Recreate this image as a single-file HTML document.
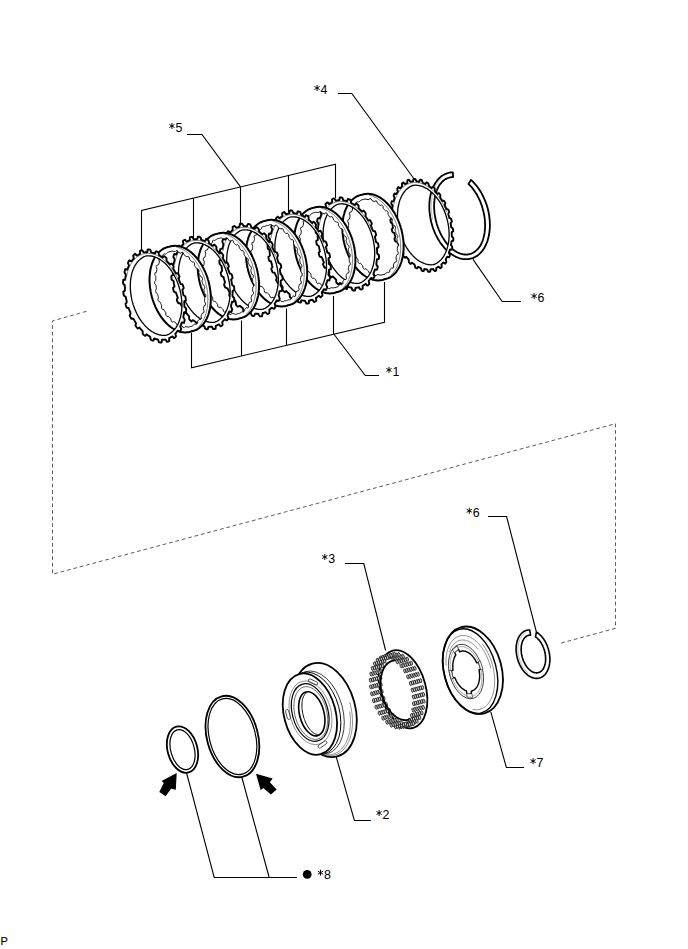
<!DOCTYPE html>
<html><head><meta charset="utf-8"><style>
html,body{margin:0;padding:0;background:#fff;width:688px;height:949px;overflow:hidden}
svg{display:block}
</style></head><body><svg width="688" height="949" viewBox="0 0 688 949"><defs></defs><path d="M86.5,311.3 L52.5,320.9 L52.5,574.2 L615.5,423.7 L615.5,628.3 L560.3,643.3" fill="none" stroke="#555" stroke-width="0.95" stroke-dasharray="3.8,2.8"/><path d="M452.8,172.4 451.6,172.4 450.4,172.5 449.3,172.7 448.1,173 447,173.4 445.9,173.8 444.8,174.2 443.7,174.8 442.7,175.4 441.7,176.1 440.7,176.8 439.8,177.6 438.9,178.5 438,179.4 437.2,180.4 436.4,181.5 435.6,182.6 434.9,183.8 434.2,185 433.5,186.2 432.9,187.6 432.4,188.9 431.9,190.3 431.4,191.8 431,193.3 430.6,194.8 430.3,196.3 430,197.9 429.7,199.5 429.6,201.2 429.4,202.9 429.4,204.6 429.3,206.3 429.3,208 429.4,209.7 429.5,211.5 429.7,213.2 429.9,215 430.2,216.7 430.5,218.5 430.8,220.3 431.2,222 431.7,223.7 432.2,225.5 432.7,227.2 433.3,228.9 434,230.5 434.6,232.2 435.3,233.8 436.1,235.4 436.9,236.9 437.7,238.5 438.6,239.9 439.5,241.4 440.4,242.8 441.4,244.1 442.4,245.4 443.4,246.7 444.4,247.9 445.5,249.1 446.6,250.2 447.7,251.2 448.9,252.2 450,253.2 451.2,254 452.4,254.8 453.6,255.6 454.8,256.2 456,256.9 457.2,257.4 458.5,257.9 459.7,258.3 460.9,258.6 462.1,258.9 463.4,259.1 464.6,259.2 465.8,259.2 467,259.2 468.2,259.1 469.3,259 470.5,258.7 471.6,258.4 472.7,258.1 473.8,257.6 474.9,257.1 475.9,256.5 477,255.9 478,255.2 478.9,254.4 479.8,253.6 480.7,252.7 481.6,251.7 482.4,250.7 483.2,249.6 484,248.5 484.7,247.3 485.3,246 486,244.7 486.5,243.4 487.1,242 487.6,240.6 488,239.1 488.4,237.6 488.8,236.1 489.1,234.5 489.3,232.9 489.5,231.3 489.7,229.6 489.8,227.9 489.9,226.2 489.9,224.5 489.8,222.8 489.8,221.1 489.6,219.3 489.4,217.5 489.2,215.8 488.9,214 488.6,212.3 488.2,210.5 487.8,208.8 487.3,207 486.8,205.3 486.2,203.6 485.6,201.9 484.9,200.3 484.2,198.7 483.5,197.1 482.7,195.5 481.9,193.9 481.1,192.4 480.2,191 479.3,189.6 478.3,188.2 477.4,186.8 476.3,185.5 475.3,184.3 474.2,183.1 473.2,182 472.1,180.9 470.9,179.9 468.5,184 469.5,184.9 470.4,185.9 471.4,186.9 472.3,188 473.1,189.1 474,190.3 474.8,191.5 475.7,192.7 476.5,194 477.2,195.3 477.9,196.7 478.6,198.1 479.3,199.5 480,200.9 480.6,202.4 481.1,203.9 481.7,205.4 482.2,206.9 482.6,208.4 483,210 483.4,211.5 483.8,213.1 484.1,214.7 484.4,216.2 484.6,217.8 484.8,219.4 484.9,220.9 485,222.5 485.1,224 485.1,225.6 485.1,227.1 485,228.6 484.9,230 484.7,231.5 484.6,232.9 484.3,234.3 484,235.7 483.7,237 483.4,238.3 483,239.6 482.6,240.8 482.1,242 481.6,243.1 481.1,244.2 480.5,245.2 479.9,246.2 479.2,247.2 478.6,248.1 477.9,248.9 477.1,249.7 476.4,250.4 475.6,251.1 474.7,251.7 473.9,252.3 473,252.8 472.1,253.2 471.2,253.6 470.3,253.9 469.4,254.2 468.4,254.4 467.4,254.5 466.4,254.6 465.4,254.5 464.4,254.5 463.4,254.4 462.4,254.2 461.4,253.9 460.3,253.6 459.3,253.2 458.3,252.8 457.2,252.3 456.2,251.7 455.2,251.1 454.2,250.4 453.2,249.7 452.2,248.9 451.2,248 450.2,247.1 449.3,246.2 448.3,245.2 447.4,244.2 446.5,243.1 445.6,241.9 444.8,240.7 444,239.5 443.2,238.3 442.4,237 441.6,235.6 440.9,234.3 440.2,232.9 439.6,231.4 439,230 438.4,228.5 437.8,227 437.3,225.5 436.8,224 436.4,222.4 436,220.9 435.6,219.3 435.3,217.8 435,216.2 434.7,214.6 434.5,213 434.4,211.5 434.2,209.9 434.2,208.4 434.1,206.8 434.1,205.3 434.2,203.8 434.2,202.3 434.4,200.9 434.5,199.4 434.8,198 435,196.7 435.3,195.3 435.6,194 436,192.7 436.4,191.5 436.9,190.3 437.3,189.1 437.9,188 438.4,186.9 439,185.9 439.6,184.9 440.3,184 441,183.1 441.7,182.3 442.4,181.5 443.2,180.8 444,180.2 444.9,179.6 445.7,179.1 446.6,178.6 447.5,178.2 448.4,177.8 449.3,177.6 450.3,177.3 451.3,177.2 452.2,177.1 453.2,177Z" fill="#fff" stroke="#000" stroke-width="1.8" stroke-linejoin="round"/><path d="M441.4,178.5 440.2,179.6 439.1,180.9 438,182.2 437,183.7 436,185.3 435.2,187 434.4,188.7 433.7,190.6 433.1,192.5 432.5,194.6 432.1,196.7 431.7,198.8 431.5,201 431.3,203.3 431.2,205.6 431.3,207.9 431.4,210.3 431.6,212.6 431.9,215 432.3,217.4 432.7,219.8" fill="none" stroke="#888" stroke-width="0.5"/><path d="M433.7,269.7 434.6,271.1 435.1,271 435.6,270.8 436.1,270.6 436.3,269.7 436.3,267.9 436.7,267.6 437.2,267.4 437.6,267.2 438.1,266.9 438.5,266.7 439.3,267.2 440.3,268.3 440.8,268 441.2,267.7 441.6,267.3 441.7,266.3 441.4,264.5 441.8,264.1 442.2,263.7 442.6,263.3 442.9,262.9 443.3,262.5 444.1,262.8 445.2,263.7 445.6,263.2 446,262.7 446.3,262.2 446.3,261.2 445.7,259.4 446,258.8 446.3,258.3 446.6,257.8 446.9,257.3 447.2,256.8 447.9,256.8 449.1,257.3 449.4,256.7 449.7,256.1 449.9,255.5 449.7,254.4 448.9,252.8 449.1,252.1 449.4,251.5 449.6,250.9 449.7,250.3 449.9,249.6 450.7,249.4 451.8,249.6 452,248.9 452.2,248.2 452.3,247.5 452,246.4 451,245 451.1,244.3 451.2,243.6 451.3,242.9 451.4,242.2 451.5,241.4 452.1,241 453.2,240.8 453.3,240 453.3,239.3 453.4,238.5 452.9,237.5 451.8,236.3 451.8,235.6 451.8,234.8 451.7,234.1 451.7,233.3 451.7,232.6 452.2,231.9 453.2,231.3 453.2,230.5 453.1,229.7 453,228.9 452.5,228.1 451.2,227.2 451.1,226.4 451,225.7 450.9,224.9 450.8,224.1 450.6,223.4 451,222.5 451.9,221.6 451.7,220.8 451.5,220 451.3,219.2 450.7,218.5 449.4,218 449.2,217.2 449,216.5 448.8,215.7 448.5,215 448.3,214.2 448.5,213.3 449.2,212.1 448.9,211.3 448.7,210.5 448.4,209.7 447.6,209.2 446.4,209.1 446.1,208.4 445.8,207.7 445.4,207 445.1,206.3 444.8,205.6 444.9,204.5 445.3,203.1 445,202.4 444.6,201.7 444.2,201 443.5,200.7 442.3,201 441.9,200.3 441.5,199.7 441.1,199.1 440.7,198.5 440.3,197.9 440.2,196.7 440.4,195.1 440,194.5 439.5,193.9 439.1,193.3 438.3,193.2 437.3,193.9 436.8,193.3 436.4,192.8 435.9,192.3 435.5,191.8 435,191.3 434.8,190.1 434.7,188.4 434.2,187.9 433.7,187.4 433.2,187 432.5,187.1 431.6,188.1 431.1,187.7 430.6,187.3 430.1,187 429.6,186.6 429.1,186.2 428.7,185.1 428.4,183.4 427.9,183 427.4,182.7 426.8,182.4 426.2,182.8 425.5,184 425,183.8 424.5,183.5 424,183.3 423.4,183.1 422.9,182.9 422.4,181.9 421.9,180.1 421.3,179.9 420.8,179.8 420.2,179.6 419.7,180.2 419.3,181.8 418.7,181.7 418.2,181.6 417.7,181.5 417.2,181.4 416.7,181.4 416,180.5 415.3,178.9 414.8,178.9 414.2,178.9 413.7,178.9 413.3,179.7 413.1,181.4 412.6,181.5 412.1,181.5 411.6,181.6 411.1,181.7 410.6,181.8 409.9,181.1 409,179.7 408.5,179.8 408,180 407.5,180.2 407.3,181.1 407.3,182.9 406.9,183.2 406.4,183.4 406,183.6 405.5,183.9 405.1,184.1 404.3,183.6 403.3,182.5 402.8,182.8 402.4,183.1 402,183.5 401.9,184.5 402.2,186.3 401.8,186.7 401.4,187.1 401,187.5 400.7,187.9 400.3,188.3 399.5,188 398.4,187.1 398,187.6 397.6,188.1 397.3,188.6 397.3,189.6 397.9,191.4 397.6,192 397.3,192.5 397,193 396.7,193.5 396.4,194 395.7,194 394.5,193.5 394.2,194.1 393.9,194.7 393.7,195.3 393.9,196.4 394.7,198 394.5,198.7 394.2,199.3 394,199.9 393.9,200.5 393.7,201.2 392.9,201.4 391.8,201.2 391.6,201.9 391.4,202.6 391.3,203.3 391.6,204.4 392.6,205.8 392.5,206.5 392.4,207.2 392.3,207.9 392.2,208.6 392.1,209.4 391.5,209.8 390.4,210 390.3,210.8 390.3,211.5 390.2,212.3 390.7,213.3 391.8,214.5 391.8,215.2 391.8,216 391.9,216.7 391.9,217.5 391.9,218.2 391.4,218.9 390.4,219.5 390.4,220.3 390.5,221.1 390.6,221.9 391.1,222.7 392.4,223.6 392.5,224.4 392.6,225.1 392.7,225.9 392.8,226.7 393,227.4 392.6,228.3 391.7,229.2 391.9,230 392.1,230.8 392.3,231.6 392.9,232.3 394.2,232.8 394.4,233.6 394.6,234.3 394.8,235.1 395.1,235.8 395.3,236.6 395.1,237.5 394.4,238.7 394.7,239.5 394.9,240.3 395.2,241.1 396,241.6 397.2,241.7 397.5,242.4 397.8,243.1 398.2,243.8 398.5,244.5 398.8,245.2 398.7,246.3 398.3,247.7 398.6,248.4 399,249.1 399.4,249.8 400.1,250.1 401.3,249.8 401.7,250.5 402.1,251.1 402.5,251.7 402.9,252.3 403.3,252.9 403.4,254.1 403.2,255.7 403.6,256.3 404.1,256.9 404.5,257.5 405.3,257.6 406.3,256.9 406.8,257.5 407.2,258 407.7,258.5 408.1,259 408.6,259.5 408.8,260.7 408.9,262.4 409.4,262.9 409.9,263.4 410.4,263.8 411.1,263.7 412,262.7 412.5,263.1 413,263.5 413.5,263.8 414,264.2 414.5,264.6 414.9,265.7 415.2,267.4 415.7,267.8 416.2,268.1 416.8,268.4 417.4,268 418.1,266.8 418.6,267 419.1,267.3 419.6,267.5 420.2,267.7 420.7,267.9 421.2,268.9 421.7,270.7 422.3,270.9 422.8,271 423.4,271.2 423.9,270.6 424.3,269 424.9,269.1 425.4,269.2 425.9,269.3 426.4,269.4 426.9,269.4 427.6,270.3 428.3,271.9 428.8,271.9 429.4,271.9 429.9,271.9 430.3,271.1 430.5,269.4 431,269.3 431.5,269.3 432,269.2 432.5,269.1 433,269Z M448.3,225 448.4,225.7 448.5,226.3 448.6,227 448.7,227.7 448.8,228.4 448.8,229 448.9,229.7 449,230.5 449,231.2 449,231.9 449.1,232.6 449.1,233.4 449.1,234.1 449.1,234.9 449.1,235.7 449.1,236.5 449,237.3 449,238.1 448.9,238.9 448.9,239.8 448.8,240.6 448.7,241.5 448.5,242.3 448.4,243.2 448.2,244.1 448,245 447.8,246 447.6,246.9 447.3,247.8 447,248.8 446.7,249.7 446.4,250.7 446,251.6 445.6,252.6 445.2,253.5 444.7,254.4 444.2,255.4 443.6,256.3 443,257.2 442.4,258 441.7,258.9 441,259.7 440.2,260.5 439.4,261.2 438.6,261.9 437.7,262.5 436.8,263.1 435.9,263.7 434.9,264.1 433.9,264.5 432.8,264.7 431.7,264.8 430.7,264.8 429.6,264.7 428.5,264.6 427.4,264.4 426.4,264.2 425.3,263.9 424.3,263.5 423.3,263.1 422.3,262.7 421.3,262.2 420.4,261.7 419.5,261.2 418.6,260.6 417.7,260 416.9,259.4 416.1,258.8 415.3,258.1 414.6,257.5 413.9,256.8 413.2,256.1 412.5,255.4 411.9,254.7 411.3,254 410.7,253.3 410.1,252.6 409.6,251.9 409,251.2 408.5,250.6 408.1,249.9 407.6,249.2 407.1,248.5 406.7,247.8 406.3,247.2 405.9,246.5 405.5,245.8 405.1,245.2 404.8,244.5 404.4,243.8 404.1,243.2 403.8,242.6 403.5,241.9 403.2,241.3 402.9,240.6 402.6,240 402.4,239.4 402.1,238.8 401.9,238.1 401.6,237.5 401.4,236.9 401.2,236.3 401,235.7 400.7,235 400.5,234.4 400.3,233.8 400.2,233.2 400,232.6 399.8,232 399.6,231.3 399.5,230.7 399.3,230.1 399.2,229.5 399,228.8 398.9,228.2 398.7,227.6 398.6,226.9 398.5,226.3 398.4,225.7 398.3,225 398.2,224.3 398.1,223.7 398,223 397.9,222.3 397.8,221.6 397.8,221 397.7,220.3 397.6,219.5 397.6,218.8 397.5,218.1 397.5,217.4 397.5,216.6 397.5,215.9 397.5,215.1 397.5,214.3 397.5,213.5 397.6,212.7 397.6,211.9 397.7,211.1 397.7,210.2 397.8,209.4 397.9,208.5 398.1,207.7 398.2,206.8 398.4,205.9 398.6,205 398.8,204 399,203.1 399.2,202.2 399.5,201.2 399.8,200.3 400.2,199.3 400.6,198.4 401,197.4 401.4,196.5 401.9,195.6 402.4,194.6 403,193.7 403.6,192.8 404.2,192 404.9,191.1 405.6,190.3 406.4,189.5 407.2,188.8 408,188.1 408.9,187.5 409.8,186.9 410.7,186.3 411.7,185.9 412.7,185.5 413.8,185.3 414.8,185.2 415.9,185.2 417,185.3 418.1,185.4 419.2,185.6 420.2,185.8 421.3,186.1 422.3,186.5 423.3,186.9 424.3,187.3 425.2,187.8 426.2,188.3 427.1,188.8 428,189.4 428.8,190 429.7,190.6 430.5,191.2 431.2,191.9 432,192.5 432.7,193.2 433.4,193.9 434.1,194.6 434.7,195.3 435.3,196 435.9,196.7 436.5,197.4 437,198.1 437.5,198.8 438,199.4 438.5,200.1 439,200.8 439.4,201.5 439.9,202.2 440.3,202.8 440.7,203.5 441.1,204.2 441.4,204.8 441.8,205.5 442.1,206.2 442.5,206.8 442.8,207.4 443.1,208.1 443.4,208.7 443.7,209.4 444,210 444.2,210.6 444.5,211.2 444.7,211.9 445,212.5 445.2,213.1 445.4,213.7 445.6,214.3 445.8,215 446,215.6 446.2,216.2 446.4,216.8 446.6,217.4 446.8,218 446.9,218.7 447.1,219.3 447.3,219.9 447.4,220.5 447.6,221.2 447.7,221.8 447.8,222.4 448,223.1 448.1,223.7 448.2,224.3Z" fill="#fff" fill-rule="evenodd" stroke="none"/><path d="M433.7,269.7 434.6,271.1 435.1,271 435.6,270.8 436.1,270.6 436.3,269.7 436.3,267.9 436.7,267.6 437.2,267.4 437.6,267.2 438.1,266.9 438.5,266.7 439.3,267.2 440.3,268.3 440.8,268 441.2,267.7 441.6,267.3 441.7,266.3 441.4,264.5 441.8,264.1 442.2,263.7 442.6,263.3 442.9,262.9 443.3,262.5 444.1,262.8 445.2,263.7 445.6,263.2 446,262.7 446.3,262.2 446.3,261.2 445.7,259.4 446,258.8 446.3,258.3 446.6,257.8 446.9,257.3 447.2,256.8 447.9,256.8 449.1,257.3 449.4,256.7 449.7,256.1 449.9,255.5 449.7,254.4 448.9,252.8 449.1,252.1 449.4,251.5 449.6,250.9 449.7,250.3 449.9,249.6 450.7,249.4 451.8,249.6 452,248.9 452.2,248.2 452.3,247.5 452,246.4 451,245 451.1,244.3 451.2,243.6 451.3,242.9 451.4,242.2 451.5,241.4 452.1,241 453.2,240.8 453.3,240 453.3,239.3 453.4,238.5 452.9,237.5 451.8,236.3 451.8,235.6 451.8,234.8 451.7,234.1 451.7,233.3 451.7,232.6 452.2,231.9 453.2,231.3 453.2,230.5 453.1,229.7 453,228.9 452.5,228.1 451.2,227.2 451.1,226.4 451,225.7 450.9,224.9 450.8,224.1 450.6,223.4 451,222.5 451.9,221.6 451.7,220.8 451.5,220 451.3,219.2 450.7,218.5 449.4,218 449.2,217.2 449,216.5 448.8,215.7 448.5,215 448.3,214.2 448.5,213.3 449.2,212.1 448.9,211.3 448.7,210.5 448.4,209.7 447.6,209.2 446.4,209.1 446.1,208.4 445.8,207.7 445.4,207 445.1,206.3 444.8,205.6 444.9,204.5 445.3,203.1 445,202.4 444.6,201.7 444.2,201 443.5,200.7 442.3,201 441.9,200.3 441.5,199.7 441.1,199.1 440.7,198.5 440.3,197.9 440.2,196.7 440.4,195.1 440,194.5 439.5,193.9 439.1,193.3 438.3,193.2 437.3,193.9 436.8,193.3 436.4,192.8 435.9,192.3 435.5,191.8 435,191.3 434.8,190.1 434.7,188.4 434.2,187.9 433.7,187.4 433.2,187 432.5,187.1 431.6,188.1 431.1,187.7 430.6,187.3 430.1,187 429.6,186.6 429.1,186.2 428.7,185.1 428.4,183.4 427.9,183 427.4,182.7 426.8,182.4 426.2,182.8 425.5,184 425,183.8 424.5,183.5 424,183.3 423.4,183.1 422.9,182.9 422.4,181.9 421.9,180.1 421.3,179.9 420.8,179.8 420.2,179.6 419.7,180.2 419.3,181.8 418.7,181.7 418.2,181.6 417.7,181.5 417.2,181.4 416.7,181.4 416,180.5 415.3,178.9 414.8,178.9 414.2,178.9 413.7,178.9 413.3,179.7 413.1,181.4 412.6,181.5 412.1,181.5 411.6,181.6 411.1,181.7 410.6,181.8 409.9,181.1 409,179.7 408.5,179.8 408,180 407.5,180.2 407.3,181.1 407.3,182.9 406.9,183.2 406.4,183.4 406,183.6 405.5,183.9 405.1,184.1 404.3,183.6 403.3,182.5 402.8,182.8 402.4,183.1 402,183.5 401.9,184.5 402.2,186.3 401.8,186.7 401.4,187.1 401,187.5 400.7,187.9 400.3,188.3 399.5,188 398.4,187.1 398,187.6 397.6,188.1 397.3,188.6 397.3,189.6 397.9,191.4 397.6,192 397.3,192.5 397,193 396.7,193.5 396.4,194 395.7,194 394.5,193.5 394.2,194.1 393.9,194.7 393.7,195.3 393.9,196.4 394.7,198 394.5,198.7 394.2,199.3 394,199.9 393.9,200.5 393.7,201.2 392.9,201.4 391.8,201.2 391.6,201.9 391.4,202.6 391.3,203.3 391.6,204.4 392.6,205.8 392.5,206.5 392.4,207.2 392.3,207.9 392.2,208.6 392.1,209.4 391.5,209.8 390.4,210 390.3,210.8 390.3,211.5 390.2,212.3 390.7,213.3 391.8,214.5 391.8,215.2 391.8,216 391.9,216.7 391.9,217.5 391.9,218.2 391.4,218.9 390.4,219.5 390.4,220.3 390.5,221.1 390.6,221.9 391.1,222.7 392.4,223.6 392.5,224.4 392.6,225.1 392.7,225.9 392.8,226.7 393,227.4 392.6,228.3 391.7,229.2 391.9,230 392.1,230.8 392.3,231.6 392.9,232.3 394.2,232.8 394.4,233.6 394.6,234.3 394.8,235.1 395.1,235.8 395.3,236.6 395.1,237.5 394.4,238.7 394.7,239.5 394.9,240.3 395.2,241.1 396,241.6 397.2,241.7 397.5,242.4 397.8,243.1 398.2,243.8 398.5,244.5 398.8,245.2 398.7,246.3 398.3,247.7 398.6,248.4 399,249.1 399.4,249.8 400.1,250.1 401.3,249.8 401.7,250.5 402.1,251.1 402.5,251.7 402.9,252.3 403.3,252.9 403.4,254.1 403.2,255.7 403.6,256.3 404.1,256.9 404.5,257.5 405.3,257.6 406.3,256.9 406.8,257.5 407.2,258 407.7,258.5 408.1,259 408.6,259.5 408.8,260.7 408.9,262.4 409.4,262.9 409.9,263.4 410.4,263.8 411.1,263.7 412,262.7 412.5,263.1 413,263.5 413.5,263.8 414,264.2 414.5,264.6 414.9,265.7 415.2,267.4 415.7,267.8 416.2,268.1 416.8,268.4 417.4,268 418.1,266.8 418.6,267 419.1,267.3 419.6,267.5 420.2,267.7 420.7,267.9 421.2,268.9 421.7,270.7 422.3,270.9 422.8,271 423.4,271.2 423.9,270.6 424.3,269 424.9,269.1 425.4,269.2 425.9,269.3 426.4,269.4 426.9,269.4 427.6,270.3 428.3,271.9 428.8,271.9 429.4,271.9 429.9,271.9 430.3,271.1 430.5,269.4 431,269.3 431.5,269.3 432,269.2 432.5,269.1 433,269Z" fill="none" stroke="#000" stroke-width="1.9" stroke-linejoin="round"/><path d="M448.3,225 448.4,225.7 448.5,226.3 448.6,227 448.7,227.7 448.8,228.4 448.8,229 448.9,229.7 449,230.5 449,231.2 449,231.9 449.1,232.6 449.1,233.4 449.1,234.1 449.1,234.9 449.1,235.7 449.1,236.5 449,237.3 449,238.1 448.9,238.9 448.9,239.8 448.8,240.6 448.7,241.5 448.5,242.3 448.4,243.2 448.2,244.1 448,245 447.8,246 447.6,246.9 447.3,247.8 447,248.8 446.7,249.7 446.4,250.7 446,251.6 445.6,252.6 445.2,253.5 444.7,254.4 444.2,255.4 443.6,256.3 443,257.2 442.4,258 441.7,258.9 441,259.7 440.2,260.5 439.4,261.2 438.6,261.9 437.7,262.5 436.8,263.1 435.9,263.7 434.9,264.1 433.9,264.5 432.8,264.7 431.7,264.8 430.7,264.8 429.6,264.7 428.5,264.6 427.4,264.4 426.4,264.2 425.3,263.9 424.3,263.5 423.3,263.1 422.3,262.7 421.3,262.2 420.4,261.7 419.5,261.2 418.6,260.6 417.7,260 416.9,259.4 416.1,258.8 415.3,258.1 414.6,257.5 413.9,256.8 413.2,256.1 412.5,255.4 411.9,254.7 411.3,254 410.7,253.3 410.1,252.6 409.6,251.9 409,251.2 408.5,250.6 408.1,249.9 407.6,249.2 407.1,248.5 406.7,247.8 406.3,247.2 405.9,246.5 405.5,245.8 405.1,245.2 404.8,244.5 404.4,243.8 404.1,243.2 403.8,242.6 403.5,241.9 403.2,241.3 402.9,240.6 402.6,240 402.4,239.4 402.1,238.8 401.9,238.1 401.6,237.5 401.4,236.9 401.2,236.3 401,235.7 400.7,235 400.5,234.4 400.3,233.8 400.2,233.2 400,232.6 399.8,232 399.6,231.3 399.5,230.7 399.3,230.1 399.2,229.5 399,228.8 398.9,228.2 398.7,227.6 398.6,226.9 398.5,226.3 398.4,225.7 398.3,225 398.2,224.3 398.1,223.7 398,223 397.9,222.3 397.8,221.6 397.8,221 397.7,220.3 397.6,219.5 397.6,218.8 397.5,218.1 397.5,217.4 397.5,216.6 397.5,215.9 397.5,215.1 397.5,214.3 397.5,213.5 397.6,212.7 397.6,211.9 397.7,211.1 397.7,210.2 397.8,209.4 397.9,208.5 398.1,207.7 398.2,206.8 398.4,205.9 398.6,205 398.8,204 399,203.1 399.2,202.2 399.5,201.2 399.8,200.3 400.2,199.3 400.6,198.4 401,197.4 401.4,196.5 401.9,195.6 402.4,194.6 403,193.7 403.6,192.8 404.2,192 404.9,191.1 405.6,190.3 406.4,189.5 407.2,188.8 408,188.1 408.9,187.5 409.8,186.9 410.7,186.3 411.7,185.9 412.7,185.5 413.8,185.3 414.8,185.2 415.9,185.2 417,185.3 418.1,185.4 419.2,185.6 420.2,185.8 421.3,186.1 422.3,186.5 423.3,186.9 424.3,187.3 425.2,187.8 426.2,188.3 427.1,188.8 428,189.4 428.8,190 429.7,190.6 430.5,191.2 431.2,191.9 432,192.5 432.7,193.2 433.4,193.9 434.1,194.6 434.7,195.3 435.3,196 435.9,196.7 436.5,197.4 437,198.1 437.5,198.8 438,199.4 438.5,200.1 439,200.8 439.4,201.5 439.9,202.2 440.3,202.8 440.7,203.5 441.1,204.2 441.4,204.8 441.8,205.5 442.1,206.2 442.5,206.8 442.8,207.4 443.1,208.1 443.4,208.7 443.7,209.4 444,210 444.2,210.6 444.5,211.2 444.7,211.9 445,212.5 445.2,213.1 445.4,213.7 445.6,214.3 445.8,215 446,215.6 446.2,216.2 446.4,216.8 446.6,217.4 446.8,218 446.9,218.7 447.1,219.3 447.3,219.9 447.4,220.5 447.6,221.2 447.7,221.8 447.8,222.4 448,223.1 448.1,223.7 448.2,224.3Z" fill="none" stroke="#000" stroke-width="1.3"/><path d="M446.6,211.7 445.9,210.1 445.3,208.5 444.6,207 443.8,205.5 443.1,204 442.3,202.6 441.5,201.2 440.6,199.8 439.7,198.4 438.8,197.2 437.8,195.9 436.9,194.7 435.9,193.6 434.9,192.4 433.8,191.4 432.8,190.4 431.7,189.4 430.6,188.6 429.5,187.7 428.4,186.9 427.3,186.2 426.2,185.6 425,185 423.9,184.4 422.8,184 421.6,183.6 420.5,183.2 419.3,182.9 418.2,182.7 417,182.6 415.9,182.5 414.8,182.5 413.7,182.5 412.6,182.7 411.5,182.8 410.5,183.1 409.4,183.4 408.4,183.8 407.4,184.2 406.4,184.7 405.4,185.3 404.5,185.9 403.6,186.6 402.7,187.4 401.9,188.2 401,189.1 400.3,190 399.5,191 398.8,192 398.1,193.1 397.4,194.2 396.8,195.4 396.3,196.6 395.7,197.9 395.2,199.2 394.8,200.6 394.4,202 394,203.4 393.7,204.9 393.4,206.4" fill="none" stroke="#333" stroke-width="0.6"/><path d="M402.9,237.1 403,237.9 403.2,238.7 403.2,239.5 403.3,240.3 403.4,241.1 403.5,241.9 403.5,242.8 403.6,243.6 403.6,244.5 403.6,245.3 403.6,246.2 403.6,247.1 403.6,247.9 403.6,248.8 403.6,249.8 403.5,250.7 403.4,251.6 403.3,252.6 403.2,253.5 403.1,254.5 402.9,255.4 402.8,256.4 402.6,257.4 402.3,258.4 402.1,259.4 401.8,260.4 401.5,261.5 401.2,262.5 400.8,263.5 400.4,264.5 400,265.5 399.5,266.6 399,267.6 398.5,268.5 397.9,269.5 397.2,270.5 396.6,271.4 395.9,272.3 395.1,273.2 394.3,274 393.5,274.8 392.6,275.5 391.7,276.2 390.7,276.9 389.7,277.5 388.7,278 387.6,278.4 386.5,278.8 385.4,279.1 384.3,279.3 383.2,279.7 382.1,280 381,280.2 379.8,280.3 378.7,280.4 377.5,280.4 376.4,280.3 375.3,280.2 374.1,280 373,279.7 371.9,279.4 370.8,279 369.7,278.6 368.7,278.1 367.7,277.6 366.7,277.1 365.7,276.5 364.8,275.9 363.8,275.2 363,274.6 362.1,273.9 361.3,273.2 360.5,272.5 359.7,271.7 359,271 358.2,270.2 357.5,269.5 356.9,268.7 356.2,268 355.6,267.2 355,266.4 354.4,265.7 353.9,264.9 353.4,264.1 352.9,263.3 352.4,262.6 351.9,261.8 351.4,261.1 351,260.3 350.6,259.5 350.2,258.8 349.8,258 349.4,257.3 349,256.5 348.7,255.8 348.3,255 348,254.3 347.7,253.5 347.4,252.8 347.1,252.1 346.8,251.3 346.5,250.6 346.2,249.9 346,249.1 345.7,248.4 345.5,247.7 345.3,246.9 345,246.2 344.8,245.4 344.6,244.7 344.4,244 344.3,243.2 344.1,242.5 343.9,241.7 343.7,241 343.6,240.2 343.4,239.4 343.3,238.7 343.2,237.9 343.1,237.1 342.9,236.3 342.8,235.5 342.7,234.7 342.7,233.9 342.6,233.1 342.5,232.3 342.5,231.4 342.4,230.6 342.4,229.7 342.3,228.9 342.3,228 342.3,227.1 342.4,226.3 342.4,225.4 342.4,224.4 342.5,223.5 342.6,222.6 342.7,221.6 342.8,220.7 342.9,219.7 343.1,218.8 343.2,217.8 343.4,216.8 343.6,215.8 343.9,214.8 344.2,213.8 344.5,212.7 344.8,211.7 345.2,210.7 345.6,209.7 346,208.7 346.5,207.6 347,206.6 347.5,205.7 348.1,204.7 348.7,203.7 349.4,202.8 350.1,201.9 350.9,201 351.7,200.2 352.5,199.4 353.4,198.7 354.3,198 355.3,197.3 356.3,196.7 357.3,196.2 358.4,195.8 359.4,195.4 360.6,195.1 361.7,194.9 362.8,194.5 363.9,194.2 365,194 366.1,193.9 367.3,193.8 368.4,193.8 369.6,193.9 370.7,194 371.9,194.2 373,194.5 374.1,194.8 375.2,195.2 376.3,195.6 377.3,196.1 378.3,196.6 379.3,197.1 380.3,197.7 381.2,198.3 382.1,199 383,199.6 383.9,200.3 384.7,201 385.5,201.7 386.3,202.5 387,203.2 387.7,204 388.4,204.7 389.1,205.5 389.7,206.2 390.4,207 391,207.8 391.5,208.5 392.1,209.3 392.6,210.1 393.1,210.9 393.6,211.6 394.1,212.4 394.6,213.1 395,213.9 395.4,214.7 395.8,215.4 396.2,216.2 396.6,216.9 397,217.7 397.3,218.4 397.7,219.2 398,219.9 398.3,220.7 398.6,221.4 398.9,222.1 399.2,222.9 399.5,223.6 399.8,224.3 400,225.1 400.3,225.8 400.5,226.5 400.7,227.3 400.9,228 401.2,228.8 401.4,229.5 401.6,230.2 401.7,231 401.9,231.7 402.1,232.5 402.2,233.2 402.4,234 402.5,234.8 402.7,235.5 402.8,236.3Z M397.8,237.1 397.4,237.7 396.9,238.4 396.9,239 397,239.6 397.1,240.3 397.1,240.9 397.2,241.6 397.3,242.3 397.8,243.1 398.6,243.9 398.6,244.7 398.6,245.4 398.5,246.1 397.6,246.5 397.4,247.2 397.4,248 397.3,248.7 397.3,249.5 397.2,250.3 397.5,251.2 398.3,252.6 398.2,253.5 398.1,254.3 397.1,254.6 396.6,255.2 396.4,256.1 396.2,256.9 396,257.8 396.1,259 396.6,260.7 396.3,261.7 395.5,262.1 394.5,262.3 394.1,263.2 393.7,264.1 393.4,265.1 393.7,267.3 393.2,268.2 391.9,267.9 391.1,268.4 390.4,269.2 389.7,270 389.6,271.9 388.7,272.5 387.6,272.3 386.7,272.7 385.8,273.3 385,274.1 384,274.4 383,274.6 382.1,274.9 381.1,275.2 380,275 379,274.8 377.9,274.6 377,274.8 376,275.6 375,275.4 373.9,273.6 373,273.2 372.1,272.8 371.1,272.7 370.1,273.6 369.2,273.1 368.5,271.1 367.7,270.3 367,269.7 366.2,269.1 365.4,268.8 364.4,269.3 363.6,268.7 363,267.9 362.8,265.9 362.2,265.2 361.6,264.6 361.1,263.9 360.5,263.3 359.5,263.5 358.8,263.2 358.3,262.5 357.9,261.7 358.1,260.1 357.7,259.3 357.3,258.7 356.9,258 356.5,257.4 356.2,256.8 355.7,256.4 354.7,256.4 354.3,255.8 353.9,255.2 353.6,254.5 353.6,253.6 353.9,252.5 353.7,251.9 353.5,251.3 353.2,250.7 353,250.1 352.7,249.5 352.5,248.9 352.1,248.5 351.1,248.3 350.8,247.7 350.6,247.1 350.4,246.5 350.3,245.8 350.7,245 350.9,244.3 350.8,243.7 350.6,243.1 350.5,242.5 350.3,241.9 350.2,241.3 350,240.7 349.7,240.2 348.9,239.6 348.5,239 348.3,238.4 348.2,237.7 348.2,237.1 348.6,236.5 349.1,235.8 349.1,235.2 349,234.6 348.9,233.9 348.8,233.3 348.8,232.6 348.7,231.9 348.2,231.1 347.4,230.3 347.4,229.5 347.3,228.8 347.5,228.1 348.4,227.7 348.6,227 348.6,226.2 348.6,225.5 348.7,224.7 348.7,223.9 348.5,223 347.7,221.6 347.8,220.7 347.9,219.9 348.8,219.6 349.4,219 349.6,218.1 349.8,217.3 350,216.4 349.9,215.2 349.4,213.5 349.7,212.5 350.5,212.1 351.5,211.9 351.9,211 352.3,210.1 352.6,209.1 352.2,206.9 352.8,206 354.1,206.3 354.9,205.8 355.6,205 356.2,204.2 356.4,202.3 357.2,201.7 358.4,201.9 359.3,201.5 360.2,200.9 361,200.1 361.9,199.8 362.9,199.6 363.9,199.3 364.9,199 366,199.2 367,199.4 368.1,199.6 369,199.4 370,198.6 371,198.8 372,200.6 373,201 373.9,201.4 374.9,201.5 375.9,200.6 376.8,201.1 377.5,203.1 378.2,203.9 379,204.5 379.8,205.1 380.6,205.4 381.6,204.9 382.4,205.5 383,206.3 383.2,208.3 383.8,209 384.4,209.6 384.9,210.3 385.5,210.9 386.5,210.7 387.2,211 387.7,211.7 388.1,212.5 387.9,214.1 388.3,214.9 388.7,215.5 389.1,216.2 389.4,216.8 389.8,217.4 390.3,217.8 391.3,217.8 391.7,218.4 392.1,219 392.4,219.7 392.3,220.6 392,221.7 392.3,222.3 392.5,222.9 392.8,223.5 393,224.1 393.3,224.7 393.5,225.3 393.9,225.7 394.9,225.9 395.2,226.5 395.4,227.1 395.6,227.7 395.7,228.4 395.3,229.2 395.1,229.9 395.2,230.5 395.4,231.1 395.5,231.7 395.7,232.3 395.8,232.9 395.9,233.5 396.2,234 397.1,234.6 397.5,235.2 397.7,235.8 397.8,236.5Z" fill="#fff" fill-rule="evenodd" stroke="none"/><path d="M402.9,237.1 403,237.9 403.2,238.7 403.2,239.5 403.3,240.3 403.4,241.1 403.5,241.9 403.5,242.8 403.6,243.6 403.6,244.5 403.6,245.3 403.6,246.2 403.6,247.1 403.6,247.9 403.6,248.8 403.6,249.8 403.5,250.7 403.4,251.6 403.3,252.6 403.2,253.5 403.1,254.5 402.9,255.4 402.8,256.4 402.6,257.4 402.3,258.4 402.1,259.4 401.8,260.4 401.5,261.5 401.2,262.5 400.8,263.5 400.4,264.5 400,265.5 399.5,266.6 399,267.6 398.5,268.5 397.9,269.5 397.2,270.5 396.6,271.4 395.9,272.3 395.1,273.2 394.3,274 393.5,274.8 392.6,275.5 391.7,276.2 390.7,276.9 389.7,277.5 388.7,278 387.6,278.4 386.5,278.8 385.4,279.1 384.3,279.3 383.2,279.7 382.1,280 381,280.2 379.8,280.3 378.7,280.4 377.5,280.4 376.4,280.3 375.3,280.2 374.1,280 373,279.7 371.9,279.4 370.8,279 369.7,278.6 368.7,278.1 367.7,277.6 366.7,277.1 365.7,276.5 364.8,275.9 363.8,275.2 363,274.6 362.1,273.9 361.3,273.2 360.5,272.5 359.7,271.7 359,271 358.2,270.2 357.5,269.5 356.9,268.7 356.2,268 355.6,267.2 355,266.4 354.4,265.7 353.9,264.9 353.4,264.1 352.9,263.3 352.4,262.6 351.9,261.8 351.4,261.1 351,260.3 350.6,259.5 350.2,258.8 349.8,258 349.4,257.3 349,256.5 348.7,255.8 348.3,255 348,254.3 347.7,253.5 347.4,252.8 347.1,252.1 346.8,251.3 346.5,250.6 346.2,249.9 346,249.1 345.7,248.4 345.5,247.7 345.3,246.9 345,246.2 344.8,245.4 344.6,244.7 344.4,244 344.3,243.2 344.1,242.5 343.9,241.7 343.7,241 343.6,240.2 343.4,239.4 343.3,238.7 343.2,237.9 343.1,237.1 342.9,236.3 342.8,235.5 342.7,234.7 342.7,233.9 342.6,233.1 342.5,232.3 342.5,231.4 342.4,230.6 342.4,229.7 342.3,228.9 342.3,228 342.3,227.1 342.4,226.3 342.4,225.4 342.4,224.4 342.5,223.5 342.6,222.6 342.7,221.6 342.8,220.7 342.9,219.7 343.1,218.8 343.2,217.8 343.4,216.8 343.6,215.8 343.9,214.8 344.2,213.8 344.5,212.7 344.8,211.7 345.2,210.7 345.6,209.7 346,208.7 346.5,207.6 347,206.6 347.5,205.7 348.1,204.7 348.7,203.7 349.4,202.8 350.1,201.9 350.9,201 351.7,200.2 352.5,199.4 353.4,198.7 354.3,198 355.3,197.3 356.3,196.7 357.3,196.2 358.4,195.8 359.4,195.4 360.6,195.1 361.7,194.9 362.8,194.5 363.9,194.2 365,194 366.1,193.9 367.3,193.8 368.4,193.8 369.6,193.9 370.7,194 371.9,194.2 373,194.5 374.1,194.8 375.2,195.2 376.3,195.6 377.3,196.1 378.3,196.6 379.3,197.1 380.3,197.7 381.2,198.3 382.1,199 383,199.6 383.9,200.3 384.7,201 385.5,201.7 386.3,202.5 387,203.2 387.7,204 388.4,204.7 389.1,205.5 389.7,206.2 390.4,207 391,207.8 391.5,208.5 392.1,209.3 392.6,210.1 393.1,210.9 393.6,211.6 394.1,212.4 394.6,213.1 395,213.9 395.4,214.7 395.8,215.4 396.2,216.2 396.6,216.9 397,217.7 397.3,218.4 397.7,219.2 398,219.9 398.3,220.7 398.6,221.4 398.9,222.1 399.2,222.9 399.5,223.6 399.8,224.3 400,225.1 400.3,225.8 400.5,226.5 400.7,227.3 400.9,228 401.2,228.8 401.4,229.5 401.6,230.2 401.7,231 401.9,231.7 402.1,232.5 402.2,233.2 402.4,234 402.5,234.8 402.7,235.5 402.8,236.3Z" fill="none" stroke="#000" stroke-width="2.0"/><path d="M397.8,237.1 397.4,237.7 396.9,238.4 396.9,239 397,239.6 397.1,240.3 397.1,240.9 397.2,241.6 397.3,242.3 397.8,243.1 398.6,243.9 398.6,244.7 398.6,245.4 398.5,246.1 397.6,246.5 397.4,247.2 397.4,248 397.3,248.7 397.3,249.5 397.2,250.3 397.5,251.2 398.3,252.6 398.2,253.5 398.1,254.3 397.1,254.6 396.6,255.2 396.4,256.1 396.2,256.9 396,257.8 396.1,259 396.6,260.7 396.3,261.7 395.5,262.1 394.5,262.3 394.1,263.2 393.7,264.1 393.4,265.1 393.7,267.3 393.2,268.2 391.9,267.9 391.1,268.4 390.4,269.2 389.7,270 389.6,271.9 388.7,272.5 387.6,272.3 386.7,272.7 385.8,273.3 385,274.1 384,274.4 383,274.6 382.1,274.9 381.1,275.2 380,275 379,274.8 377.9,274.6 377,274.8 376,275.6 375,275.4 373.9,273.6 373,273.2 372.1,272.8 371.1,272.7 370.1,273.6 369.2,273.1 368.5,271.1 367.7,270.3 367,269.7 366.2,269.1 365.4,268.8 364.4,269.3 363.6,268.7 363,267.9 362.8,265.9 362.2,265.2 361.6,264.6 361.1,263.9 360.5,263.3 359.5,263.5 358.8,263.2 358.3,262.5 357.9,261.7 358.1,260.1 357.7,259.3 357.3,258.7 356.9,258 356.5,257.4 356.2,256.8 355.7,256.4 354.7,256.4 354.3,255.8 353.9,255.2 353.6,254.5 353.6,253.6 353.9,252.5 353.7,251.9 353.5,251.3 353.2,250.7 353,250.1 352.7,249.5 352.5,248.9 352.1,248.5 351.1,248.3 350.8,247.7 350.6,247.1 350.4,246.5 350.3,245.8 350.7,245 350.9,244.3 350.8,243.7 350.6,243.1 350.5,242.5 350.3,241.9 350.2,241.3 350,240.7 349.7,240.2 348.9,239.6 348.5,239 348.3,238.4 348.2,237.7 348.2,237.1 348.6,236.5 349.1,235.8 349.1,235.2 349,234.6 348.9,233.9 348.8,233.3 348.8,232.6 348.7,231.9 348.2,231.1 347.4,230.3 347.4,229.5 347.3,228.8 347.5,228.1 348.4,227.7 348.6,227 348.6,226.2 348.6,225.5 348.7,224.7 348.7,223.9 348.5,223 347.7,221.6 347.8,220.7 347.9,219.9 348.8,219.6 349.4,219 349.6,218.1 349.8,217.3 350,216.4 349.9,215.2 349.4,213.5 349.7,212.5 350.5,212.1 351.5,211.9 351.9,211 352.3,210.1 352.6,209.1 352.2,206.9 352.8,206 354.1,206.3 354.9,205.8 355.6,205 356.2,204.2 356.4,202.3 357.2,201.7 358.4,201.9 359.3,201.5 360.2,200.9 361,200.1 361.9,199.8 362.9,199.6 363.9,199.3 364.9,199 366,199.2 367,199.4 368.1,199.6 369,199.4 370,198.6 371,198.8 372,200.6 373,201 373.9,201.4 374.9,201.5 375.9,200.6 376.8,201.1 377.5,203.1 378.2,203.9 379,204.5 379.8,205.1 380.6,205.4 381.6,204.9 382.4,205.5 383,206.3 383.2,208.3 383.8,209 384.4,209.6 384.9,210.3 385.5,210.9 386.5,210.7 387.2,211 387.7,211.7 388.1,212.5 387.9,214.1 388.3,214.9 388.7,215.5 389.1,216.2 389.4,216.8 389.8,217.4 390.3,217.8 391.3,217.8 391.7,218.4 392.1,219 392.4,219.7 392.3,220.6 392,221.7 392.3,222.3 392.5,222.9 392.8,223.5 393,224.1 393.3,224.7 393.5,225.3 393.9,225.7 394.9,225.9 395.2,226.5 395.4,227.1 395.6,227.7 395.7,228.4 395.3,229.2 395.1,229.9 395.2,230.5 395.4,231.1 395.5,231.7 395.7,232.3 395.8,232.9 395.9,233.5 396.2,234 397.1,234.6 397.5,235.2 397.7,235.8 397.8,236.5Z" fill="none" stroke="#000" stroke-width="0.95" stroke-linejoin="round"/><path d="M390.6,275.5 391.2,275 391.7,274.4 392.3,273.8 392.8,273.2 393.3,272.6 393.8,271.9 394.3,271.2 394.8,270.5 395.2,269.8 395.6,269.1 396.1,268.3 396.5,267.5 396.8,266.7 397.2,265.8 397.6,265 397.9,264.1 398.2,263.2 398.5,262.3 398.8,261.4 399.1,260.5 399.3,259.5 399.5,258.5 399.7,257.5 399.9,256.5 400.1,255.5 400.2,254.5 400.3,253.5 400.4,252.4 400.5,251.4 400.6,250.3 400.6,249.2 400.7,248.1 400.7,247 400.6,245.9 400.6,244.8 400.6,243.7 400.5,242.6 400.4,241.5 400.3,240.4 400.1,239.3 400,238.1 399.8,237 399.6,235.9 399.4,234.8 399.2,233.6 398.9,232.5 398.7,231.4 398.4,230.3 398.1,229.2 397.7,228.1 397.4,227 397,225.9 396.7,224.8 396.3,223.8 395.8,222.7 395.4,221.7 395,220.6 394.5,219.6 394,218.6 393.5,217.6 393,216.6 392.5,215.6 392,214.7 391.4,213.7 390.9,212.8 390.3,211.9 389.7,211 389.1,210.1 388.5,209.3 387.9,208.4 387.2,207.6 386.6,206.8 385.9,206 385.2,205.3 384.6,204.5 383.9,203.8 383.2,203.2 382.5,202.5 381.8,201.9 381.1,201.2 380.3,200.7 379.6,200.1 378.9,199.6 378.1,199 377.4,198.6 376.6,198.1 375.9,197.7 375.1,197.3 374.4,196.9 373.6,196.5 372.8,196.2 372.1,195.9 371.3,195.7 370.5,195.4 369.8,195.2 369,195" fill="none" stroke="#222" stroke-width="0.6"/><path d="M359,287.2 360.2,289.4 361,289.5 361.6,289.3 362.2,289 362.8,288.7 362.6,286.2 363,285.6 363.6,285.2 364.1,284.9 364.6,284.6 365.2,284.2 365.7,283.8 367.2,285.6 367.9,285.4 368.4,284.9 368.9,284.4 369.4,283.9 368.7,281.4 369,280.6 369.5,280 369.9,279.5 370.3,278.9 370.7,278.3 371.2,277.8 372.9,279 373.4,278.5 373.8,277.8 374.2,277.1 374.5,276.3 373.5,274 373.6,273.1 373.9,272.4 374.2,271.6 374.5,270.9 374.7,270.1 375,269.4 376.8,269.9 377.2,269.2 377.4,268.4 377.6,267.5 377.8,266.6 376.4,264.6 376.4,263.6 376.5,262.7 376.6,261.9 376.7,261 376.8,260.1 377,259.2 378.7,259.1 378.9,258.3 379,257.3 379,256.3 379,255.3 377.4,253.8 377.1,252.8 377.1,251.9 377.1,250.9 377,250 377,249 376.9,248.1 378.4,247.3 378.5,246.3 378.4,245.3 378.2,244.3 378,243.3 376.3,242.3 375.9,241.4 375.7,240.4 375.5,239.5 375.3,238.5 375.1,237.6 374.8,236.6 376.1,235.3 376,234.2 375.7,233.2 375.4,232.2 375,231.3 373.3,231 372.7,230.2 372.4,229.3 372,228.4 371.7,227.5 371.3,226.6 370.9,225.7 371.8,223.8 371.5,222.8 371,221.9 370.6,221 370.1,220.1 368.5,220.5 367.8,219.9 367.4,219.1 366.9,218.3 366.4,217.5 365.9,216.8 365.4,216 365.8,213.7 365.4,212.8 364.8,212 364.2,211.3 363.6,210.6 362.2,211.6 361.5,211.2 361,210.6 360.4,210 359.8,209.4 359.2,208.8 358.6,208.2 358.6,205.7 358,204.9 357.4,204.4 356.7,203.8 356,203.4 355,205 354.3,204.8 353.6,204.4 353,204 352.4,203.6 351.7,203.3 351.1,202.9 350.6,200.3 349.9,199.7 349.3,199.4 348.6,199.1 347.9,198.9 347.2,201 346.6,201.1 345.9,200.9 345.3,200.8 344.6,200.6 344,200.5 343.3,200.3 342.4,197.9 341.7,197.5 341,197.5 340.4,197.5 339.7,197.5 339.4,199.9 338.9,200.3 338.3,200.3 337.6,200.4 337,200.5 336.4,200.7 335.8,200.8 334.6,198.6 333.8,198.5 333.2,198.7 332.6,199 332,199.3 332.2,201.8 331.8,202.4 331.2,202.8 330.7,203.1 330.2,203.4 329.6,203.8 329.1,204.2 327.6,202.4 326.9,202.6 326.4,203.1 325.9,203.6 325.4,204.1 326.1,206.6 325.8,207.4 325.3,208 324.9,208.5 324.5,209.1 324.1,209.7 323.6,210.2 321.9,209 321.4,209.5 321,210.2 320.6,210.9 320.3,211.7 321.3,214 321.2,214.9 320.9,215.6 320.6,216.4 320.3,217.1 320.1,217.9 319.8,218.6 318,218.1 317.6,218.8 317.4,219.6 317.2,220.5 317,221.4 318.4,223.4 318.4,224.4 318.3,225.3 318.2,226.1 318.1,227 318,227.9 317.8,228.8 316.1,228.9 315.9,229.7 315.8,230.7 315.8,231.7 315.8,232.7 317.4,234.2 317.7,235.2 317.7,236.1 317.7,237.1 317.8,238 317.8,239 317.9,239.9 316.4,240.7 316.3,241.7 316.4,242.7 316.6,243.7 316.8,244.7 318.5,245.7 318.9,246.6 319.1,247.6 319.3,248.5 319.5,249.5 319.7,250.4 320,251.4 318.7,252.7 318.8,253.8 319.1,254.8 319.4,255.8 319.8,256.7 321.5,257 322.1,257.8 322.4,258.7 322.8,259.6 323.1,260.5 323.5,261.4 323.9,262.3 323,264.2 323.3,265.2 323.8,266.1 324.2,267 324.7,267.9 326.3,267.5 327,268.1 327.4,268.9 327.9,269.7 328.4,270.5 328.9,271.2 329.4,272 329,274.3 329.4,275.2 330,276 330.6,276.7 331.2,277.4 332.6,276.4 333.3,276.8 333.8,277.4 334.4,278 335,278.6 335.6,279.2 336.2,279.8 336.2,282.3 336.8,283.1 337.4,283.6 338.1,284.2 338.8,284.6 339.8,283 340.5,283.2 341.2,283.6 341.8,284 342.4,284.4 343.1,284.7 343.7,285.1 344.2,287.7 344.9,288.3 345.5,288.6 346.2,288.9 346.9,289.1 347.6,287 348.2,286.9 348.9,287.1 349.5,287.2 350.2,287.4 350.8,287.5 351.5,287.7 352.4,290.1 353.1,290.5 353.8,290.5 354.4,290.5 355.1,290.5 355.4,288.1 355.9,287.7 356.5,287.7 357.2,287.6 357.8,287.5 358.4,287.3Z M373.9,243.6 374,244.3 374.1,244.9 374.2,245.6 374.3,246.3 374.4,247 374.4,247.6 374.5,248.3 374.6,249.1 374.6,249.8 374.6,250.5 374.7,251.2 374.7,252 374.7,252.7 374.7,253.5 374.7,254.3 374.7,255.1 374.6,255.9 374.6,256.7 374.5,257.5 374.5,258.4 374.4,259.2 374.3,260.1 374.1,260.9 374,261.8 373.8,262.7 373.6,263.6 373.4,264.6 373.2,265.5 372.9,266.4 372.6,267.4 372.3,268.3 372,269.3 371.6,270.2 371.2,271.2 370.8,272.1 370.3,273 369.8,274 369.2,274.9 368.6,275.8 368,276.6 367.3,277.5 366.6,278.3 365.8,279.1 365,279.8 364.2,280.5 363.3,281.1 362.4,281.7 361.5,282.3 360.5,282.7 359.5,283.1 358.4,283.3 357.3,283.4 356.3,283.4 355.2,283.3 354.1,283.2 353,283 352,282.8 350.9,282.5 349.9,282.1 348.9,281.7 347.9,281.3 346.9,280.8 346,280.3 345.1,279.8 344.2,279.2 343.3,278.6 342.5,278 341.7,277.4 340.9,276.7 340.2,276.1 339.5,275.4 338.8,274.7 338.1,274 337.5,273.3 336.9,272.6 336.3,271.9 335.7,271.2 335.2,270.5 334.6,269.8 334.1,269.2 333.7,268.5 333.2,267.8 332.7,267.1 332.3,266.4 331.9,265.8 331.5,265.1 331.1,264.4 330.7,263.8 330.4,263.1 330,262.4 329.7,261.8 329.4,261.2 329.1,260.5 328.8,259.9 328.5,259.2 328.2,258.6 328,258 327.7,257.4 327.5,256.7 327.2,256.1 327,255.5 326.8,254.9 326.6,254.3 326.3,253.6 326.1,253 325.9,252.4 325.8,251.8 325.6,251.2 325.4,250.6 325.2,249.9 325.1,249.3 324.9,248.7 324.8,248.1 324.6,247.4 324.5,246.8 324.3,246.2 324.2,245.5 324.1,244.9 324,244.3 323.9,243.6 323.8,242.9 323.7,242.3 323.6,241.6 323.5,240.9 323.4,240.2 323.4,239.6 323.3,238.9 323.2,238.1 323.2,237.4 323.1,236.7 323.1,236 323.1,235.2 323.1,234.5 323.1,233.7 323.1,232.9 323.1,232.1 323.2,231.3 323.2,230.5 323.3,229.7 323.3,228.8 323.4,228 323.5,227.1 323.7,226.3 323.8,225.4 324,224.5 324.2,223.6 324.4,222.6 324.6,221.7 324.8,220.8 325.1,219.8 325.4,218.9 325.8,217.9 326.2,217 326.6,216 327,215.1 327.5,214.2 328,213.2 328.6,212.3 329.2,211.4 329.8,210.6 330.5,209.7 331.2,208.9 332,208.1 332.8,207.4 333.6,206.7 334.5,206.1 335.4,205.5 336.3,204.9 337.3,204.5 338.3,204.1 339.4,203.9 340.4,203.8 341.5,203.8 342.6,203.9 343.7,204 344.8,204.2 345.8,204.4 346.9,204.7 347.9,205.1 348.9,205.5 349.9,205.9 350.8,206.4 351.8,206.9 352.7,207.4 353.6,208 354.4,208.6 355.3,209.2 356.1,209.8 356.8,210.5 357.6,211.1 358.3,211.8 359,212.5 359.7,213.2 360.3,213.9 360.9,214.6 361.5,215.3 362.1,216 362.6,216.7 363.1,217.4 363.6,218 364.1,218.7 364.6,219.4 365,220.1 365.5,220.8 365.9,221.4 366.3,222.1 366.7,222.8 367,223.4 367.4,224.1 367.7,224.8 368.1,225.4 368.4,226 368.7,226.7 369,227.3 369.3,228 369.6,228.6 369.8,229.2 370.1,229.8 370.3,230.5 370.6,231.1 370.8,231.7 371,232.3 371.2,232.9 371.4,233.6 371.6,234.2 371.8,234.8 372,235.4 372.2,236 372.4,236.6 372.5,237.3 372.7,237.9 372.9,238.5 373,239.1 373.2,239.8 373.3,240.4 373.4,241 373.6,241.7 373.7,242.3 373.8,242.9Z" fill="#fff" fill-rule="evenodd" stroke="none"/><path d="M359,287.2 360.2,289.4 361,289.5 361.6,289.3 362.2,289 362.8,288.7 362.6,286.2 363,285.6 363.6,285.2 364.1,284.9 364.6,284.6 365.2,284.2 365.7,283.8 367.2,285.6 367.9,285.4 368.4,284.9 368.9,284.4 369.4,283.9 368.7,281.4 369,280.6 369.5,280 369.9,279.5 370.3,278.9 370.7,278.3 371.2,277.8 372.9,279 373.4,278.5 373.8,277.8 374.2,277.1 374.5,276.3 373.5,274 373.6,273.1 373.9,272.4 374.2,271.6 374.5,270.9 374.7,270.1 375,269.4 376.8,269.9 377.2,269.2 377.4,268.4 377.6,267.5 377.8,266.6 376.4,264.6 376.4,263.6 376.5,262.7 376.6,261.9 376.7,261 376.8,260.1 377,259.2 378.7,259.1 378.9,258.3 379,257.3 379,256.3 379,255.3 377.4,253.8 377.1,252.8 377.1,251.9 377.1,250.9 377,250 377,249 376.9,248.1 378.4,247.3 378.5,246.3 378.4,245.3 378.2,244.3 378,243.3 376.3,242.3 375.9,241.4 375.7,240.4 375.5,239.5 375.3,238.5 375.1,237.6 374.8,236.6 376.1,235.3 376,234.2 375.7,233.2 375.4,232.2 375,231.3 373.3,231 372.7,230.2 372.4,229.3 372,228.4 371.7,227.5 371.3,226.6 370.9,225.7 371.8,223.8 371.5,222.8 371,221.9 370.6,221 370.1,220.1 368.5,220.5 367.8,219.9 367.4,219.1 366.9,218.3 366.4,217.5 365.9,216.8 365.4,216 365.8,213.7 365.4,212.8 364.8,212 364.2,211.3 363.6,210.6 362.2,211.6 361.5,211.2 361,210.6 360.4,210 359.8,209.4 359.2,208.8 358.6,208.2 358.6,205.7 358,204.9 357.4,204.4 356.7,203.8 356,203.4 355,205 354.3,204.8 353.6,204.4 353,204 352.4,203.6 351.7,203.3 351.1,202.9 350.6,200.3 349.9,199.7 349.3,199.4 348.6,199.1 347.9,198.9 347.2,201 346.6,201.1 345.9,200.9 345.3,200.8 344.6,200.6 344,200.5 343.3,200.3 342.4,197.9 341.7,197.5 341,197.5 340.4,197.5 339.7,197.5 339.4,199.9 338.9,200.3 338.3,200.3 337.6,200.4 337,200.5 336.4,200.7 335.8,200.8 334.6,198.6 333.8,198.5 333.2,198.7 332.6,199 332,199.3 332.2,201.8 331.8,202.4 331.2,202.8 330.7,203.1 330.2,203.4 329.6,203.8 329.1,204.2 327.6,202.4 326.9,202.6 326.4,203.1 325.9,203.6 325.4,204.1 326.1,206.6 325.8,207.4 325.3,208 324.9,208.5 324.5,209.1 324.1,209.7 323.6,210.2 321.9,209 321.4,209.5 321,210.2 320.6,210.9 320.3,211.7 321.3,214 321.2,214.9 320.9,215.6 320.6,216.4 320.3,217.1 320.1,217.9 319.8,218.6 318,218.1 317.6,218.8 317.4,219.6 317.2,220.5 317,221.4 318.4,223.4 318.4,224.4 318.3,225.3 318.2,226.1 318.1,227 318,227.9 317.8,228.8 316.1,228.9 315.9,229.7 315.8,230.7 315.8,231.7 315.8,232.7 317.4,234.2 317.7,235.2 317.7,236.1 317.7,237.1 317.8,238 317.8,239 317.9,239.9 316.4,240.7 316.3,241.7 316.4,242.7 316.6,243.7 316.8,244.7 318.5,245.7 318.9,246.6 319.1,247.6 319.3,248.5 319.5,249.5 319.7,250.4 320,251.4 318.7,252.7 318.8,253.8 319.1,254.8 319.4,255.8 319.8,256.7 321.5,257 322.1,257.8 322.4,258.7 322.8,259.6 323.1,260.5 323.5,261.4 323.9,262.3 323,264.2 323.3,265.2 323.8,266.1 324.2,267 324.7,267.9 326.3,267.5 327,268.1 327.4,268.9 327.9,269.7 328.4,270.5 328.9,271.2 329.4,272 329,274.3 329.4,275.2 330,276 330.6,276.7 331.2,277.4 332.6,276.4 333.3,276.8 333.8,277.4 334.4,278 335,278.6 335.6,279.2 336.2,279.8 336.2,282.3 336.8,283.1 337.4,283.6 338.1,284.2 338.8,284.6 339.8,283 340.5,283.2 341.2,283.6 341.8,284 342.4,284.4 343.1,284.7 343.7,285.1 344.2,287.7 344.9,288.3 345.5,288.6 346.2,288.9 346.9,289.1 347.6,287 348.2,286.9 348.9,287.1 349.5,287.2 350.2,287.4 350.8,287.5 351.5,287.7 352.4,290.1 353.1,290.5 353.8,290.5 354.4,290.5 355.1,290.5 355.4,288.1 355.9,287.7 356.5,287.7 357.2,287.6 357.8,287.5 358.4,287.3Z" fill="none" stroke="#000" stroke-width="1.9" stroke-linejoin="round"/><path d="M373.9,243.6 374,244.3 374.1,244.9 374.2,245.6 374.3,246.3 374.4,247 374.4,247.6 374.5,248.3 374.6,249.1 374.6,249.8 374.6,250.5 374.7,251.2 374.7,252 374.7,252.7 374.7,253.5 374.7,254.3 374.7,255.1 374.6,255.9 374.6,256.7 374.5,257.5 374.5,258.4 374.4,259.2 374.3,260.1 374.1,260.9 374,261.8 373.8,262.7 373.6,263.6 373.4,264.6 373.2,265.5 372.9,266.4 372.6,267.4 372.3,268.3 372,269.3 371.6,270.2 371.2,271.2 370.8,272.1 370.3,273 369.8,274 369.2,274.9 368.6,275.8 368,276.6 367.3,277.5 366.6,278.3 365.8,279.1 365,279.8 364.2,280.5 363.3,281.1 362.4,281.7 361.5,282.3 360.5,282.7 359.5,283.1 358.4,283.3 357.3,283.4 356.3,283.4 355.2,283.3 354.1,283.2 353,283 352,282.8 350.9,282.5 349.9,282.1 348.9,281.7 347.9,281.3 346.9,280.8 346,280.3 345.1,279.8 344.2,279.2 343.3,278.6 342.5,278 341.7,277.4 340.9,276.7 340.2,276.1 339.5,275.4 338.8,274.7 338.1,274 337.5,273.3 336.9,272.6 336.3,271.9 335.7,271.2 335.2,270.5 334.6,269.8 334.1,269.2 333.7,268.5 333.2,267.8 332.7,267.1 332.3,266.4 331.9,265.8 331.5,265.1 331.1,264.4 330.7,263.8 330.4,263.1 330,262.4 329.7,261.8 329.4,261.2 329.1,260.5 328.8,259.9 328.5,259.2 328.2,258.6 328,258 327.7,257.4 327.5,256.7 327.2,256.1 327,255.5 326.8,254.9 326.6,254.3 326.3,253.6 326.1,253 325.9,252.4 325.8,251.8 325.6,251.2 325.4,250.6 325.2,249.9 325.1,249.3 324.9,248.7 324.8,248.1 324.6,247.4 324.5,246.8 324.3,246.2 324.2,245.5 324.1,244.9 324,244.3 323.9,243.6 323.8,242.9 323.7,242.3 323.6,241.6 323.5,240.9 323.4,240.2 323.4,239.6 323.3,238.9 323.2,238.1 323.2,237.4 323.1,236.7 323.1,236 323.1,235.2 323.1,234.5 323.1,233.7 323.1,232.9 323.1,232.1 323.2,231.3 323.2,230.5 323.3,229.7 323.3,228.8 323.4,228 323.5,227.1 323.7,226.3 323.8,225.4 324,224.5 324.2,223.6 324.4,222.6 324.6,221.7 324.8,220.8 325.1,219.8 325.4,218.9 325.8,217.9 326.2,217 326.6,216 327,215.1 327.5,214.2 328,213.2 328.6,212.3 329.2,211.4 329.8,210.6 330.5,209.7 331.2,208.9 332,208.1 332.8,207.4 333.6,206.7 334.5,206.1 335.4,205.5 336.3,204.9 337.3,204.5 338.3,204.1 339.4,203.9 340.4,203.8 341.5,203.8 342.6,203.9 343.7,204 344.8,204.2 345.8,204.4 346.9,204.7 347.9,205.1 348.9,205.5 349.9,205.9 350.8,206.4 351.8,206.9 352.7,207.4 353.6,208 354.4,208.6 355.3,209.2 356.1,209.8 356.8,210.5 357.6,211.1 358.3,211.8 359,212.5 359.7,213.2 360.3,213.9 360.9,214.6 361.5,215.3 362.1,216 362.6,216.7 363.1,217.4 363.6,218 364.1,218.7 364.6,219.4 365,220.1 365.5,220.8 365.9,221.4 366.3,222.1 366.7,222.8 367,223.4 367.4,224.1 367.7,224.8 368.1,225.4 368.4,226 368.7,226.7 369,227.3 369.3,228 369.6,228.6 369.8,229.2 370.1,229.8 370.3,230.5 370.6,231.1 370.8,231.7 371,232.3 371.2,232.9 371.4,233.6 371.6,234.2 371.8,234.8 372,235.4 372.2,236 372.4,236.6 372.5,237.3 372.7,237.9 372.9,238.5 373,239.1 373.2,239.8 373.3,240.4 373.4,241 373.6,241.7 373.7,242.3 373.8,242.9Z" fill="none" stroke="#000" stroke-width="1.3"/><path d="M372,230.4 371.4,228.8 370.7,227.2 370,225.7 369.3,224.2 368.5,222.7 367.7,221.3 366.9,219.9 366.1,218.6 365.2,217.2 364.3,216 363.3,214.7 362.4,213.5 361.4,212.4 360.4,211.3 359.4,210.2 358.3,209.2 357.2,208.3 356.2,207.4 355.1,206.6 354,205.8 352.9,205.1 351.7,204.4 350.6,203.8 349.5,203.3 348.3,202.8 347.2,202.4 346.1,202.1 344.9,201.8 343.8,201.6 342.7,201.5 341.6,201.4 340.5,201.4 339.4,201.4 338.3,201.6 337.2,201.7 336.1,202 335.1,202.3 334.1,202.7 333.1,203.1 332.1,203.6 331.2,204.2 330.2,204.8 329.3,205.5 328.4,206.2 327.6,207.1 326.8,207.9 326,208.8 325.3,209.8 324.5,210.8 323.9,211.9 323.2,213 322.6,214.2 322,215.4 321.5,216.7 321,218 320.6,219.3 320.2,220.7 319.8,222.1 319.5,223.6 319.2,225.1" fill="none" stroke="#333" stroke-width="0.6"/><path d="M354.7,250.1 354.8,250.9 355,251.7 355,252.5 355.1,253.3 355.2,254.1 355.3,254.9 355.3,255.8 355.4,256.6 355.4,257.5 355.4,258.3 355.4,259.2 355.4,260.1 355.4,260.9 355.4,261.8 355.4,262.8 355.3,263.7 355.2,264.6 355.1,265.6 355,266.5 354.9,267.5 354.7,268.4 354.6,269.4 354.4,270.4 354.1,271.4 353.9,272.4 353.6,273.4 353.3,274.5 353,275.5 352.6,276.5 352.2,277.5 351.8,278.5 351.3,279.6 350.8,280.6 350.3,281.5 349.7,282.5 349,283.5 348.4,284.4 347.7,285.3 346.9,286.2 346.1,287 345.3,287.8 344.4,288.5 343.5,289.2 342.5,289.9 341.5,290.5 340.5,291 339.4,291.4 338.3,291.8 337.2,292.1 336.1,292.3 335,292.7 333.9,293 332.8,293.2 331.6,293.3 330.5,293.4 329.3,293.4 328.2,293.3 327.1,293.2 325.9,293 324.8,292.7 323.7,292.4 322.6,292 321.5,291.6 320.5,291.1 319.5,290.6 318.5,290.1 317.5,289.5 316.6,288.9 315.6,288.2 314.8,287.6 313.9,286.9 313.1,286.2 312.3,285.5 311.5,284.7 310.8,284 310,283.2 309.3,282.5 308.7,281.7 308,281 307.4,280.2 306.8,279.4 306.2,278.7 305.7,277.9 305.2,277.1 304.7,276.3 304.2,275.6 303.7,274.8 303.2,274.1 302.8,273.3 302.4,272.5 302,271.8 301.6,271 301.2,270.3 300.8,269.5 300.5,268.8 300.1,268 299.8,267.3 299.5,266.5 299.2,265.8 298.9,265.1 298.6,264.3 298.3,263.6 298,262.9 297.8,262.1 297.5,261.4 297.3,260.7 297.1,259.9 296.8,259.2 296.6,258.4 296.4,257.7 296.2,257 296.1,256.2 295.9,255.5 295.7,254.7 295.5,254 295.4,253.2 295.2,252.4 295.1,251.7 295,250.9 294.9,250.1 294.7,249.3 294.6,248.5 294.5,247.7 294.5,246.9 294.4,246.1 294.3,245.3 294.3,244.4 294.2,243.6 294.2,242.7 294.1,241.9 294.1,241 294.1,240.1 294.2,239.3 294.2,238.4 294.2,237.4 294.3,236.5 294.4,235.6 294.5,234.6 294.6,233.7 294.7,232.7 294.9,231.8 295,230.8 295.2,229.8 295.4,228.8 295.7,227.8 296,226.8 296.3,225.7 296.6,224.7 297,223.7 297.4,222.7 297.8,221.7 298.3,220.6 298.8,219.6 299.3,218.7 299.9,217.7 300.5,216.7 301.2,215.8 301.9,214.9 302.7,214 303.5,213.2 304.3,212.4 305.2,211.7 306.1,211 307.1,210.3 308.1,209.7 309.1,209.2 310.2,208.8 311.2,208.4 312.4,208.1 313.5,207.9 314.6,207.5 315.7,207.2 316.8,207 317.9,206.9 319.1,206.8 320.2,206.8 321.4,206.9 322.5,207 323.7,207.2 324.8,207.5 325.9,207.8 327,208.2 328.1,208.6 329.1,209.1 330.1,209.6 331.1,210.1 332.1,210.7 333,211.3 333.9,212 334.8,212.6 335.7,213.3 336.5,214 337.3,214.7 338.1,215.5 338.8,216.2 339.5,217 340.2,217.7 340.9,218.5 341.5,219.2 342.2,220 342.8,220.8 343.3,221.5 343.9,222.3 344.4,223.1 344.9,223.9 345.4,224.6 345.9,225.4 346.4,226.1 346.8,226.9 347.2,227.7 347.6,228.4 348,229.2 348.4,229.9 348.8,230.7 349.1,231.4 349.5,232.2 349.8,232.9 350.1,233.7 350.4,234.4 350.7,235.1 351,235.9 351.3,236.6 351.6,237.3 351.8,238.1 352.1,238.8 352.3,239.5 352.5,240.3 352.7,241 353,241.8 353.2,242.5 353.4,243.2 353.5,244 353.7,244.7 353.9,245.5 354,246.2 354.2,247 354.3,247.8 354.5,248.5 354.6,249.3Z M348.4,250.1 348.5,250.7 348.6,251.3 348.7,252 348.8,252.6 349.1,253.3 350,254.1 350.3,254.8 350.3,255.5 350.3,256.2 349.9,256.8 349.3,257.3 349.2,258 349.2,258.7 349.2,259.5 349.2,260.2 349.2,261 349.5,261.9 350.3,263.1 350.3,263.9 350.2,264.8 349.6,265.3 348.8,265.7 348.7,266.5 348.5,267.3 348.4,268.2 348.2,269.1 349,270.7 349,271.9 348.7,272.8 347.7,273 347,273.5 346.7,274.4 346.3,275.3 346,276.2 346.5,278.4 346.1,279.4 345,279.5 344,279.7 343.5,280.6 342.9,281.4 342.9,283.5 342.2,284.3 341.3,284.8 340.1,284.4 339.3,285.1 338.5,285.7 337.8,286.8 336.8,287.1 335.9,287.5 334.8,287.6 333.9,287.9 332.8,287.8 331.8,287.8 330.8,287.8 329.9,288.6 328.8,288.6 327.7,287.6 326.7,286.9 325.7,286.6 324.8,286.3 323.8,287.6 322.9,287.1 322,285.5 321.2,284.4 320.4,283.8 319.5,283.3 318.6,283.3 317.7,283.7 316.9,283 316.4,281.6 315.9,280.2 315.2,279.5 314.6,278.9 314,278.2 313.2,278.1 312.3,278.3 311.7,277.6 311.2,276.9 311.1,275.3 310.8,274.3 310.4,273.6 309.9,273 309.5,272.3 309.1,271.7 308.3,271.5 307.5,271.4 307.1,270.8 306.7,270.1 306.5,269.4 306.8,268.1 306.7,267.3 306.4,266.7 306.1,266.1 305.8,265.5 305.5,264.9 305.3,264.3 304.8,263.8 303.9,263.7 303.5,263.2 303.2,262.5 303,261.9 302.8,261.3 303.3,260.4 303.5,259.6 303.3,259 303.1,258.4 302.9,257.8 302.7,257.3 302.6,256.7 302.4,256.1 302.1,255.5 301.2,255.1 300.8,254.5 300.6,253.9 300.5,253.3 300.4,252.7 300.9,252 301.3,251.3 301.2,250.7 301.1,250.1 301,249.5 300.9,248.9 300.9,248.2 300.8,247.6 300.5,246.9 299.6,246.1 299.3,245.4 299.3,244.7 299.2,244 299.6,243.4 300.3,242.9 300.4,242.2 300.4,241.5 300.4,240.7 300.4,240 300.4,239.2 300.1,238.3 299.3,237.1 299.3,236.3 299.4,235.4 300,234.9 300.8,234.5 300.9,233.7 301.1,232.9 301.2,232 301.4,231.1 300.6,229.5 300.6,228.3 300.9,227.4 301.9,227.2 302.6,226.7 302.9,225.8 303.3,224.9 303.6,224 303.1,221.8 303.5,220.8 304.6,220.7 305.6,220.5 306.1,219.6 306.7,218.8 306.7,216.7 307.4,215.9 308.3,215.4 309.5,215.8 310.3,215.1 311.1,214.5 311.8,213.4 312.8,213.1 313.7,212.7 314.7,212.6 315.7,212.3 316.8,212.4 317.8,212.4 318.8,212.4 319.7,211.6 320.7,211.6 321.8,212.6 322.9,213.3 323.8,213.6 324.8,213.9 325.8,212.6 326.7,213.1 327.6,214.7 328.4,215.8 329.2,216.4 330,216.9 330.9,216.9 331.9,216.5 332.7,217.2 333.2,218.6 333.7,220 334.4,220.7 335,221.3 335.6,222 336.4,222.1 337.3,221.9 337.9,222.6 338.4,223.3 338.4,224.9 338.8,225.9 339.2,226.6 339.6,227.2 340.1,227.9 340.5,228.5 341.2,228.7 342.1,228.8 342.5,229.4 342.8,230.1 343.1,230.8 342.8,232.1 342.9,232.9 343.2,233.5 343.5,234.1 343.8,234.7 344.1,235.3 344.3,235.9 344.8,236.4 345.7,236.5 346.1,237 346.3,237.7 346.6,238.3 346.7,238.9 346.3,239.8 346.1,240.6 346.3,241.2 346.5,241.8 346.7,242.4 346.8,242.9 347,243.5 347.2,244.1 347.5,244.7 348.4,245.1 348.8,245.7 348.9,246.3 349.1,246.9 349.2,247.5 348.7,248.2 348.3,248.9 348.3,249.5Z" fill="#fff" fill-rule="evenodd" stroke="none"/><path d="M354.7,250.1 354.8,250.9 355,251.7 355,252.5 355.1,253.3 355.2,254.1 355.3,254.9 355.3,255.8 355.4,256.6 355.4,257.5 355.4,258.3 355.4,259.2 355.4,260.1 355.4,260.9 355.4,261.8 355.4,262.8 355.3,263.7 355.2,264.6 355.1,265.6 355,266.5 354.9,267.5 354.7,268.4 354.6,269.4 354.4,270.4 354.1,271.4 353.9,272.4 353.6,273.4 353.3,274.5 353,275.5 352.6,276.5 352.2,277.5 351.8,278.5 351.3,279.6 350.8,280.6 350.3,281.5 349.7,282.5 349,283.5 348.4,284.4 347.7,285.3 346.9,286.2 346.1,287 345.3,287.8 344.4,288.5 343.5,289.2 342.5,289.9 341.5,290.5 340.5,291 339.4,291.4 338.3,291.8 337.2,292.1 336.1,292.3 335,292.7 333.9,293 332.8,293.2 331.6,293.3 330.5,293.4 329.3,293.4 328.2,293.3 327.1,293.2 325.9,293 324.8,292.7 323.7,292.4 322.6,292 321.5,291.6 320.5,291.1 319.5,290.6 318.5,290.1 317.5,289.5 316.6,288.9 315.6,288.2 314.8,287.6 313.9,286.9 313.1,286.2 312.3,285.5 311.5,284.7 310.8,284 310,283.2 309.3,282.5 308.7,281.7 308,281 307.4,280.2 306.8,279.4 306.2,278.7 305.7,277.9 305.2,277.1 304.7,276.3 304.2,275.6 303.7,274.8 303.2,274.1 302.8,273.3 302.4,272.5 302,271.8 301.6,271 301.2,270.3 300.8,269.5 300.5,268.8 300.1,268 299.8,267.3 299.5,266.5 299.2,265.8 298.9,265.1 298.6,264.3 298.3,263.6 298,262.9 297.8,262.1 297.5,261.4 297.3,260.7 297.1,259.9 296.8,259.2 296.6,258.4 296.4,257.7 296.2,257 296.1,256.2 295.9,255.5 295.7,254.7 295.5,254 295.4,253.2 295.2,252.4 295.1,251.7 295,250.9 294.9,250.1 294.7,249.3 294.6,248.5 294.5,247.7 294.5,246.9 294.4,246.1 294.3,245.3 294.3,244.4 294.2,243.6 294.2,242.7 294.1,241.9 294.1,241 294.1,240.1 294.2,239.3 294.2,238.4 294.2,237.4 294.3,236.5 294.4,235.6 294.5,234.6 294.6,233.7 294.7,232.7 294.9,231.8 295,230.8 295.2,229.8 295.4,228.8 295.7,227.8 296,226.8 296.3,225.7 296.6,224.7 297,223.7 297.4,222.7 297.8,221.7 298.3,220.6 298.8,219.6 299.3,218.7 299.9,217.7 300.5,216.7 301.2,215.8 301.9,214.9 302.7,214 303.5,213.2 304.3,212.4 305.2,211.7 306.1,211 307.1,210.3 308.1,209.7 309.1,209.2 310.2,208.8 311.2,208.4 312.4,208.1 313.5,207.9 314.6,207.5 315.7,207.2 316.8,207 317.9,206.9 319.1,206.8 320.2,206.8 321.4,206.9 322.5,207 323.7,207.2 324.8,207.5 325.9,207.8 327,208.2 328.1,208.6 329.1,209.1 330.1,209.6 331.1,210.1 332.1,210.7 333,211.3 333.9,212 334.8,212.6 335.7,213.3 336.5,214 337.3,214.7 338.1,215.5 338.8,216.2 339.5,217 340.2,217.7 340.9,218.5 341.5,219.2 342.2,220 342.8,220.8 343.3,221.5 343.9,222.3 344.4,223.1 344.9,223.9 345.4,224.6 345.9,225.4 346.4,226.1 346.8,226.9 347.2,227.7 347.6,228.4 348,229.2 348.4,229.9 348.8,230.7 349.1,231.4 349.5,232.2 349.8,232.9 350.1,233.7 350.4,234.4 350.7,235.1 351,235.9 351.3,236.6 351.6,237.3 351.8,238.1 352.1,238.8 352.3,239.5 352.5,240.3 352.7,241 353,241.8 353.2,242.5 353.4,243.2 353.5,244 353.7,244.7 353.9,245.5 354,246.2 354.2,247 354.3,247.8 354.5,248.5 354.6,249.3Z" fill="none" stroke="#000" stroke-width="2.0"/><path d="M348.4,250.1 348.5,250.7 348.6,251.3 348.7,252 348.8,252.6 349.1,253.3 350,254.1 350.3,254.8 350.3,255.5 350.3,256.2 349.9,256.8 349.3,257.3 349.2,258 349.2,258.7 349.2,259.5 349.2,260.2 349.2,261 349.5,261.9 350.3,263.1 350.3,263.9 350.2,264.8 349.6,265.3 348.8,265.7 348.7,266.5 348.5,267.3 348.4,268.2 348.2,269.1 349,270.7 349,271.9 348.7,272.8 347.7,273 347,273.5 346.7,274.4 346.3,275.3 346,276.2 346.5,278.4 346.1,279.4 345,279.5 344,279.7 343.5,280.6 342.9,281.4 342.9,283.5 342.2,284.3 341.3,284.8 340.1,284.4 339.3,285.1 338.5,285.7 337.8,286.8 336.8,287.1 335.9,287.5 334.8,287.6 333.9,287.9 332.8,287.8 331.8,287.8 330.8,287.8 329.9,288.6 328.8,288.6 327.7,287.6 326.7,286.9 325.7,286.6 324.8,286.3 323.8,287.6 322.9,287.1 322,285.5 321.2,284.4 320.4,283.8 319.5,283.3 318.6,283.3 317.7,283.7 316.9,283 316.4,281.6 315.9,280.2 315.2,279.5 314.6,278.9 314,278.2 313.2,278.1 312.3,278.3 311.7,277.6 311.2,276.9 311.1,275.3 310.8,274.3 310.4,273.6 309.9,273 309.5,272.3 309.1,271.7 308.3,271.5 307.5,271.4 307.1,270.8 306.7,270.1 306.5,269.4 306.8,268.1 306.7,267.3 306.4,266.7 306.1,266.1 305.8,265.5 305.5,264.9 305.3,264.3 304.8,263.8 303.9,263.7 303.5,263.2 303.2,262.5 303,261.9 302.8,261.3 303.3,260.4 303.5,259.6 303.3,259 303.1,258.4 302.9,257.8 302.7,257.3 302.6,256.7 302.4,256.1 302.1,255.5 301.2,255.1 300.8,254.5 300.6,253.9 300.5,253.3 300.4,252.7 300.9,252 301.3,251.3 301.2,250.7 301.1,250.1 301,249.5 300.9,248.9 300.9,248.2 300.8,247.6 300.5,246.9 299.6,246.1 299.3,245.4 299.3,244.7 299.2,244 299.6,243.4 300.3,242.9 300.4,242.2 300.4,241.5 300.4,240.7 300.4,240 300.4,239.2 300.1,238.3 299.3,237.1 299.3,236.3 299.4,235.4 300,234.9 300.8,234.5 300.9,233.7 301.1,232.9 301.2,232 301.4,231.1 300.6,229.5 300.6,228.3 300.9,227.4 301.9,227.2 302.6,226.7 302.9,225.8 303.3,224.9 303.6,224 303.1,221.8 303.5,220.8 304.6,220.7 305.6,220.5 306.1,219.6 306.7,218.8 306.7,216.7 307.4,215.9 308.3,215.4 309.5,215.8 310.3,215.1 311.1,214.5 311.8,213.4 312.8,213.1 313.7,212.7 314.7,212.6 315.7,212.3 316.8,212.4 317.8,212.4 318.8,212.4 319.7,211.6 320.7,211.6 321.8,212.6 322.9,213.3 323.8,213.6 324.8,213.9 325.8,212.6 326.7,213.1 327.6,214.7 328.4,215.8 329.2,216.4 330,216.9 330.9,216.9 331.9,216.5 332.7,217.2 333.2,218.6 333.7,220 334.4,220.7 335,221.3 335.6,222 336.4,222.1 337.3,221.9 337.9,222.6 338.4,223.3 338.4,224.9 338.8,225.9 339.2,226.6 339.6,227.2 340.1,227.9 340.5,228.5 341.2,228.7 342.1,228.8 342.5,229.4 342.8,230.1 343.1,230.8 342.8,232.1 342.9,232.9 343.2,233.5 343.5,234.1 343.8,234.7 344.1,235.3 344.3,235.9 344.8,236.4 345.7,236.5 346.1,237 346.3,237.7 346.6,238.3 346.7,238.9 346.3,239.8 346.1,240.6 346.3,241.2 346.5,241.8 346.7,242.4 346.8,242.9 347,243.5 347.2,244.1 347.5,244.7 348.4,245.1 348.8,245.7 348.9,246.3 349.1,246.9 349.2,247.5 348.7,248.2 348.3,248.9 348.3,249.5Z" fill="none" stroke="#000" stroke-width="0.95" stroke-linejoin="round"/><path d="M342.4,288.5 343,288 343.5,287.4 344.1,286.8 344.6,286.2 345.1,285.6 345.6,284.9 346.1,284.2 346.6,283.5 347,282.8 347.4,282.1 347.9,281.3 348.3,280.5 348.6,279.7 349,278.8 349.4,278 349.7,277.1 350,276.2 350.3,275.3 350.6,274.4 350.9,273.5 351.1,272.5 351.3,271.5 351.5,270.5 351.7,269.5 351.9,268.5 352,267.5 352.1,266.5 352.2,265.4 352.3,264.4 352.4,263.3 352.4,262.2 352.5,261.1 352.5,260 352.4,258.9 352.4,257.8 352.4,256.7 352.3,255.6 352.2,254.5 352.1,253.4 351.9,252.3 351.8,251.1 351.6,250 351.4,248.9 351.2,247.8 351,246.6 350.7,245.5 350.5,244.4 350.2,243.3 349.9,242.2 349.5,241.1 349.2,240 348.8,238.9 348.5,237.8 348.1,236.8 347.6,235.7 347.2,234.7 346.8,233.6 346.3,232.6 345.8,231.6 345.3,230.6 344.8,229.6 344.3,228.6 343.8,227.7 343.2,226.7 342.7,225.8 342.1,224.9 341.5,224 340.9,223.1 340.3,222.3 339.7,221.4 339,220.6 338.4,219.8 337.7,219 337,218.3 336.4,217.5 335.7,216.8 335,216.2 334.3,215.5 333.6,214.9 332.9,214.2 332.1,213.7 331.4,213.1 330.7,212.6 329.9,212 329.2,211.6 328.4,211.1 327.7,210.7 326.9,210.3 326.2,209.9 325.4,209.5 324.6,209.2 323.9,208.9 323.1,208.7 322.3,208.4 321.6,208.2 320.8,208" fill="none" stroke="#222" stroke-width="0.6"/><path d="M310.8,300.2 311.4,300 312,299.8 312.6,299.9 314,302 314.6,301.8 315.2,301.5 315.8,301.2 316.3,300.5 315.9,298 316.4,297.6 317,297.2 317.5,296.8 318,296.4 318.5,296 319.1,295.8 320.7,297.4 321.2,296.9 321.7,296.4 322.2,295.8 322.5,295 321.7,292.5 322.1,291.9 322.5,291.3 322.9,290.7 323.3,290.1 323.7,289.5 324.2,289.1 325.9,290.1 326.3,289.4 326.7,288.6 327,287.9 327.2,286.9 326,284.6 326.3,283.9 326.5,283.1 326.8,282.3 327,281.6 327.2,280.8 327.7,280.1 329.4,280.5 329.6,279.6 329.8,278.7 330,277.8 329.9,276.8 328.5,274.9 328.5,274 328.6,273.1 328.7,272.2 328.8,271.3 328.9,270.4 329.1,269.6 330.8,269.3 330.8,268.3 330.8,267.3 330.8,266.4 330.6,265.3 328.9,263.9 328.8,263 328.8,262 328.7,261.1 328.6,260.1 328.5,259.2 328.6,258.2 330,257.3 329.9,256.3 329.7,255.2 329.5,254.2 329.1,253.2 327.3,252.5 327.1,251.5 326.9,250.6 326.6,249.7 326.4,248.7 326.1,247.8 326,246.8 327.1,245.2 326.8,244.2 326.5,243.3 326.1,242.3 325.6,241.4 323.9,241.4 323.5,240.5 323.1,239.6 322.7,238.7 322.3,237.9 321.9,237 321.6,236 322.3,234 321.9,233.1 321.4,232.2 320.9,231.4 320.3,230.7 318.7,231.3 318.2,230.5 317.7,229.8 317.2,229 316.6,228.3 316.1,227.6 315.7,226.7 316,224.3 315.4,223.6 314.8,222.9 314.2,222.2 313.5,221.8 312.2,223 311.6,222.4 311,221.8 310.4,221.3 309.8,220.7 309.2,220.2 308.7,219.4 308.5,216.9 307.8,216.3 307.2,215.8 306.5,215.4 305.8,215.2 304.8,217 304.2,216.6 303.5,216.3 302.9,215.9 302.2,215.6 301.6,215.3 301,214.7 300.4,212.2 299.7,211.9 299,211.6 298.3,211.4 297.6,211.5 297.1,213.7 296.4,213.6 295.8,213.5 295.1,213.4 294.5,213.3 293.8,213.3 293.2,212.9 292.2,210.5 291.5,210.5 290.8,210.5 290.2,210.5 289.6,210.9 289.4,213.4 288.8,213.5 288.2,213.7 287.6,213.8 287,214 286.4,214.2 285.8,214.1 284.4,212 283.8,212.2 283.2,212.5 282.6,212.8 282.1,213.5 282.5,216 282,216.4 281.4,216.8 280.9,217.2 280.4,217.6 279.9,218 279.3,218.2 277.7,216.6 277.2,217.1 276.7,217.6 276.2,218.2 275.9,219 276.7,221.5 276.3,222.1 275.9,222.7 275.5,223.3 275.1,223.9 274.7,224.5 274.2,224.9 272.5,223.9 272.1,224.6 271.7,225.4 271.4,226.1 271.2,227.1 272.4,229.4 272.1,230.1 271.9,230.9 271.6,231.7 271.4,232.4 271.2,233.2 270.7,233.9 269,233.5 268.8,234.4 268.6,235.3 268.4,236.2 268.5,237.2 269.9,239.1 269.9,240 269.8,240.9 269.7,241.8 269.6,242.7 269.5,243.6 269.3,244.4 267.6,244.7 267.6,245.7 267.6,246.7 267.6,247.6 267.8,248.7 269.5,250.1 269.6,251 269.6,252 269.7,252.9 269.8,253.9 269.9,254.8 269.8,255.8 268.4,256.7 268.5,257.7 268.7,258.8 268.9,259.8 269.3,260.8 271.1,261.5 271.3,262.5 271.5,263.4 271.8,264.3 272,265.3 272.3,266.2 272.4,267.2 271.3,268.8 271.6,269.8 271.9,270.7 272.3,271.7 272.8,272.6 274.5,272.6 274.9,273.5 275.3,274.4 275.7,275.3 276.1,276.1 276.5,277 276.8,278 276.1,280 276.5,280.9 277,281.8 277.5,282.6 278.1,283.3 279.7,282.7 280.2,283.5 280.7,284.2 281.2,285 281.8,285.7 282.3,286.4 282.7,287.3 282.4,289.7 283,290.4 283.6,291.1 284.2,291.8 284.9,292.2 286.2,291 286.8,291.6 287.4,292.2 288,292.7 288.6,293.3 289.2,293.8 289.7,294.6 289.9,297.1 290.6,297.7 291.2,298.2 291.9,298.6 292.6,298.8 293.6,297 294.2,297.4 294.9,297.7 295.5,298.1 296.2,298.4 296.8,298.7 297.4,299.3 298,301.8 298.7,302.1 299.4,302.4 300.1,302.6 300.8,302.5 301.3,300.3 302,300.4 302.6,300.5 303.3,300.6 303.9,300.7 304.6,300.7 305.2,301.1 306.2,303.5 306.9,303.5 307.6,303.5 308.2,303.5 308.8,303.1 309,300.6 309.6,300.5 310.2,300.3Z M325.7,256.6 325.8,257.3 325.9,257.9 326,258.6 326.1,259.3 326.2,260 326.2,260.6 326.3,261.3 326.4,262.1 326.4,262.8 326.4,263.5 326.5,264.2 326.5,265 326.5,265.7 326.5,266.5 326.5,267.3 326.5,268.1 326.4,268.9 326.4,269.7 326.3,270.5 326.3,271.4 326.2,272.2 326.1,273.1 325.9,273.9 325.8,274.8 325.6,275.7 325.4,276.6 325.2,277.6 325,278.5 324.7,279.4 324.4,280.4 324.1,281.3 323.8,282.3 323.4,283.2 323,284.2 322.6,285.1 322.1,286 321.6,287 321,287.9 320.4,288.8 319.8,289.6 319.1,290.5 318.4,291.3 317.6,292.1 316.8,292.8 316,293.5 315.1,294.1 314.2,294.7 313.3,295.3 312.3,295.7 311.3,296.1 310.2,296.3 309.1,296.4 308.1,296.4 307,296.3 305.9,296.2 304.8,296 303.8,295.8 302.7,295.5 301.7,295.1 300.7,294.7 299.7,294.3 298.7,293.8 297.8,293.3 296.9,292.8 296,292.2 295.1,291.6 294.3,291 293.5,290.4 292.7,289.7 292,289.1 291.3,288.4 290.6,287.7 289.9,287 289.3,286.3 288.7,285.6 288.1,284.9 287.5,284.2 287,283.5 286.4,282.8 285.9,282.2 285.5,281.5 285,280.8 284.5,280.1 284.1,279.4 283.7,278.8 283.3,278.1 282.9,277.4 282.5,276.8 282.2,276.1 281.8,275.4 281.5,274.8 281.2,274.2 280.9,273.5 280.6,272.9 280.3,272.2 280,271.6 279.8,271 279.5,270.4 279.3,269.7 279,269.1 278.8,268.5 278.6,267.9 278.4,267.3 278.1,266.6 277.9,266 277.7,265.4 277.6,264.8 277.4,264.2 277.2,263.6 277,262.9 276.9,262.3 276.7,261.7 276.6,261.1 276.4,260.4 276.3,259.8 276.1,259.2 276,258.5 275.9,257.9 275.8,257.3 275.7,256.6 275.6,255.9 275.5,255.3 275.4,254.6 275.3,253.9 275.2,253.2 275.2,252.6 275.1,251.9 275,251.1 275,250.4 274.9,249.7 274.9,249 274.9,248.2 274.9,247.5 274.9,246.7 274.9,245.9 274.9,245.1 275,244.3 275,243.5 275.1,242.7 275.1,241.8 275.2,241 275.3,240.1 275.5,239.3 275.6,238.4 275.8,237.5 276,236.6 276.2,235.6 276.4,234.7 276.6,233.8 276.9,232.8 277.2,231.9 277.6,230.9 278,230 278.4,229 278.8,228.1 279.3,227.2 279.8,226.2 280.4,225.3 281,224.4 281.6,223.6 282.3,222.7 283,221.9 283.8,221.1 284.6,220.4 285.4,219.7 286.3,219.1 287.2,218.5 288.1,217.9 289.1,217.5 290.1,217.1 291.2,216.9 292.2,216.8 293.3,216.8 294.4,216.9 295.5,217 296.6,217.2 297.6,217.4 298.7,217.7 299.7,218.1 300.7,218.5 301.7,218.9 302.6,219.4 303.6,219.9 304.5,220.4 305.4,221 306.2,221.6 307.1,222.2 307.9,222.8 308.6,223.5 309.4,224.1 310.1,224.8 310.8,225.5 311.5,226.2 312.1,226.9 312.7,227.6 313.3,228.3 313.9,229 314.4,229.7 314.9,230.4 315.4,231 315.9,231.7 316.4,232.4 316.8,233.1 317.3,233.8 317.7,234.4 318.1,235.1 318.5,235.8 318.8,236.4 319.2,237.1 319.5,237.8 319.9,238.4 320.2,239 320.5,239.7 320.8,240.3 321.1,241 321.4,241.6 321.6,242.2 321.9,242.8 322.1,243.5 322.4,244.1 322.6,244.7 322.8,245.3 323,245.9 323.2,246.6 323.4,247.2 323.6,247.8 323.8,248.4 324,249 324.2,249.6 324.3,250.3 324.5,250.9 324.7,251.5 324.8,252.1 325,252.8 325.1,253.4 325.2,254 325.4,254.7 325.5,255.3 325.6,255.9Z" fill="#fff" fill-rule="evenodd" stroke="none"/><path d="M310.8,300.2 311.4,300 312,299.8 312.6,299.9 314,302 314.6,301.8 315.2,301.5 315.8,301.2 316.3,300.5 315.9,298 316.4,297.6 317,297.2 317.5,296.8 318,296.4 318.5,296 319.1,295.8 320.7,297.4 321.2,296.9 321.7,296.4 322.2,295.8 322.5,295 321.7,292.5 322.1,291.9 322.5,291.3 322.9,290.7 323.3,290.1 323.7,289.5 324.2,289.1 325.9,290.1 326.3,289.4 326.7,288.6 327,287.9 327.2,286.9 326,284.6 326.3,283.9 326.5,283.1 326.8,282.3 327,281.6 327.2,280.8 327.7,280.1 329.4,280.5 329.6,279.6 329.8,278.7 330,277.8 329.9,276.8 328.5,274.9 328.5,274 328.6,273.1 328.7,272.2 328.8,271.3 328.9,270.4 329.1,269.6 330.8,269.3 330.8,268.3 330.8,267.3 330.8,266.4 330.6,265.3 328.9,263.9 328.8,263 328.8,262 328.7,261.1 328.6,260.1 328.5,259.2 328.6,258.2 330,257.3 329.9,256.3 329.7,255.2 329.5,254.2 329.1,253.2 327.3,252.5 327.1,251.5 326.9,250.6 326.6,249.7 326.4,248.7 326.1,247.8 326,246.8 327.1,245.2 326.8,244.2 326.5,243.3 326.1,242.3 325.6,241.4 323.9,241.4 323.5,240.5 323.1,239.6 322.7,238.7 322.3,237.9 321.9,237 321.6,236 322.3,234 321.9,233.1 321.4,232.2 320.9,231.4 320.3,230.7 318.7,231.3 318.2,230.5 317.7,229.8 317.2,229 316.6,228.3 316.1,227.6 315.7,226.7 316,224.3 315.4,223.6 314.8,222.9 314.2,222.2 313.5,221.8 312.2,223 311.6,222.4 311,221.8 310.4,221.3 309.8,220.7 309.2,220.2 308.7,219.4 308.5,216.9 307.8,216.3 307.2,215.8 306.5,215.4 305.8,215.2 304.8,217 304.2,216.6 303.5,216.3 302.9,215.9 302.2,215.6 301.6,215.3 301,214.7 300.4,212.2 299.7,211.9 299,211.6 298.3,211.4 297.6,211.5 297.1,213.7 296.4,213.6 295.8,213.5 295.1,213.4 294.5,213.3 293.8,213.3 293.2,212.9 292.2,210.5 291.5,210.5 290.8,210.5 290.2,210.5 289.6,210.9 289.4,213.4 288.8,213.5 288.2,213.7 287.6,213.8 287,214 286.4,214.2 285.8,214.1 284.4,212 283.8,212.2 283.2,212.5 282.6,212.8 282.1,213.5 282.5,216 282,216.4 281.4,216.8 280.9,217.2 280.4,217.6 279.9,218 279.3,218.2 277.7,216.6 277.2,217.1 276.7,217.6 276.2,218.2 275.9,219 276.7,221.5 276.3,222.1 275.9,222.7 275.5,223.3 275.1,223.9 274.7,224.5 274.2,224.9 272.5,223.9 272.1,224.6 271.7,225.4 271.4,226.1 271.2,227.1 272.4,229.4 272.1,230.1 271.9,230.9 271.6,231.7 271.4,232.4 271.2,233.2 270.7,233.9 269,233.5 268.8,234.4 268.6,235.3 268.4,236.2 268.5,237.2 269.9,239.1 269.9,240 269.8,240.9 269.7,241.8 269.6,242.7 269.5,243.6 269.3,244.4 267.6,244.7 267.6,245.7 267.6,246.7 267.6,247.6 267.8,248.7 269.5,250.1 269.6,251 269.6,252 269.7,252.9 269.8,253.9 269.9,254.8 269.8,255.8 268.4,256.7 268.5,257.7 268.7,258.8 268.9,259.8 269.3,260.8 271.1,261.5 271.3,262.5 271.5,263.4 271.8,264.3 272,265.3 272.3,266.2 272.4,267.2 271.3,268.8 271.6,269.8 271.9,270.7 272.3,271.7 272.8,272.6 274.5,272.6 274.9,273.5 275.3,274.4 275.7,275.3 276.1,276.1 276.5,277 276.8,278 276.1,280 276.5,280.9 277,281.8 277.5,282.6 278.1,283.3 279.7,282.7 280.2,283.5 280.7,284.2 281.2,285 281.8,285.7 282.3,286.4 282.7,287.3 282.4,289.7 283,290.4 283.6,291.1 284.2,291.8 284.9,292.2 286.2,291 286.8,291.6 287.4,292.2 288,292.7 288.6,293.3 289.2,293.8 289.7,294.6 289.9,297.1 290.6,297.7 291.2,298.2 291.9,298.6 292.6,298.8 293.6,297 294.2,297.4 294.9,297.7 295.5,298.1 296.2,298.4 296.8,298.7 297.4,299.3 298,301.8 298.7,302.1 299.4,302.4 300.1,302.6 300.8,302.5 301.3,300.3 302,300.4 302.6,300.5 303.3,300.6 303.9,300.7 304.6,300.7 305.2,301.1 306.2,303.5 306.9,303.5 307.6,303.5 308.2,303.5 308.8,303.1 309,300.6 309.6,300.5 310.2,300.3Z" fill="none" stroke="#000" stroke-width="1.9" stroke-linejoin="round"/><path d="M325.7,256.6 325.8,257.3 325.9,257.9 326,258.6 326.1,259.3 326.2,260 326.2,260.6 326.3,261.3 326.4,262.1 326.4,262.8 326.4,263.5 326.5,264.2 326.5,265 326.5,265.7 326.5,266.5 326.5,267.3 326.5,268.1 326.4,268.9 326.4,269.7 326.3,270.5 326.3,271.4 326.2,272.2 326.1,273.1 325.9,273.9 325.8,274.8 325.6,275.7 325.4,276.6 325.2,277.6 325,278.5 324.7,279.4 324.4,280.4 324.1,281.3 323.8,282.3 323.4,283.2 323,284.2 322.6,285.1 322.1,286 321.6,287 321,287.9 320.4,288.8 319.8,289.6 319.1,290.5 318.4,291.3 317.6,292.1 316.8,292.8 316,293.5 315.1,294.1 314.2,294.7 313.3,295.3 312.3,295.7 311.3,296.1 310.2,296.3 309.1,296.4 308.1,296.4 307,296.3 305.9,296.2 304.8,296 303.8,295.8 302.7,295.5 301.7,295.1 300.7,294.7 299.7,294.3 298.7,293.8 297.8,293.3 296.9,292.8 296,292.2 295.1,291.6 294.3,291 293.5,290.4 292.7,289.7 292,289.1 291.3,288.4 290.6,287.7 289.9,287 289.3,286.3 288.7,285.6 288.1,284.9 287.5,284.2 287,283.5 286.4,282.8 285.9,282.2 285.5,281.5 285,280.8 284.5,280.1 284.1,279.4 283.7,278.8 283.3,278.1 282.9,277.4 282.5,276.8 282.2,276.1 281.8,275.4 281.5,274.8 281.2,274.2 280.9,273.5 280.6,272.9 280.3,272.2 280,271.6 279.8,271 279.5,270.4 279.3,269.7 279,269.1 278.8,268.5 278.6,267.9 278.4,267.3 278.1,266.6 277.9,266 277.7,265.4 277.6,264.8 277.4,264.2 277.2,263.6 277,262.9 276.9,262.3 276.7,261.7 276.6,261.1 276.4,260.4 276.3,259.8 276.1,259.2 276,258.5 275.9,257.9 275.8,257.3 275.7,256.6 275.6,255.9 275.5,255.3 275.4,254.6 275.3,253.9 275.2,253.2 275.2,252.6 275.1,251.9 275,251.1 275,250.4 274.9,249.7 274.9,249 274.9,248.2 274.9,247.5 274.9,246.7 274.9,245.9 274.9,245.1 275,244.3 275,243.5 275.1,242.7 275.1,241.8 275.2,241 275.3,240.1 275.5,239.3 275.6,238.4 275.8,237.5 276,236.6 276.2,235.6 276.4,234.7 276.6,233.8 276.9,232.8 277.2,231.9 277.6,230.9 278,230 278.4,229 278.8,228.1 279.3,227.2 279.8,226.2 280.4,225.3 281,224.4 281.6,223.6 282.3,222.7 283,221.9 283.8,221.1 284.6,220.4 285.4,219.7 286.3,219.1 287.2,218.5 288.1,217.9 289.1,217.5 290.1,217.1 291.2,216.9 292.2,216.8 293.3,216.8 294.4,216.9 295.5,217 296.6,217.2 297.6,217.4 298.7,217.7 299.7,218.1 300.7,218.5 301.7,218.9 302.6,219.4 303.6,219.9 304.5,220.4 305.4,221 306.2,221.6 307.1,222.2 307.9,222.8 308.6,223.5 309.4,224.1 310.1,224.8 310.8,225.5 311.5,226.2 312.1,226.9 312.7,227.6 313.3,228.3 313.9,229 314.4,229.7 314.9,230.4 315.4,231 315.9,231.7 316.4,232.4 316.8,233.1 317.3,233.8 317.7,234.4 318.1,235.1 318.5,235.8 318.8,236.4 319.2,237.1 319.5,237.8 319.9,238.4 320.2,239 320.5,239.7 320.8,240.3 321.1,241 321.4,241.6 321.6,242.2 321.9,242.8 322.1,243.5 322.4,244.1 322.6,244.7 322.8,245.3 323,245.9 323.2,246.6 323.4,247.2 323.6,247.8 323.8,248.4 324,249 324.2,249.6 324.3,250.3 324.5,250.9 324.7,251.5 324.8,252.1 325,252.8 325.1,253.4 325.2,254 325.4,254.7 325.5,255.3 325.6,255.9Z" fill="none" stroke="#000" stroke-width="1.3"/><path d="M323.8,243.4 323.2,241.8 322.5,240.2 321.8,238.7 321.1,237.2 320.3,235.7 319.5,234.3 318.7,232.9 317.9,231.6 317,230.2 316.1,229 315.1,227.7 314.2,226.5 313.2,225.4 312.2,224.3 311.2,223.2 310.1,222.2 309,221.3 308,220.4 306.9,219.6 305.8,218.8 304.7,218.1 303.5,217.4 302.4,216.8 301.3,216.3 300.1,215.8 299,215.4 297.9,215.1 296.7,214.8 295.6,214.6 294.5,214.5 293.4,214.4 292.3,214.4 291.2,214.4 290.1,214.6 289,214.7 287.9,215 286.9,215.3 285.9,215.7 284.9,216.1 283.9,216.6 283,217.2 282,217.8 281.1,218.5 280.2,219.2 279.4,220.1 278.6,220.9 277.8,221.8 277.1,222.8 276.3,223.8 275.7,224.9 275,226 274.4,227.2 273.8,228.4 273.3,229.7 272.8,231 272.4,232.3 272,233.7 271.6,235.1 271.3,236.6 271,238.1" fill="none" stroke="#333" stroke-width="0.6"/><path d="M306.5,263.1 306.6,263.9 306.8,264.7 306.8,265.5 306.9,266.3 307,267.1 307.1,267.9 307.1,268.8 307.2,269.6 307.2,270.5 307.2,271.3 307.2,272.2 307.2,273.1 307.2,273.9 307.2,274.8 307.2,275.8 307.1,276.7 307,277.6 306.9,278.6 306.8,279.5 306.7,280.5 306.5,281.4 306.4,282.4 306.2,283.4 305.9,284.4 305.7,285.4 305.4,286.4 305.1,287.5 304.8,288.5 304.4,289.5 304,290.5 303.6,291.5 303.1,292.6 302.6,293.6 302.1,294.5 301.5,295.5 300.8,296.5 300.2,297.4 299.5,298.3 298.7,299.2 297.9,300 297.1,300.8 296.2,301.5 295.3,302.2 294.3,302.9 293.3,303.5 292.3,304 291.2,304.4 290.1,304.8 289,305.1 287.9,305.3 286.8,305.7 285.7,306 284.6,306.2 283.4,306.3 282.3,306.4 281.1,306.4 280,306.3 278.9,306.2 277.7,306 276.6,305.7 275.5,305.4 274.4,305 273.3,304.6 272.3,304.1 271.3,303.6 270.3,303.1 269.3,302.5 268.4,301.9 267.4,301.2 266.6,300.6 265.7,299.9 264.9,299.2 264.1,298.5 263.3,297.7 262.6,297 261.8,296.2 261.1,295.5 260.5,294.7 259.8,294 259.2,293.2 258.6,292.4 258,291.7 257.5,290.9 257,290.1 256.5,289.3 256,288.6 255.5,287.8 255,287.1 254.6,286.3 254.2,285.5 253.8,284.8 253.4,284 253,283.3 252.6,282.5 252.3,281.8 251.9,281 251.6,280.3 251.3,279.5 251,278.8 250.7,278.1 250.4,277.3 250.1,276.6 249.8,275.9 249.6,275.1 249.3,274.4 249.1,273.7 248.9,272.9 248.6,272.2 248.4,271.4 248.2,270.7 248,270 247.9,269.2 247.7,268.5 247.5,267.7 247.3,267 247.2,266.2 247,265.4 246.9,264.7 246.8,263.9 246.7,263.1 246.5,262.3 246.4,261.5 246.3,260.7 246.3,259.9 246.2,259.1 246.1,258.3 246.1,257.4 246,256.6 246,255.7 245.9,254.9 245.9,254 245.9,253.1 246,252.3 246,251.4 246,250.4 246.1,249.5 246.2,248.6 246.3,247.6 246.4,246.7 246.5,245.7 246.7,244.8 246.8,243.8 247,242.8 247.2,241.8 247.5,240.8 247.8,239.8 248.1,238.7 248.4,237.7 248.8,236.7 249.2,235.7 249.6,234.7 250.1,233.6 250.6,232.6 251.1,231.7 251.7,230.7 252.3,229.7 253,228.8 253.7,227.9 254.5,227 255.3,226.2 256.1,225.4 257,224.7 257.9,224 258.9,223.3 259.9,222.7 260.9,222.2 262,221.8 263,221.4 264.2,221.1 265.3,220.9 266.4,220.5 267.5,220.2 268.6,220 269.7,219.9 270.9,219.8 272,219.8 273.2,219.9 274.3,220 275.5,220.2 276.6,220.5 277.7,220.8 278.8,221.2 279.9,221.6 280.9,222.1 281.9,222.6 282.9,223.1 283.9,223.7 284.8,224.3 285.7,225 286.6,225.6 287.5,226.3 288.3,227 289.1,227.7 289.9,228.5 290.6,229.2 291.3,230 292,230.7 292.7,231.5 293.3,232.2 294,233 294.6,233.8 295.1,234.5 295.7,235.3 296.2,236.1 296.7,236.9 297.2,237.6 297.7,238.4 298.2,239.1 298.6,239.9 299,240.7 299.4,241.4 299.8,242.2 300.2,242.9 300.6,243.7 300.9,244.4 301.3,245.2 301.6,245.9 301.9,246.7 302.2,247.4 302.5,248.1 302.8,248.9 303.1,249.6 303.4,250.3 303.6,251.1 303.9,251.8 304.1,252.5 304.3,253.3 304.5,254 304.8,254.8 305,255.5 305.2,256.2 305.3,257 305.5,257.7 305.7,258.5 305.8,259.2 306,260 306.1,260.8 306.3,261.5 306.4,262.3Z M300.3,263.1 300.6,263.7 301.4,264.4 301.8,265.1 301.8,265.8 301.9,266.4 301.8,267.1 301.1,267.7 300.9,268.3 300.9,268.9 300.9,269.6 301,270.3 301,271 301,271.7 301.5,272.6 302.2,273.7 302.2,274.5 302.2,275.3 301.9,276 300.9,276.3 300.8,277.1 300.7,277.9 300.6,278.7 300.5,279.5 300.7,280.6 301.4,282.1 301.2,283 300.9,283.9 299.7,283.9 299.3,284.7 299.1,285.6 298.8,286.5 298.6,287.5 299.2,289.5 298.8,290.5 298,291 296.8,291 296.4,291.9 295.8,292.7 295.6,294.1 295.6,296 294.8,296.7 293.4,296 292.6,296.7 291.9,297.4 291.4,298.9 290.5,299.4 289.6,299.8 288.5,299.8 287.6,300.2 286.6,300.6 285.6,300.7 284.6,300.8 283.7,301.5 282.7,301.5 281.7,301.6 280.5,300.5 279.5,300.2 278.5,300 277.6,301.1 276.6,301 275.6,300.1 274.7,298.4 273.9,297.9 273,297.4 272.1,297.4 271.1,297.9 270.3,297.3 269.7,295.6 269.1,294.4 268.4,293.8 267.7,293.2 267,292.5 266,293.1 265.2,292.7 264.6,292 264.3,290.7 264.1,289.2 263.6,288.6 263.1,287.9 262.6,287.3 262.2,286.6 261.4,286.5 260.5,286.5 260.1,285.8 259.7,285.1 259.5,284.2 259.7,282.8 259.4,282.2 259.1,281.5 258.8,280.9 258.5,280.3 258.2,279.7 257.7,279.2 256.9,279 256.3,278.6 256,278 255.8,277.4 255.6,276.7 255.9,275.8 256.1,274.9 255.9,274.3 255.7,273.8 255.5,273.2 255.3,272.6 255.1,272 254.9,271.4 254.4,270.9 253.6,270.6 253.2,270 253.1,269.4 252.9,268.8 252.8,268.2 253.2,267.4 253.6,266.7 253.5,266.1 253.4,265.5 253.3,264.9 253.2,264.3 253,263.7 252.9,263.1 252.6,262.5 251.8,261.8 251.4,261.1 251.3,260.4 251.3,259.8 251.3,259.1 252,258.5 252.3,257.9 252.3,257.3 252.2,256.6 252.2,255.9 252.2,255.2 252.2,254.5 251.7,253.6 251,252.5 251,251.7 251,250.9 251.3,250.2 252.3,249.9 252.4,249.1 252.5,248.3 252.6,247.5 252.7,246.7 252.5,245.6 251.8,244.1 252,243.2 252.3,242.3 253.5,242.3 253.8,241.5 254.1,240.6 254.4,239.7 254.6,238.7 254,236.7 254.4,235.7 255.2,235.2 256.3,235.2 256.8,234.3 257.4,233.5 257.6,232.1 257.6,230.2 258.4,229.5 259.8,230.2 260.6,229.5 261.3,228.8 261.8,227.3 262.6,226.8 263.6,226.4 264.7,226.4 265.6,226 266.5,225.6 267.6,225.5 268.6,225.4 269.5,224.7 270.5,224.7 271.5,224.6 272.7,225.7 273.7,226 274.7,226.2 275.6,225.1 276.6,225.2 277.6,226.1 278.4,227.8 279.3,228.3 280.2,228.8 281.1,228.8 282.1,228.3 282.9,228.9 283.5,230.6 284.1,231.8 284.8,232.4 285.5,233 286.2,233.7 287.2,233.1 287.9,233.5 288.5,234.2 288.9,235.5 289.1,237 289.6,237.6 290.1,238.3 290.6,238.9 291,239.6 291.8,239.7 292.6,239.7 293.1,240.4 293.5,241.1 293.7,242 293.4,243.4 293.8,244 294.1,244.7 294.4,245.3 294.7,245.9 295,246.5 295.4,247 296.3,247.2 296.8,247.6 297.1,248.2 297.4,248.8 297.6,249.5 297.2,250.4 297.1,251.3 297.3,251.9 297.5,252.4 297.7,253 297.9,253.6 298.1,254.2 298.3,254.8 298.8,255.3 299.6,255.6 299.9,256.2 300.1,256.8 300.3,257.4 300.4,258 300,258.8 299.6,259.5 299.7,260.1 299.8,260.7 299.9,261.3 300,261.9 300.1,262.5Z" fill="#fff" fill-rule="evenodd" stroke="none"/><path d="M306.5,263.1 306.6,263.9 306.8,264.7 306.8,265.5 306.9,266.3 307,267.1 307.1,267.9 307.1,268.8 307.2,269.6 307.2,270.5 307.2,271.3 307.2,272.2 307.2,273.1 307.2,273.9 307.2,274.8 307.2,275.8 307.1,276.7 307,277.6 306.9,278.6 306.8,279.5 306.7,280.5 306.5,281.4 306.4,282.4 306.2,283.4 305.9,284.4 305.7,285.4 305.4,286.4 305.1,287.5 304.8,288.5 304.4,289.5 304,290.5 303.6,291.5 303.1,292.6 302.6,293.6 302.1,294.5 301.5,295.5 300.8,296.5 300.2,297.4 299.5,298.3 298.7,299.2 297.9,300 297.1,300.8 296.2,301.5 295.3,302.2 294.3,302.9 293.3,303.5 292.3,304 291.2,304.4 290.1,304.8 289,305.1 287.9,305.3 286.8,305.7 285.7,306 284.6,306.2 283.4,306.3 282.3,306.4 281.1,306.4 280,306.3 278.9,306.2 277.7,306 276.6,305.7 275.5,305.4 274.4,305 273.3,304.6 272.3,304.1 271.3,303.6 270.3,303.1 269.3,302.5 268.4,301.9 267.4,301.2 266.6,300.6 265.7,299.9 264.9,299.2 264.1,298.5 263.3,297.7 262.6,297 261.8,296.2 261.1,295.5 260.5,294.7 259.8,294 259.2,293.2 258.6,292.4 258,291.7 257.5,290.9 257,290.1 256.5,289.3 256,288.6 255.5,287.8 255,287.1 254.6,286.3 254.2,285.5 253.8,284.8 253.4,284 253,283.3 252.6,282.5 252.3,281.8 251.9,281 251.6,280.3 251.3,279.5 251,278.8 250.7,278.1 250.4,277.3 250.1,276.6 249.8,275.9 249.6,275.1 249.3,274.4 249.1,273.7 248.9,272.9 248.6,272.2 248.4,271.4 248.2,270.7 248,270 247.9,269.2 247.7,268.5 247.5,267.7 247.3,267 247.2,266.2 247,265.4 246.9,264.7 246.8,263.9 246.7,263.1 246.5,262.3 246.4,261.5 246.3,260.7 246.3,259.9 246.2,259.1 246.1,258.3 246.1,257.4 246,256.6 246,255.7 245.9,254.9 245.9,254 245.9,253.1 246,252.3 246,251.4 246,250.4 246.1,249.5 246.2,248.6 246.3,247.6 246.4,246.7 246.5,245.7 246.7,244.8 246.8,243.8 247,242.8 247.2,241.8 247.5,240.8 247.8,239.8 248.1,238.7 248.4,237.7 248.8,236.7 249.2,235.7 249.6,234.7 250.1,233.6 250.6,232.6 251.1,231.7 251.7,230.7 252.3,229.7 253,228.8 253.7,227.9 254.5,227 255.3,226.2 256.1,225.4 257,224.7 257.9,224 258.9,223.3 259.9,222.7 260.9,222.2 262,221.8 263,221.4 264.2,221.1 265.3,220.9 266.4,220.5 267.5,220.2 268.6,220 269.7,219.9 270.9,219.8 272,219.8 273.2,219.9 274.3,220 275.5,220.2 276.6,220.5 277.7,220.8 278.8,221.2 279.9,221.6 280.9,222.1 281.9,222.6 282.9,223.1 283.9,223.7 284.8,224.3 285.7,225 286.6,225.6 287.5,226.3 288.3,227 289.1,227.7 289.9,228.5 290.6,229.2 291.3,230 292,230.7 292.7,231.5 293.3,232.2 294,233 294.6,233.8 295.1,234.5 295.7,235.3 296.2,236.1 296.7,236.9 297.2,237.6 297.7,238.4 298.2,239.1 298.6,239.9 299,240.7 299.4,241.4 299.8,242.2 300.2,242.9 300.6,243.7 300.9,244.4 301.3,245.2 301.6,245.9 301.9,246.7 302.2,247.4 302.5,248.1 302.8,248.9 303.1,249.6 303.4,250.3 303.6,251.1 303.9,251.8 304.1,252.5 304.3,253.3 304.5,254 304.8,254.8 305,255.5 305.2,256.2 305.3,257 305.5,257.7 305.7,258.5 305.8,259.2 306,260 306.1,260.8 306.3,261.5 306.4,262.3Z" fill="none" stroke="#000" stroke-width="2.0"/><path d="M300.3,263.1 300.6,263.7 301.4,264.4 301.8,265.1 301.8,265.8 301.9,266.4 301.8,267.1 301.1,267.7 300.9,268.3 300.9,268.9 300.9,269.6 301,270.3 301,271 301,271.7 301.5,272.6 302.2,273.7 302.2,274.5 302.2,275.3 301.9,276 300.9,276.3 300.8,277.1 300.7,277.9 300.6,278.7 300.5,279.5 300.7,280.6 301.4,282.1 301.2,283 300.9,283.9 299.7,283.9 299.3,284.7 299.1,285.6 298.8,286.5 298.6,287.5 299.2,289.5 298.8,290.5 298,291 296.8,291 296.4,291.9 295.8,292.7 295.6,294.1 295.6,296 294.8,296.7 293.4,296 292.6,296.7 291.9,297.4 291.4,298.9 290.5,299.4 289.6,299.8 288.5,299.8 287.6,300.2 286.6,300.6 285.6,300.7 284.6,300.8 283.7,301.5 282.7,301.5 281.7,301.6 280.5,300.5 279.5,300.2 278.5,300 277.6,301.1 276.6,301 275.6,300.1 274.7,298.4 273.9,297.9 273,297.4 272.1,297.4 271.1,297.9 270.3,297.3 269.7,295.6 269.1,294.4 268.4,293.8 267.7,293.2 267,292.5 266,293.1 265.2,292.7 264.6,292 264.3,290.7 264.1,289.2 263.6,288.6 263.1,287.9 262.6,287.3 262.2,286.6 261.4,286.5 260.5,286.5 260.1,285.8 259.7,285.1 259.5,284.2 259.7,282.8 259.4,282.2 259.1,281.5 258.8,280.9 258.5,280.3 258.2,279.7 257.7,279.2 256.9,279 256.3,278.6 256,278 255.8,277.4 255.6,276.7 255.9,275.8 256.1,274.9 255.9,274.3 255.7,273.8 255.5,273.2 255.3,272.6 255.1,272 254.9,271.4 254.4,270.9 253.6,270.6 253.2,270 253.1,269.4 252.9,268.8 252.8,268.2 253.2,267.4 253.6,266.7 253.5,266.1 253.4,265.5 253.3,264.9 253.2,264.3 253,263.7 252.9,263.1 252.6,262.5 251.8,261.8 251.4,261.1 251.3,260.4 251.3,259.8 251.3,259.1 252,258.5 252.3,257.9 252.3,257.3 252.2,256.6 252.2,255.9 252.2,255.2 252.2,254.5 251.7,253.6 251,252.5 251,251.7 251,250.9 251.3,250.2 252.3,249.9 252.4,249.1 252.5,248.3 252.6,247.5 252.7,246.7 252.5,245.6 251.8,244.1 252,243.2 252.3,242.3 253.5,242.3 253.8,241.5 254.1,240.6 254.4,239.7 254.6,238.7 254,236.7 254.4,235.7 255.2,235.2 256.3,235.2 256.8,234.3 257.4,233.5 257.6,232.1 257.6,230.2 258.4,229.5 259.8,230.2 260.6,229.5 261.3,228.8 261.8,227.3 262.6,226.8 263.6,226.4 264.7,226.4 265.6,226 266.5,225.6 267.6,225.5 268.6,225.4 269.5,224.7 270.5,224.7 271.5,224.6 272.7,225.7 273.7,226 274.7,226.2 275.6,225.1 276.6,225.2 277.6,226.1 278.4,227.8 279.3,228.3 280.2,228.8 281.1,228.8 282.1,228.3 282.9,228.9 283.5,230.6 284.1,231.8 284.8,232.4 285.5,233 286.2,233.7 287.2,233.1 287.9,233.5 288.5,234.2 288.9,235.5 289.1,237 289.6,237.6 290.1,238.3 290.6,238.9 291,239.6 291.8,239.7 292.6,239.7 293.1,240.4 293.5,241.1 293.7,242 293.4,243.4 293.8,244 294.1,244.7 294.4,245.3 294.7,245.9 295,246.5 295.4,247 296.3,247.2 296.8,247.6 297.1,248.2 297.4,248.8 297.6,249.5 297.2,250.4 297.1,251.3 297.3,251.9 297.5,252.4 297.7,253 297.9,253.6 298.1,254.2 298.3,254.8 298.8,255.3 299.6,255.6 299.9,256.2 300.1,256.8 300.3,257.4 300.4,258 300,258.8 299.6,259.5 299.7,260.1 299.8,260.7 299.9,261.3 300,261.9 300.1,262.5Z" fill="none" stroke="#000" stroke-width="0.95" stroke-linejoin="round"/><path d="M294.2,301.5 294.8,301 295.3,300.4 295.9,299.8 296.4,299.2 296.9,298.6 297.4,297.9 297.9,297.2 298.4,296.5 298.8,295.8 299.2,295.1 299.7,294.3 300.1,293.5 300.4,292.7 300.8,291.8 301.2,291 301.5,290.1 301.8,289.2 302.1,288.3 302.4,287.4 302.7,286.5 302.9,285.5 303.1,284.5 303.3,283.5 303.5,282.5 303.7,281.5 303.8,280.5 303.9,279.5 304,278.4 304.1,277.4 304.2,276.3 304.2,275.2 304.3,274.1 304.3,273 304.2,271.9 304.2,270.8 304.2,269.7 304.1,268.6 304,267.5 303.9,266.4 303.7,265.3 303.6,264.1 303.4,263 303.2,261.9 303,260.8 302.8,259.6 302.5,258.5 302.3,257.4 302,256.3 301.7,255.2 301.3,254.1 301,253 300.6,251.9 300.3,250.8 299.9,249.8 299.4,248.7 299,247.7 298.6,246.6 298.1,245.6 297.6,244.6 297.1,243.6 296.6,242.6 296.1,241.6 295.6,240.7 295,239.7 294.5,238.8 293.9,237.9 293.3,237 292.7,236.1 292.1,235.3 291.5,234.4 290.8,233.6 290.2,232.8 289.5,232 288.8,231.3 288.2,230.5 287.5,229.8 286.8,229.2 286.1,228.5 285.4,227.9 284.7,227.2 283.9,226.7 283.2,226.1 282.5,225.6 281.7,225 281,224.6 280.2,224.1 279.5,223.7 278.7,223.3 278,222.9 277.2,222.5 276.4,222.2 275.7,221.9 274.9,221.7 274.1,221.4 273.4,221.2 272.6,221" fill="none" stroke="#222" stroke-width="0.6"/><path d="M262.6,313.2 263.2,313 263.8,312.8 264.3,312.6 264.9,312.4 265.5,312.1 266.5,313.2 267.6,314.1 268.2,313.8 268.7,313.5 269.3,313.1 269.4,311.5 269.3,309.8 269.8,309.4 270.3,309 270.8,308.5 271.2,308.1 271.7,307.6 272.9,308.3 274,308.8 274.5,308.3 274.9,307.7 275.4,307.1 275.1,305.5 274.7,303.7 275.1,303.1 275.5,302.5 275.9,301.8 276.2,301.2 276.5,300.5 277.7,300.7 278.8,300.9 279.1,300.1 279.5,299.3 279.7,298.5 279.2,297 278.6,295.3 278.8,294.6 279,293.8 279.2,292.9 279.4,292.1 279.6,291.3 280.7,291.1 281.8,290.8 281.9,289.9 282.1,289 282.2,288.1 281.4,286.7 280.5,285.2 280.6,284.3 280.7,283.4 280.7,282.5 280.7,281.6 280.8,280.7 281.7,280.1 282.6,279.4 282.6,278.4 282.5,277.4 282.5,276.4 281.6,275.2 280.5,274.1 280.4,273.1 280.3,272.2 280.1,271.2 280,270.3 279.9,269.3 280.6,268.3 281.3,267.2 281.1,266.2 280.9,265.2 280.6,264.2 279.6,263.4 278.4,262.7 278.2,261.7 277.9,260.8 277.6,259.8 277.3,258.9 277,258 277.5,256.7 277.9,255.3 277.6,254.3 277.2,253.4 276.8,252.5 275.7,252 274.5,251.7 274.1,250.9 273.7,250 273.2,249.2 272.8,248.3 272.4,247.5 272.6,245.9 272.7,244.4 272.2,243.5 271.7,242.7 271.2,241.9 270.1,241.9 269,242 268.4,241.3 267.9,240.6 267.4,239.9 266.8,239.2 266.3,238.5 266.2,236.8 266,235.2 265.4,234.5 264.8,233.9 264.2,233.3 263.2,233.7 262.2,234.3 261.6,233.7 261,233.2 260.4,232.7 259.8,232.2 259.1,231.7 258.8,230 258.3,228.4 257.6,227.9 257,227.5 256.3,227.1 255.5,227.9 254.7,228.9 254,228.6 253.4,228.3 252.8,228 252.1,227.8 251.5,227.5 250.8,225.9 250.1,224.4 249.4,224.2 248.7,224 248,223.9 247.4,225 246.9,226.4 246.3,226.3 245.6,226.3 245,226.2 244.4,226.2 243.7,226.2 242.9,224.8 242,223.6 241.3,223.6 240.6,223.7 240,223.8 239.7,225.2 239.4,226.8 238.8,227 238.2,227.2 237.7,227.4 237.1,227.6 236.5,227.9 235.5,226.8 234.4,225.9 233.8,226.2 233.3,226.5 232.7,226.9 232.6,228.5 232.7,230.2 232.2,230.6 231.7,231 231.2,231.5 230.8,231.9 230.3,232.4 229.1,231.7 228,231.2 227.5,231.7 227.1,232.3 226.6,232.9 226.9,234.5 227.3,236.3 226.9,236.9 226.5,237.5 226.1,238.2 225.8,238.8 225.5,239.5 224.3,239.3 223.2,239.1 222.9,239.9 222.5,240.7 222.3,241.5 222.8,243 223.4,244.7 223.2,245.4 223,246.2 222.8,247.1 222.6,247.9 222.4,248.7 221.3,248.9 220.2,249.2 220.1,250.1 219.9,251 219.8,251.9 220.6,253.3 221.5,254.8 221.4,255.7 221.3,256.6 221.3,257.5 221.3,258.4 221.2,259.3 220.3,259.9 219.4,260.6 219.4,261.6 219.5,262.6 219.5,263.6 220.4,264.8 221.5,265.9 221.6,266.9 221.7,267.8 221.9,268.8 222,269.7 222.1,270.7 221.4,271.7 220.7,272.8 220.9,273.8 221.1,274.8 221.4,275.8 222.4,276.6 223.6,277.3 223.8,278.3 224.1,279.2 224.4,280.2 224.7,281.1 225,282 224.5,283.3 224.1,284.7 224.4,285.7 224.8,286.6 225.2,287.5 226.3,288 227.5,288.3 227.9,289.1 228.3,290 228.8,290.8 229.2,291.7 229.6,292.5 229.4,294.1 229.3,295.6 229.8,296.5 230.3,297.3 230.8,298.1 231.9,298.1 233,298 233.6,298.7 234.1,299.4 234.6,300.1 235.2,300.8 235.7,301.5 235.8,303.2 236,304.8 236.6,305.5 237.2,306.1 237.8,306.7 238.8,306.3 239.8,305.7 240.4,306.3 241,306.8 241.6,307.3 242.2,307.8 242.9,308.3 243.2,310 243.7,311.6 244.4,312.1 245,312.5 245.7,312.9 246.5,312.1 247.3,311.1 248,311.4 248.6,311.7 249.2,312 249.9,312.2 250.5,312.5 251.2,314.1 251.9,315.6 252.6,315.8 253.3,316 254,316.1 254.6,315 255.1,313.6 255.7,313.7 256.4,313.7 257,313.8 257.6,313.8 258.3,313.8 259.1,315.2 260,316.4 260.7,316.4 261.4,316.3 262,316.2 262.3,314.8Z M277.5,269.6 277.6,270.3 277.7,270.9 277.8,271.6 277.9,272.3 278,273 278,273.6 278.1,274.3 278.2,275.1 278.2,275.8 278.2,276.5 278.3,277.2 278.3,278 278.3,278.7 278.3,279.5 278.3,280.3 278.3,281.1 278.2,281.9 278.2,282.7 278.1,283.5 278.1,284.4 278,285.2 277.9,286.1 277.7,286.9 277.6,287.8 277.4,288.7 277.2,289.6 277,290.6 276.8,291.5 276.5,292.4 276.2,293.4 275.9,294.3 275.6,295.3 275.2,296.2 274.8,297.2 274.4,298.1 273.9,299 273.4,300 272.8,300.9 272.2,301.8 271.6,302.6 270.9,303.5 270.2,304.3 269.4,305.1 268.6,305.8 267.8,306.5 266.9,307.1 266,307.7 265.1,308.3 264.1,308.7 263.1,309.1 262,309.3 260.9,309.4 259.9,309.4 258.8,309.3 257.7,309.2 256.6,309 255.6,308.8 254.5,308.5 253.5,308.1 252.5,307.7 251.5,307.3 250.5,306.8 249.6,306.3 248.7,305.8 247.8,305.2 246.9,304.6 246.1,304 245.3,303.4 244.5,302.7 243.8,302.1 243.1,301.4 242.4,300.7 241.7,300 241.1,299.3 240.5,298.6 239.9,297.9 239.3,297.2 238.8,296.5 238.2,295.8 237.7,295.2 237.3,294.5 236.8,293.8 236.3,293.1 235.9,292.4 235.5,291.8 235.1,291.1 234.7,290.4 234.3,289.8 234,289.1 233.6,288.4 233.3,287.8 233,287.2 232.7,286.5 232.4,285.9 232.1,285.2 231.8,284.6 231.6,284 231.3,283.4 231.1,282.7 230.8,282.1 230.6,281.5 230.4,280.9 230.2,280.3 229.9,279.6 229.7,279 229.5,278.4 229.4,277.8 229.2,277.2 229,276.6 228.8,275.9 228.7,275.3 228.5,274.7 228.4,274.1 228.2,273.4 228.1,272.8 227.9,272.2 227.8,271.5 227.7,270.9 227.6,270.3 227.5,269.6 227.4,268.9 227.3,268.3 227.2,267.6 227.1,266.9 227,266.2 227,265.6 226.9,264.9 226.8,264.1 226.8,263.4 226.7,262.7 226.7,262 226.7,261.2 226.7,260.5 226.7,259.7 226.7,258.9 226.7,258.1 226.8,257.3 226.8,256.5 226.9,255.7 226.9,254.8 227,254 227.1,253.1 227.3,252.3 227.4,251.4 227.6,250.5 227.8,249.6 228,248.6 228.2,247.7 228.4,246.8 228.7,245.8 229,244.9 229.4,243.9 229.8,243 230.2,242 230.6,241.1 231.1,240.2 231.6,239.2 232.2,238.3 232.8,237.4 233.4,236.6 234.1,235.7 234.8,234.9 235.6,234.1 236.4,233.4 237.2,232.7 238.1,232.1 239,231.5 239.9,230.9 240.9,230.5 241.9,230.1 243,229.9 244,229.8 245.1,229.8 246.2,229.9 247.3,230 248.4,230.2 249.4,230.4 250.5,230.7 251.5,231.1 252.5,231.5 253.5,231.9 254.4,232.4 255.4,232.9 256.3,233.4 257.2,234 258,234.6 258.9,235.2 259.7,235.8 260.4,236.5 261.2,237.1 261.9,237.8 262.6,238.5 263.3,239.2 263.9,239.9 264.5,240.6 265.1,241.3 265.7,242 266.2,242.7 266.7,243.4 267.2,244 267.7,244.7 268.2,245.4 268.6,246.1 269.1,246.8 269.5,247.4 269.9,248.1 270.3,248.8 270.6,249.4 271,250.1 271.3,250.8 271.7,251.4 272,252 272.3,252.7 272.6,253.3 272.9,254 273.2,254.6 273.4,255.2 273.7,255.8 273.9,256.5 274.2,257.1 274.4,257.7 274.6,258.3 274.8,258.9 275,259.6 275.2,260.2 275.4,260.8 275.6,261.4 275.8,262 276,262.6 276.1,263.3 276.3,263.9 276.5,264.5 276.6,265.1 276.8,265.8 276.9,266.4 277,267 277.2,267.7 277.3,268.3 277.4,268.9Z" fill="#fff" fill-rule="evenodd" stroke="none"/><path d="M262.6,313.2 263.2,313 263.8,312.8 264.3,312.6 264.9,312.4 265.5,312.1 266.5,313.2 267.6,314.1 268.2,313.8 268.7,313.5 269.3,313.1 269.4,311.5 269.3,309.8 269.8,309.4 270.3,309 270.8,308.5 271.2,308.1 271.7,307.6 272.9,308.3 274,308.8 274.5,308.3 274.9,307.7 275.4,307.1 275.1,305.5 274.7,303.7 275.1,303.1 275.5,302.5 275.9,301.8 276.2,301.2 276.5,300.5 277.7,300.7 278.8,300.9 279.1,300.1 279.5,299.3 279.7,298.5 279.2,297 278.6,295.3 278.8,294.6 279,293.8 279.2,292.9 279.4,292.1 279.6,291.3 280.7,291.1 281.8,290.8 281.9,289.9 282.1,289 282.2,288.1 281.4,286.7 280.5,285.2 280.6,284.3 280.7,283.4 280.7,282.5 280.7,281.6 280.8,280.7 281.7,280.1 282.6,279.4 282.6,278.4 282.5,277.4 282.5,276.4 281.6,275.2 280.5,274.1 280.4,273.1 280.3,272.2 280.1,271.2 280,270.3 279.9,269.3 280.6,268.3 281.3,267.2 281.1,266.2 280.9,265.2 280.6,264.2 279.6,263.4 278.4,262.7 278.2,261.7 277.9,260.8 277.6,259.8 277.3,258.9 277,258 277.5,256.7 277.9,255.3 277.6,254.3 277.2,253.4 276.8,252.5 275.7,252 274.5,251.7 274.1,250.9 273.7,250 273.2,249.2 272.8,248.3 272.4,247.5 272.6,245.9 272.7,244.4 272.2,243.5 271.7,242.7 271.2,241.9 270.1,241.9 269,242 268.4,241.3 267.9,240.6 267.4,239.9 266.8,239.2 266.3,238.5 266.2,236.8 266,235.2 265.4,234.5 264.8,233.9 264.2,233.3 263.2,233.7 262.2,234.3 261.6,233.7 261,233.2 260.4,232.7 259.8,232.2 259.1,231.7 258.8,230 258.3,228.4 257.6,227.9 257,227.5 256.3,227.1 255.5,227.9 254.7,228.9 254,228.6 253.4,228.3 252.8,228 252.1,227.8 251.5,227.5 250.8,225.9 250.1,224.4 249.4,224.2 248.7,224 248,223.9 247.4,225 246.9,226.4 246.3,226.3 245.6,226.3 245,226.2 244.4,226.2 243.7,226.2 242.9,224.8 242,223.6 241.3,223.6 240.6,223.7 240,223.8 239.7,225.2 239.4,226.8 238.8,227 238.2,227.2 237.7,227.4 237.1,227.6 236.5,227.9 235.5,226.8 234.4,225.9 233.8,226.2 233.3,226.5 232.7,226.9 232.6,228.5 232.7,230.2 232.2,230.6 231.7,231 231.2,231.5 230.8,231.9 230.3,232.4 229.1,231.7 228,231.2 227.5,231.7 227.1,232.3 226.6,232.9 226.9,234.5 227.3,236.3 226.9,236.9 226.5,237.5 226.1,238.2 225.8,238.8 225.5,239.5 224.3,239.3 223.2,239.1 222.9,239.9 222.5,240.7 222.3,241.5 222.8,243 223.4,244.7 223.2,245.4 223,246.2 222.8,247.1 222.6,247.9 222.4,248.7 221.3,248.9 220.2,249.2 220.1,250.1 219.9,251 219.8,251.9 220.6,253.3 221.5,254.8 221.4,255.7 221.3,256.6 221.3,257.5 221.3,258.4 221.2,259.3 220.3,259.9 219.4,260.6 219.4,261.6 219.5,262.6 219.5,263.6 220.4,264.8 221.5,265.9 221.6,266.9 221.7,267.8 221.9,268.8 222,269.7 222.1,270.7 221.4,271.7 220.7,272.8 220.9,273.8 221.1,274.8 221.4,275.8 222.4,276.6 223.6,277.3 223.8,278.3 224.1,279.2 224.4,280.2 224.7,281.1 225,282 224.5,283.3 224.1,284.7 224.4,285.7 224.8,286.6 225.2,287.5 226.3,288 227.5,288.3 227.9,289.1 228.3,290 228.8,290.8 229.2,291.7 229.6,292.5 229.4,294.1 229.3,295.6 229.8,296.5 230.3,297.3 230.8,298.1 231.9,298.1 233,298 233.6,298.7 234.1,299.4 234.6,300.1 235.2,300.8 235.7,301.5 235.8,303.2 236,304.8 236.6,305.5 237.2,306.1 237.8,306.7 238.8,306.3 239.8,305.7 240.4,306.3 241,306.8 241.6,307.3 242.2,307.8 242.9,308.3 243.2,310 243.7,311.6 244.4,312.1 245,312.5 245.7,312.9 246.5,312.1 247.3,311.1 248,311.4 248.6,311.7 249.2,312 249.9,312.2 250.5,312.5 251.2,314.1 251.9,315.6 252.6,315.8 253.3,316 254,316.1 254.6,315 255.1,313.6 255.7,313.7 256.4,313.7 257,313.8 257.6,313.8 258.3,313.8 259.1,315.2 260,316.4 260.7,316.4 261.4,316.3 262,316.2 262.3,314.8Z" fill="none" stroke="#000" stroke-width="1.9" stroke-linejoin="round"/><path d="M277.5,269.6 277.6,270.3 277.7,270.9 277.8,271.6 277.9,272.3 278,273 278,273.6 278.1,274.3 278.2,275.1 278.2,275.8 278.2,276.5 278.3,277.2 278.3,278 278.3,278.7 278.3,279.5 278.3,280.3 278.3,281.1 278.2,281.9 278.2,282.7 278.1,283.5 278.1,284.4 278,285.2 277.9,286.1 277.7,286.9 277.6,287.8 277.4,288.7 277.2,289.6 277,290.6 276.8,291.5 276.5,292.4 276.2,293.4 275.9,294.3 275.6,295.3 275.2,296.2 274.8,297.2 274.4,298.1 273.9,299 273.4,300 272.8,300.9 272.2,301.8 271.6,302.6 270.9,303.5 270.2,304.3 269.4,305.1 268.6,305.8 267.8,306.5 266.9,307.1 266,307.7 265.1,308.3 264.1,308.7 263.1,309.1 262,309.3 260.9,309.4 259.9,309.4 258.8,309.3 257.7,309.2 256.6,309 255.6,308.8 254.5,308.5 253.5,308.1 252.5,307.7 251.5,307.3 250.5,306.8 249.6,306.3 248.7,305.8 247.8,305.2 246.9,304.6 246.1,304 245.3,303.4 244.5,302.7 243.8,302.1 243.1,301.4 242.4,300.7 241.7,300 241.1,299.3 240.5,298.6 239.9,297.9 239.3,297.2 238.8,296.5 238.2,295.8 237.7,295.2 237.3,294.5 236.8,293.8 236.3,293.1 235.9,292.4 235.5,291.8 235.1,291.1 234.7,290.4 234.3,289.8 234,289.1 233.6,288.4 233.3,287.8 233,287.2 232.7,286.5 232.4,285.9 232.1,285.2 231.8,284.6 231.6,284 231.3,283.4 231.1,282.7 230.8,282.1 230.6,281.5 230.4,280.9 230.2,280.3 229.9,279.6 229.7,279 229.5,278.4 229.4,277.8 229.2,277.2 229,276.6 228.8,275.9 228.7,275.3 228.5,274.7 228.4,274.1 228.2,273.4 228.1,272.8 227.9,272.2 227.8,271.5 227.7,270.9 227.6,270.3 227.5,269.6 227.4,268.9 227.3,268.3 227.2,267.6 227.1,266.9 227,266.2 227,265.6 226.9,264.9 226.8,264.1 226.8,263.4 226.7,262.7 226.7,262 226.7,261.2 226.7,260.5 226.7,259.7 226.7,258.9 226.7,258.1 226.8,257.3 226.8,256.5 226.9,255.7 226.9,254.8 227,254 227.1,253.1 227.3,252.3 227.4,251.4 227.6,250.5 227.8,249.6 228,248.6 228.2,247.7 228.4,246.8 228.7,245.8 229,244.9 229.4,243.9 229.8,243 230.2,242 230.6,241.1 231.1,240.2 231.6,239.2 232.2,238.3 232.8,237.4 233.4,236.6 234.1,235.7 234.8,234.9 235.6,234.1 236.4,233.4 237.2,232.7 238.1,232.1 239,231.5 239.9,230.9 240.9,230.5 241.9,230.1 243,229.9 244,229.8 245.1,229.8 246.2,229.9 247.3,230 248.4,230.2 249.4,230.4 250.5,230.7 251.5,231.1 252.5,231.5 253.5,231.9 254.4,232.4 255.4,232.9 256.3,233.4 257.2,234 258,234.6 258.9,235.2 259.7,235.8 260.4,236.5 261.2,237.1 261.9,237.8 262.6,238.5 263.3,239.2 263.9,239.9 264.5,240.6 265.1,241.3 265.7,242 266.2,242.7 266.7,243.4 267.2,244 267.7,244.7 268.2,245.4 268.6,246.1 269.1,246.8 269.5,247.4 269.9,248.1 270.3,248.8 270.6,249.4 271,250.1 271.3,250.8 271.7,251.4 272,252 272.3,252.7 272.6,253.3 272.9,254 273.2,254.6 273.4,255.2 273.7,255.8 273.9,256.5 274.2,257.1 274.4,257.7 274.6,258.3 274.8,258.9 275,259.6 275.2,260.2 275.4,260.8 275.6,261.4 275.8,262 276,262.6 276.1,263.3 276.3,263.9 276.5,264.5 276.6,265.1 276.8,265.8 276.9,266.4 277,267 277.2,267.7 277.3,268.3 277.4,268.9Z" fill="none" stroke="#000" stroke-width="1.3"/><path d="M275.6,256.4 275,254.8 274.3,253.2 273.6,251.7 272.9,250.2 272.1,248.7 271.3,247.3 270.5,245.9 269.7,244.6 268.8,243.2 267.9,242 266.9,240.7 266,239.5 265,238.4 264,237.3 263,236.2 261.9,235.2 260.8,234.3 259.8,233.4 258.7,232.6 257.6,231.8 256.5,231.1 255.3,230.4 254.2,229.8 253.1,229.3 251.9,228.8 250.8,228.4 249.7,228.1 248.5,227.8 247.4,227.6 246.3,227.5 245.2,227.4 244.1,227.4 243,227.4 241.9,227.6 240.8,227.7 239.7,228 238.7,228.3 237.7,228.7 236.7,229.1 235.7,229.6 234.8,230.2 233.8,230.8 232.9,231.5 232,232.2 231.2,233.1 230.4,233.9 229.6,234.8 228.9,235.8 228.1,236.8 227.5,237.9 226.8,239 226.2,240.2 225.6,241.4 225.1,242.7 224.6,244 224.2,245.3 223.8,246.7 223.4,248.1 223.1,249.6 222.8,251.1" fill="none" stroke="#333" stroke-width="0.6"/><path d="M258.3,276.1 258.4,276.9 258.6,277.7 258.6,278.5 258.7,279.3 258.8,280.1 258.9,280.9 258.9,281.8 259,282.6 259,283.5 259,284.3 259,285.2 259,286.1 259,286.9 259,287.8 259,288.8 258.9,289.7 258.8,290.6 258.7,291.6 258.6,292.5 258.5,293.5 258.3,294.4 258.2,295.4 258,296.4 257.7,297.4 257.5,298.4 257.2,299.4 256.9,300.5 256.6,301.5 256.2,302.5 255.8,303.5 255.4,304.5 254.9,305.6 254.4,306.6 253.9,307.5 253.3,308.5 252.6,309.5 252,310.4 251.3,311.3 250.5,312.2 249.7,313 248.9,313.8 248,314.5 247.1,315.2 246.1,315.9 245.1,316.5 244.1,317 243,317.4 241.9,317.8 240.8,318.1 239.7,318.3 238.6,318.7 237.5,319 236.4,319.2 235.2,319.3 234.1,319.4 232.9,319.4 231.8,319.3 230.7,319.2 229.5,319 228.4,318.7 227.3,318.4 226.2,318 225.1,317.6 224.1,317.1 223.1,316.6 222.1,316.1 221.1,315.5 220.2,314.9 219.2,314.2 218.4,313.6 217.5,312.9 216.7,312.2 215.9,311.5 215.1,310.7 214.4,310 213.6,309.2 212.9,308.5 212.3,307.7 211.6,307 211,306.2 210.4,305.4 209.8,304.7 209.3,303.9 208.8,303.1 208.3,302.3 207.8,301.6 207.3,300.8 206.8,300.1 206.4,299.3 206,298.5 205.6,297.8 205.2,297 204.8,296.3 204.4,295.5 204.1,294.8 203.7,294 203.4,293.3 203.1,292.5 202.8,291.8 202.5,291.1 202.2,290.3 201.9,289.6 201.6,288.9 201.4,288.1 201.1,287.4 200.9,286.7 200.7,285.9 200.4,285.2 200.2,284.4 200,283.7 199.8,283 199.7,282.2 199.5,281.5 199.3,280.7 199.1,280 199,279.2 198.8,278.4 198.7,277.7 198.6,276.9 198.5,276.1 198.3,275.3 198.2,274.5 198.1,273.7 198.1,272.9 198,272.1 197.9,271.3 197.9,270.4 197.8,269.6 197.8,268.7 197.7,267.9 197.7,267 197.7,266.1 197.8,265.3 197.8,264.4 197.8,263.4 197.9,262.5 198,261.6 198.1,260.6 198.2,259.7 198.3,258.7 198.5,257.8 198.6,256.8 198.8,255.8 199,254.8 199.3,253.8 199.6,252.8 199.9,251.7 200.2,250.7 200.6,249.7 201,248.7 201.4,247.7 201.9,246.6 202.4,245.6 202.9,244.7 203.5,243.7 204.1,242.7 204.8,241.8 205.5,240.9 206.3,240 207.1,239.2 207.9,238.4 208.8,237.7 209.7,237 210.7,236.3 211.7,235.7 212.7,235.2 213.8,234.8 214.8,234.4 216,234.1 217.1,233.9 218.2,233.5 219.3,233.2 220.4,233 221.5,232.9 222.7,232.8 223.8,232.8 225,232.9 226.1,233 227.3,233.2 228.4,233.5 229.5,233.8 230.6,234.2 231.7,234.6 232.7,235.1 233.7,235.6 234.7,236.1 235.7,236.7 236.6,237.3 237.5,238 238.4,238.6 239.3,239.3 240.1,240 240.9,240.7 241.7,241.5 242.4,242.2 243.1,243 243.8,243.7 244.5,244.5 245.1,245.2 245.8,246 246.4,246.8 246.9,247.5 247.5,248.3 248,249.1 248.5,249.9 249,250.6 249.5,251.4 250,252.1 250.4,252.9 250.8,253.7 251.2,254.4 251.6,255.2 252,255.9 252.4,256.7 252.7,257.4 253.1,258.2 253.4,258.9 253.7,259.7 254,260.4 254.3,261.1 254.6,261.9 254.9,262.6 255.2,263.3 255.4,264.1 255.7,264.8 255.9,265.5 256.1,266.3 256.3,267 256.6,267.8 256.8,268.5 257,269.2 257.1,270 257.3,270.7 257.5,271.5 257.6,272.2 257.8,273 257.9,273.8 258.1,274.5 258.2,275.3Z M253.3,276.1 253.4,276.8 253.4,277.4 252.8,278 252.4,278.6 252.5,279.3 252.5,279.9 252.6,280.6 252.7,281.3 252.7,281.9 252.8,282.6 253.7,283.6 254,284.4 254.1,285.2 254.1,285.9 253.6,286.5 252.8,287 252.7,287.7 252.7,288.5 252.6,289.3 252.6,290.1 252.6,290.9 253.5,292.4 253.5,293.4 253.3,294.2 252.7,294.7 251.8,295.1 251.6,295.9 251.4,296.8 251.1,297.7 251.1,298.8 251.7,300.7 251.4,301.6 250.5,302 249.5,302.2 249.1,303.1 248.6,304 248.2,305 248.6,307.2 248,308.1 246.6,307.6 245.8,308.2 245.1,309 244.5,309.8 244.1,311.5 243.3,312 242.1,311.7 241.2,312.3 240.3,312.8 239.4,313.4 238.4,313.6 237.4,313.8 236.5,314.2 235.5,314.4 234.4,313.8 233.3,313.6 232.3,313.5 231.4,314 230.4,314.4 229.4,314.3 228.4,312.2 227.5,311.8 226.5,311.4 225.6,311.2 224.6,312.1 223.7,311.5 223.1,309.6 222.4,308.7 221.6,308.1 220.9,307.4 220.1,307 219,307.7 218.3,307 217.7,306.3 217.6,304.3 217,303.6 216.5,302.9 215.9,302.2 215.4,301.6 214.6,301.4 213.7,301.5 213.2,300.8 212.8,300.1 212.7,298.9 212.7,297.7 212.3,297 211.9,296.4 211.6,295.8 211.2,295.2 210.9,294.6 210.2,294.3 209.4,294.2 209,293.6 208.7,292.9 208.4,292.3 208.7,291.2 208.9,290.3 208.6,289.7 208.4,289.1 208.1,288.5 207.9,287.9 207.7,287.3 207.5,286.8 207,286.3 206.1,286 205.8,285.5 205.6,284.9 205.4,284.2 205.3,283.6 205.8,282.8 206,282.1 205.9,281.5 205.7,280.9 205.6,280.3 205.4,279.7 205.3,279.1 205.2,278.5 205,277.9 203.9,277.4 203.6,276.7 203.5,276.1 203.4,275.4 203.4,274.8 204,274.2 204.4,273.6 204.3,272.9 204.2,272.3 204.2,271.6 204.1,270.9 204.1,270.3 204,269.6 203.1,268.6 202.7,267.8 202.7,267 202.7,266.3 203.2,265.7 204,265.2 204,264.5 204.1,263.7 204.1,262.9 204.2,262.1 204.2,261.3 203.3,259.8 203.3,258.8 203.4,258 204.1,257.5 205,257.1 205.2,256.3 205.4,255.4 205.6,254.5 205.7,253.4 205.1,251.5 205.4,250.6 206.3,250.2 207.3,250 207.7,249.1 208.1,248.2 208.5,247.2 208.2,245 208.8,244.1 210.2,244.6 211,244 211.6,243.2 212.3,242.4 212.6,240.7 213.5,240.2 214.7,240.5 215.6,239.9 216.5,239.4 217.3,238.8 218.3,238.6 219.3,238.4 220.3,238 221.3,237.8 222.4,238.4 223.5,238.6 224.5,238.7 225.4,238.2 226.4,237.8 227.4,237.9 228.4,240 229.3,240.4 230.2,240.8 231.2,241 232.2,240.1 233.1,240.7 233.7,242.6 234.4,243.5 235.2,244.1 235.9,244.8 236.7,245.2 237.7,244.5 238.4,245.2 239.1,245.9 239.2,247.9 239.8,248.6 240.3,249.3 240.9,250 241.4,250.6 242.1,250.8 243.1,250.7 243.6,251.4 244,252.1 244.1,253.3 244.1,254.5 244.5,255.2 244.8,255.8 245.2,256.4 245.6,257 245.9,257.6 246.6,257.9 247.4,258.1 247.8,258.6 248.1,259.3 248.3,259.9 248.1,261 247.9,261.9 248.2,262.5 248.4,263.1 248.7,263.7 248.9,264.3 249.1,264.9 249.3,265.4 249.8,265.9 250.7,266.2 251,266.7 251.2,267.3 251.4,268 251.5,268.6 251,269.4 250.8,270.1 250.9,270.7 251.1,271.3 251.2,271.9 251.3,272.5 251.5,273.1 251.6,273.7 251.8,274.3 252.8,274.8 253.2,275.5Z" fill="#fff" fill-rule="evenodd" stroke="none"/><path d="M258.3,276.1 258.4,276.9 258.6,277.7 258.6,278.5 258.7,279.3 258.8,280.1 258.9,280.9 258.9,281.8 259,282.6 259,283.5 259,284.3 259,285.2 259,286.1 259,286.9 259,287.8 259,288.8 258.9,289.7 258.8,290.6 258.7,291.6 258.6,292.5 258.5,293.5 258.3,294.4 258.2,295.4 258,296.4 257.7,297.4 257.5,298.4 257.2,299.4 256.9,300.5 256.6,301.5 256.2,302.5 255.8,303.5 255.4,304.5 254.9,305.6 254.4,306.6 253.9,307.5 253.3,308.5 252.6,309.5 252,310.4 251.3,311.3 250.5,312.2 249.7,313 248.9,313.8 248,314.5 247.1,315.2 246.1,315.9 245.1,316.5 244.1,317 243,317.4 241.9,317.8 240.8,318.1 239.7,318.3 238.6,318.7 237.5,319 236.4,319.2 235.2,319.3 234.1,319.4 232.9,319.4 231.8,319.3 230.7,319.2 229.5,319 228.4,318.7 227.3,318.4 226.2,318 225.1,317.6 224.1,317.1 223.1,316.6 222.1,316.1 221.1,315.5 220.2,314.9 219.2,314.2 218.4,313.6 217.5,312.9 216.7,312.2 215.9,311.5 215.1,310.7 214.4,310 213.6,309.2 212.9,308.5 212.3,307.7 211.6,307 211,306.2 210.4,305.4 209.8,304.7 209.3,303.9 208.8,303.1 208.3,302.3 207.8,301.6 207.3,300.8 206.8,300.1 206.4,299.3 206,298.5 205.6,297.8 205.2,297 204.8,296.3 204.4,295.5 204.1,294.8 203.7,294 203.4,293.3 203.1,292.5 202.8,291.8 202.5,291.1 202.2,290.3 201.9,289.6 201.6,288.9 201.4,288.1 201.1,287.4 200.9,286.7 200.7,285.9 200.4,285.2 200.2,284.4 200,283.7 199.8,283 199.7,282.2 199.5,281.5 199.3,280.7 199.1,280 199,279.2 198.8,278.4 198.7,277.7 198.6,276.9 198.5,276.1 198.3,275.3 198.2,274.5 198.1,273.7 198.1,272.9 198,272.1 197.9,271.3 197.9,270.4 197.8,269.6 197.8,268.7 197.7,267.9 197.7,267 197.7,266.1 197.8,265.3 197.8,264.4 197.8,263.4 197.9,262.5 198,261.6 198.1,260.6 198.2,259.7 198.3,258.7 198.5,257.8 198.6,256.8 198.8,255.8 199,254.8 199.3,253.8 199.6,252.8 199.9,251.7 200.2,250.7 200.6,249.7 201,248.7 201.4,247.7 201.9,246.6 202.4,245.6 202.9,244.7 203.5,243.7 204.1,242.7 204.8,241.8 205.5,240.9 206.3,240 207.1,239.2 207.9,238.4 208.8,237.7 209.7,237 210.7,236.3 211.7,235.7 212.7,235.2 213.8,234.8 214.8,234.4 216,234.1 217.1,233.9 218.2,233.5 219.3,233.2 220.4,233 221.5,232.9 222.7,232.8 223.8,232.8 225,232.9 226.1,233 227.3,233.2 228.4,233.5 229.5,233.8 230.6,234.2 231.7,234.6 232.7,235.1 233.7,235.6 234.7,236.1 235.7,236.7 236.6,237.3 237.5,238 238.4,238.6 239.3,239.3 240.1,240 240.9,240.7 241.7,241.5 242.4,242.2 243.1,243 243.8,243.7 244.5,244.5 245.1,245.2 245.8,246 246.4,246.8 246.9,247.5 247.5,248.3 248,249.1 248.5,249.9 249,250.6 249.5,251.4 250,252.1 250.4,252.9 250.8,253.7 251.2,254.4 251.6,255.2 252,255.9 252.4,256.7 252.7,257.4 253.1,258.2 253.4,258.9 253.7,259.7 254,260.4 254.3,261.1 254.6,261.9 254.9,262.6 255.2,263.3 255.4,264.1 255.7,264.8 255.9,265.5 256.1,266.3 256.3,267 256.6,267.8 256.8,268.5 257,269.2 257.1,270 257.3,270.7 257.5,271.5 257.6,272.2 257.8,273 257.9,273.8 258.1,274.5 258.2,275.3Z" fill="none" stroke="#000" stroke-width="2.0"/><path d="M253.3,276.1 253.4,276.8 253.4,277.4 252.8,278 252.4,278.6 252.5,279.3 252.5,279.9 252.6,280.6 252.7,281.3 252.7,281.9 252.8,282.6 253.7,283.6 254,284.4 254.1,285.2 254.1,285.9 253.6,286.5 252.8,287 252.7,287.7 252.7,288.5 252.6,289.3 252.6,290.1 252.6,290.9 253.5,292.4 253.5,293.4 253.3,294.2 252.7,294.7 251.8,295.1 251.6,295.9 251.4,296.8 251.1,297.7 251.1,298.8 251.7,300.7 251.4,301.6 250.5,302 249.5,302.2 249.1,303.1 248.6,304 248.2,305 248.6,307.2 248,308.1 246.6,307.6 245.8,308.2 245.1,309 244.5,309.8 244.1,311.5 243.3,312 242.1,311.7 241.2,312.3 240.3,312.8 239.4,313.4 238.4,313.6 237.4,313.8 236.5,314.2 235.5,314.4 234.4,313.8 233.3,313.6 232.3,313.5 231.4,314 230.4,314.4 229.4,314.3 228.4,312.2 227.5,311.8 226.5,311.4 225.6,311.2 224.6,312.1 223.7,311.5 223.1,309.6 222.4,308.7 221.6,308.1 220.9,307.4 220.1,307 219,307.7 218.3,307 217.7,306.3 217.6,304.3 217,303.6 216.5,302.9 215.9,302.2 215.4,301.6 214.6,301.4 213.7,301.5 213.2,300.8 212.8,300.1 212.7,298.9 212.7,297.7 212.3,297 211.9,296.4 211.6,295.8 211.2,295.2 210.9,294.6 210.2,294.3 209.4,294.2 209,293.6 208.7,292.9 208.4,292.3 208.7,291.2 208.9,290.3 208.6,289.7 208.4,289.1 208.1,288.5 207.9,287.9 207.7,287.3 207.5,286.8 207,286.3 206.1,286 205.8,285.5 205.6,284.9 205.4,284.2 205.3,283.6 205.8,282.8 206,282.1 205.9,281.5 205.7,280.9 205.6,280.3 205.4,279.7 205.3,279.1 205.2,278.5 205,277.9 203.9,277.4 203.6,276.7 203.5,276.1 203.4,275.4 203.4,274.8 204,274.2 204.4,273.6 204.3,272.9 204.2,272.3 204.2,271.6 204.1,270.9 204.1,270.3 204,269.6 203.1,268.6 202.7,267.8 202.7,267 202.7,266.3 203.2,265.7 204,265.2 204,264.5 204.1,263.7 204.1,262.9 204.2,262.1 204.2,261.3 203.3,259.8 203.3,258.8 203.4,258 204.1,257.5 205,257.1 205.2,256.3 205.4,255.4 205.6,254.5 205.7,253.4 205.1,251.5 205.4,250.6 206.3,250.2 207.3,250 207.7,249.1 208.1,248.2 208.5,247.2 208.2,245 208.8,244.1 210.2,244.6 211,244 211.6,243.2 212.3,242.4 212.6,240.7 213.5,240.2 214.7,240.5 215.6,239.9 216.5,239.4 217.3,238.8 218.3,238.6 219.3,238.4 220.3,238 221.3,237.8 222.4,238.4 223.5,238.6 224.5,238.7 225.4,238.2 226.4,237.8 227.4,237.9 228.4,240 229.3,240.4 230.2,240.8 231.2,241 232.2,240.1 233.1,240.7 233.7,242.6 234.4,243.5 235.2,244.1 235.9,244.8 236.7,245.2 237.7,244.5 238.4,245.2 239.1,245.9 239.2,247.9 239.8,248.6 240.3,249.3 240.9,250 241.4,250.6 242.1,250.8 243.1,250.7 243.6,251.4 244,252.1 244.1,253.3 244.1,254.5 244.5,255.2 244.8,255.8 245.2,256.4 245.6,257 245.9,257.6 246.6,257.9 247.4,258.1 247.8,258.6 248.1,259.3 248.3,259.9 248.1,261 247.9,261.9 248.2,262.5 248.4,263.1 248.7,263.7 248.9,264.3 249.1,264.9 249.3,265.4 249.8,265.9 250.7,266.2 251,266.7 251.2,267.3 251.4,268 251.5,268.6 251,269.4 250.8,270.1 250.9,270.7 251.1,271.3 251.2,271.9 251.3,272.5 251.5,273.1 251.6,273.7 251.8,274.3 252.8,274.8 253.2,275.5Z" fill="none" stroke="#000" stroke-width="0.95" stroke-linejoin="round"/><path d="M246,314.5 246.6,314 247.1,313.4 247.7,312.8 248.2,312.2 248.7,311.6 249.2,310.9 249.7,310.2 250.2,309.5 250.6,308.8 251,308.1 251.5,307.3 251.9,306.5 252.2,305.7 252.6,304.8 253,304 253.3,303.1 253.6,302.2 253.9,301.3 254.2,300.4 254.5,299.5 254.7,298.5 254.9,297.5 255.1,296.5 255.3,295.5 255.5,294.5 255.6,293.5 255.7,292.5 255.8,291.4 255.9,290.4 256,289.3 256,288.2 256.1,287.1 256.1,286 256,284.9 256,283.8 256,282.7 255.9,281.6 255.8,280.5 255.7,279.4 255.5,278.3 255.4,277.1 255.2,276 255,274.9 254.8,273.8 254.6,272.6 254.3,271.5 254.1,270.4 253.8,269.3 253.5,268.2 253.1,267.1 252.8,266 252.4,264.9 252.1,263.8 251.7,262.8 251.2,261.7 250.8,260.7 250.4,259.6 249.9,258.6 249.4,257.6 248.9,256.6 248.4,255.6 247.9,254.6 247.4,253.7 246.8,252.7 246.3,251.8 245.7,250.9 245.1,250 244.5,249.1 243.9,248.3 243.3,247.4 242.6,246.6 242,245.8 241.3,245 240.6,244.3 240,243.5 239.3,242.8 238.6,242.2 237.9,241.5 237.2,240.9 236.5,240.2 235.7,239.7 235,239.1 234.3,238.6 233.5,238 232.8,237.6 232,237.1 231.3,236.7 230.5,236.3 229.8,235.9 229,235.5 228.2,235.2 227.5,234.9 226.7,234.7 225.9,234.4 225.2,234.2 224.4,234" fill="none" stroke="#222" stroke-width="0.6"/><path d="M215.1,328.9 215.7,328.6 215.7,326.2 216.1,325.6 216.7,325.4 217.3,325.1 217.8,324.8 218.4,324.6 219,324.3 220.4,326.2 221.1,326.1 221.7,325.7 222.2,325.3 222.7,324.8 222.2,322.3 222.6,321.5 223,321.1 223.5,320.6 224,320.1 224.4,319.6 224.9,319.1 226.5,320.4 227.2,320.1 227.6,319.5 228,318.8 228.4,318.1 227.5,315.7 227.7,314.8 228,314.2 228.3,313.5 228.7,312.8 229,312.1 229.3,311.4 231.1,312.1 231.5,311.6 231.8,310.7 232.1,309.9 232.3,309.1 231.1,307 231,305.9 231.2,305.1 231.4,304.3 231.6,303.5 231.8,302.6 231.9,301.8 233.6,301.9 234,301.1 234.1,300.1 234.2,299.2 234.2,298.2 232.7,296.5 232.5,295.5 232.5,294.6 232.6,293.7 232.6,292.7 232.5,291.8 232.6,290.9 234.1,290.3 234.3,289.4 234.2,288.3 234.1,287.3 234,286.3 232.3,285.2 231.9,284.2 231.8,283.3 231.7,282.3 231.5,281.4 231.3,280.4 231.1,279.4 232.5,278.2 232.4,277.2 232.2,276.2 231.9,275.2 231.6,274.2 229.9,273.7 229.4,272.8 229.1,271.9 228.8,271 228.5,270.1 228.1,269.2 227.8,268.3 228.8,266.5 228.6,265.4 228.2,264.5 227.8,263.6 227.3,262.7 225.7,262.8 225,262.2 224.6,261.3 224.2,260.5 223.7,259.7 223.2,258.9 222.8,258.1 223.3,255.9 223,254.9 222.4,254.1 221.9,253.3 221.3,252.6 219.8,253.4 219.2,252.9 218.6,252.2 218.1,251.5 217.5,250.9 216.9,250.2 216.4,249.6 216.5,247.1 216,246.2 215.3,245.6 214.7,245 214.1,244.5 212.9,245.9 212.2,245.7 211.6,245.2 210.9,244.7 210.3,244.3 209.7,243.8 209.1,243.4 208.7,240.8 208.1,240.1 207.4,239.7 206.7,239.4 206,239.1 205.2,241 204.6,241 203.9,240.8 203.3,240.5 202.6,240.3 202,240.1 201.3,239.9 200.5,237.4 199.8,236.9 199.2,236.8 198.5,236.7 197.8,236.6 197.4,238.9 196.8,239.2 196.2,239.2 195.5,239.2 194.9,239.2 194.3,239.3 193.7,239.3 192.5,237 191.8,236.8 191.1,237 190.5,237.1 189.9,237.4 189.9,239.8 189.5,240.4 188.9,240.6 188.3,240.9 187.8,241.2 187.2,241.4 186.6,241.7 185.2,239.8 184.5,239.9 183.9,240.3 183.4,240.7 182.9,241.2 183.4,243.7 183,244.5 182.6,244.9 182.1,245.4 181.6,245.9 181.2,246.4 180.7,246.9 179.1,245.6 178.4,245.9 178,246.5 177.6,247.2 177.2,247.9 178.1,250.3 177.9,251.2 177.6,251.8 177.3,252.5 176.9,253.2 176.6,253.9 176.3,254.6 174.5,253.9 174.1,254.4 173.8,255.3 173.5,256.1 173.3,256.9 174.5,259 174.6,260.1 174.4,260.9 174.2,261.7 174,262.5 173.8,263.4 173.7,264.2 172,264.1 171.6,264.9 171.5,265.9 171.4,266.8 171.4,267.8 172.9,269.5 173.1,270.5 173.1,271.4 173,272.3 173,273.3 173.1,274.2 173,275.1 171.5,275.7 171.3,276.6 171.4,277.7 171.5,278.7 171.6,279.7 173.3,280.8 173.7,281.8 173.8,282.7 173.9,283.7 174.1,284.6 174.3,285.6 174.5,286.6 173.1,287.8 173.2,288.8 173.4,289.8 173.7,290.8 174,291.8 175.7,292.3 176.2,293.2 176.5,294.1 176.8,295 177.1,295.9 177.5,296.8 177.8,297.7 176.8,299.5 177,300.6 177.4,301.5 177.8,302.4 178.3,303.3 179.9,303.2 180.6,303.8 181,304.7 181.4,305.5 181.9,306.3 182.4,307.1 182.8,307.9 182.3,310.1 182.6,311.1 183.2,311.9 183.7,312.7 184.3,313.4 185.8,312.6 186.4,313.1 187,313.8 187.5,314.5 188.1,315.1 188.7,315.8 189.2,316.4 189.1,318.9 189.6,319.8 190.3,320.4 190.9,321 191.5,321.5 192.7,320.1 193.4,320.3 194,320.8 194.7,321.3 195.3,321.7 195.9,322.2 196.5,322.6 196.9,325.2 197.5,325.9 198.2,326.3 198.9,326.6 199.6,326.9 200.4,325 201,325 201.7,325.2 202.3,325.5 203,325.7 203.6,325.9 204.3,326.1 205.1,328.6 205.8,329.1 206.4,329.2 207.1,329.3 207.8,329.4 208.2,327.1 208.8,326.8 209.4,326.8 210.1,326.8 210.7,326.8 211.3,326.7 211.9,326.7 213.1,329 213.8,329.2 214.5,329Z M229.3,282.6 229.4,283.3 229.5,283.9 229.6,284.6 229.7,285.3 229.8,286 229.8,286.6 229.9,287.3 230,288.1 230,288.8 230,289.5 230.1,290.2 230.1,291 230.1,291.7 230.1,292.5 230.1,293.3 230.1,294.1 230,294.9 230,295.7 229.9,296.5 229.9,297.4 229.8,298.2 229.7,299.1 229.5,299.9 229.4,300.8 229.2,301.7 229,302.6 228.8,303.6 228.6,304.5 228.3,305.4 228,306.4 227.7,307.3 227.4,308.3 227,309.2 226.6,310.2 226.2,311.1 225.7,312 225.2,313 224.6,313.9 224,314.8 223.4,315.6 222.7,316.5 222,317.3 221.2,318.1 220.4,318.8 219.6,319.5 218.7,320.1 217.8,320.7 216.9,321.3 215.9,321.7 214.9,322.1 213.8,322.3 212.7,322.4 211.7,322.4 210.6,322.3 209.5,322.2 208.4,322 207.4,321.8 206.3,321.5 205.3,321.1 204.3,320.7 203.3,320.3 202.3,319.8 201.4,319.3 200.5,318.8 199.6,318.2 198.7,317.6 197.9,317 197.1,316.4 196.3,315.7 195.6,315.1 194.9,314.4 194.2,313.7 193.5,313 192.9,312.3 192.3,311.6 191.7,310.9 191.1,310.2 190.6,309.5 190,308.8 189.5,308.2 189.1,307.5 188.6,306.8 188.1,306.1 187.7,305.4 187.3,304.8 186.9,304.1 186.5,303.4 186.1,302.8 185.8,302.1 185.4,301.4 185.1,300.8 184.8,300.2 184.5,299.5 184.2,298.9 183.9,298.2 183.6,297.6 183.4,297 183.1,296.4 182.9,295.7 182.6,295.1 182.4,294.5 182.2,293.9 182,293.3 181.7,292.6 181.5,292 181.3,291.4 181.2,290.8 181,290.2 180.8,289.6 180.6,288.9 180.5,288.3 180.3,287.7 180.2,287.1 180,286.4 179.9,285.8 179.7,285.2 179.6,284.5 179.5,283.9 179.4,283.3 179.3,282.6 179.2,281.9 179.1,281.3 179,280.6 178.9,279.9 178.8,279.2 178.8,278.6 178.7,277.9 178.6,277.1 178.6,276.4 178.5,275.7 178.5,275 178.5,274.2 178.5,273.5 178.5,272.7 178.5,271.9 178.5,271.1 178.6,270.3 178.6,269.5 178.7,268.7 178.7,267.8 178.8,267 178.9,266.1 179.1,265.3 179.2,264.4 179.4,263.5 179.6,262.6 179.8,261.6 180,260.7 180.2,259.8 180.5,258.8 180.8,257.9 181.2,256.9 181.6,256 182,255 182.4,254.1 182.9,253.2 183.4,252.2 184,251.3 184.6,250.4 185.2,249.6 185.9,248.7 186.6,247.9 187.4,247.1 188.2,246.4 189,245.7 189.9,245.1 190.8,244.5 191.7,243.9 192.7,243.5 193.7,243.1 194.8,242.9 195.8,242.8 196.9,242.8 198,242.9 199.1,243 200.2,243.2 201.2,243.4 202.3,243.7 203.3,244.1 204.3,244.5 205.3,244.9 206.2,245.4 207.2,245.9 208.1,246.4 209,247 209.8,247.6 210.7,248.2 211.5,248.8 212.2,249.5 213,250.1 213.7,250.8 214.4,251.5 215.1,252.2 215.7,252.9 216.3,253.6 216.9,254.3 217.5,255 218,255.7 218.5,256.4 219,257 219.5,257.7 220,258.4 220.4,259.1 220.9,259.8 221.3,260.4 221.7,261.1 222.1,261.8 222.4,262.4 222.8,263.1 223.1,263.8 223.5,264.4 223.8,265 224.1,265.7 224.4,266.3 224.7,267 225,267.6 225.2,268.2 225.5,268.8 225.7,269.5 226,270.1 226.2,270.7 226.4,271.3 226.6,271.9 226.8,272.6 227,273.2 227.2,273.8 227.4,274.4 227.6,275 227.8,275.6 227.9,276.3 228.1,276.9 228.3,277.5 228.4,278.1 228.6,278.8 228.7,279.4 228.8,280 229,280.7 229.1,281.3 229.2,281.9Z" fill="#fff" fill-rule="evenodd" stroke="none"/><path d="M215.1,328.9 215.7,328.6 215.7,326.2 216.1,325.6 216.7,325.4 217.3,325.1 217.8,324.8 218.4,324.6 219,324.3 220.4,326.2 221.1,326.1 221.7,325.7 222.2,325.3 222.7,324.8 222.2,322.3 222.6,321.5 223,321.1 223.5,320.6 224,320.1 224.4,319.6 224.9,319.1 226.5,320.4 227.2,320.1 227.6,319.5 228,318.8 228.4,318.1 227.5,315.7 227.7,314.8 228,314.2 228.3,313.5 228.7,312.8 229,312.1 229.3,311.4 231.1,312.1 231.5,311.6 231.8,310.7 232.1,309.9 232.3,309.1 231.1,307 231,305.9 231.2,305.1 231.4,304.3 231.6,303.5 231.8,302.6 231.9,301.8 233.6,301.9 234,301.1 234.1,300.1 234.2,299.2 234.2,298.2 232.7,296.5 232.5,295.5 232.5,294.6 232.6,293.7 232.6,292.7 232.5,291.8 232.6,290.9 234.1,290.3 234.3,289.4 234.2,288.3 234.1,287.3 234,286.3 232.3,285.2 231.9,284.2 231.8,283.3 231.7,282.3 231.5,281.4 231.3,280.4 231.1,279.4 232.5,278.2 232.4,277.2 232.2,276.2 231.9,275.2 231.6,274.2 229.9,273.7 229.4,272.8 229.1,271.9 228.8,271 228.5,270.1 228.1,269.2 227.8,268.3 228.8,266.5 228.6,265.4 228.2,264.5 227.8,263.6 227.3,262.7 225.7,262.8 225,262.2 224.6,261.3 224.2,260.5 223.7,259.7 223.2,258.9 222.8,258.1 223.3,255.9 223,254.9 222.4,254.1 221.9,253.3 221.3,252.6 219.8,253.4 219.2,252.9 218.6,252.2 218.1,251.5 217.5,250.9 216.9,250.2 216.4,249.6 216.5,247.1 216,246.2 215.3,245.6 214.7,245 214.1,244.5 212.9,245.9 212.2,245.7 211.6,245.2 210.9,244.7 210.3,244.3 209.7,243.8 209.1,243.4 208.7,240.8 208.1,240.1 207.4,239.7 206.7,239.4 206,239.1 205.2,241 204.6,241 203.9,240.8 203.3,240.5 202.6,240.3 202,240.1 201.3,239.9 200.5,237.4 199.8,236.9 199.2,236.8 198.5,236.7 197.8,236.6 197.4,238.9 196.8,239.2 196.2,239.2 195.5,239.2 194.9,239.2 194.3,239.3 193.7,239.3 192.5,237 191.8,236.8 191.1,237 190.5,237.1 189.9,237.4 189.9,239.8 189.5,240.4 188.9,240.6 188.3,240.9 187.8,241.2 187.2,241.4 186.6,241.7 185.2,239.8 184.5,239.9 183.9,240.3 183.4,240.7 182.9,241.2 183.4,243.7 183,244.5 182.6,244.9 182.1,245.4 181.6,245.9 181.2,246.4 180.7,246.9 179.1,245.6 178.4,245.9 178,246.5 177.6,247.2 177.2,247.9 178.1,250.3 177.9,251.2 177.6,251.8 177.3,252.5 176.9,253.2 176.6,253.9 176.3,254.6 174.5,253.9 174.1,254.4 173.8,255.3 173.5,256.1 173.3,256.9 174.5,259 174.6,260.1 174.4,260.9 174.2,261.7 174,262.5 173.8,263.4 173.7,264.2 172,264.1 171.6,264.9 171.5,265.9 171.4,266.8 171.4,267.8 172.9,269.5 173.1,270.5 173.1,271.4 173,272.3 173,273.3 173.1,274.2 173,275.1 171.5,275.7 171.3,276.6 171.4,277.7 171.5,278.7 171.6,279.7 173.3,280.8 173.7,281.8 173.8,282.7 173.9,283.7 174.1,284.6 174.3,285.6 174.5,286.6 173.1,287.8 173.2,288.8 173.4,289.8 173.7,290.8 174,291.8 175.7,292.3 176.2,293.2 176.5,294.1 176.8,295 177.1,295.9 177.5,296.8 177.8,297.7 176.8,299.5 177,300.6 177.4,301.5 177.8,302.4 178.3,303.3 179.9,303.2 180.6,303.8 181,304.7 181.4,305.5 181.9,306.3 182.4,307.1 182.8,307.9 182.3,310.1 182.6,311.1 183.2,311.9 183.7,312.7 184.3,313.4 185.8,312.6 186.4,313.1 187,313.8 187.5,314.5 188.1,315.1 188.7,315.8 189.2,316.4 189.1,318.9 189.6,319.8 190.3,320.4 190.9,321 191.5,321.5 192.7,320.1 193.4,320.3 194,320.8 194.7,321.3 195.3,321.7 195.9,322.2 196.5,322.6 196.9,325.2 197.5,325.9 198.2,326.3 198.9,326.6 199.6,326.9 200.4,325 201,325 201.7,325.2 202.3,325.5 203,325.7 203.6,325.9 204.3,326.1 205.1,328.6 205.8,329.1 206.4,329.2 207.1,329.3 207.8,329.4 208.2,327.1 208.8,326.8 209.4,326.8 210.1,326.8 210.7,326.8 211.3,326.7 211.9,326.7 213.1,329 213.8,329.2 214.5,329Z" fill="none" stroke="#000" stroke-width="1.9" stroke-linejoin="round"/><path d="M229.3,282.6 229.4,283.3 229.5,283.9 229.6,284.6 229.7,285.3 229.8,286 229.8,286.6 229.9,287.3 230,288.1 230,288.8 230,289.5 230.1,290.2 230.1,291 230.1,291.7 230.1,292.5 230.1,293.3 230.1,294.1 230,294.9 230,295.7 229.9,296.5 229.9,297.4 229.8,298.2 229.7,299.1 229.5,299.9 229.4,300.8 229.2,301.7 229,302.6 228.8,303.6 228.6,304.5 228.3,305.4 228,306.4 227.7,307.3 227.4,308.3 227,309.2 226.6,310.2 226.2,311.1 225.7,312 225.2,313 224.6,313.9 224,314.8 223.4,315.6 222.7,316.5 222,317.3 221.2,318.1 220.4,318.8 219.6,319.5 218.7,320.1 217.8,320.7 216.9,321.3 215.9,321.7 214.9,322.1 213.8,322.3 212.7,322.4 211.7,322.4 210.6,322.3 209.5,322.2 208.4,322 207.4,321.8 206.3,321.5 205.3,321.1 204.3,320.7 203.3,320.3 202.3,319.8 201.4,319.3 200.5,318.8 199.6,318.2 198.7,317.6 197.9,317 197.1,316.4 196.3,315.7 195.6,315.1 194.9,314.4 194.2,313.7 193.5,313 192.9,312.3 192.3,311.6 191.7,310.9 191.1,310.2 190.6,309.5 190,308.8 189.5,308.2 189.1,307.5 188.6,306.8 188.1,306.1 187.7,305.4 187.3,304.8 186.9,304.1 186.5,303.4 186.1,302.8 185.8,302.1 185.4,301.4 185.1,300.8 184.8,300.2 184.5,299.5 184.2,298.9 183.9,298.2 183.6,297.6 183.4,297 183.1,296.4 182.9,295.7 182.6,295.1 182.4,294.5 182.2,293.9 182,293.3 181.7,292.6 181.5,292 181.3,291.4 181.2,290.8 181,290.2 180.8,289.6 180.6,288.9 180.5,288.3 180.3,287.7 180.2,287.1 180,286.4 179.9,285.8 179.7,285.2 179.6,284.5 179.5,283.9 179.4,283.3 179.3,282.6 179.2,281.9 179.1,281.3 179,280.6 178.9,279.9 178.8,279.2 178.8,278.6 178.7,277.9 178.6,277.1 178.6,276.4 178.5,275.7 178.5,275 178.5,274.2 178.5,273.5 178.5,272.7 178.5,271.9 178.5,271.1 178.6,270.3 178.6,269.5 178.7,268.7 178.7,267.8 178.8,267 178.9,266.1 179.1,265.3 179.2,264.4 179.4,263.5 179.6,262.6 179.8,261.6 180,260.7 180.2,259.8 180.5,258.8 180.8,257.9 181.2,256.9 181.6,256 182,255 182.4,254.1 182.9,253.2 183.4,252.2 184,251.3 184.6,250.4 185.2,249.6 185.9,248.7 186.6,247.9 187.4,247.1 188.2,246.4 189,245.7 189.9,245.1 190.8,244.5 191.7,243.9 192.7,243.5 193.7,243.1 194.8,242.9 195.8,242.8 196.9,242.8 198,242.9 199.1,243 200.2,243.2 201.2,243.4 202.3,243.7 203.3,244.1 204.3,244.5 205.3,244.9 206.2,245.4 207.2,245.9 208.1,246.4 209,247 209.8,247.6 210.7,248.2 211.5,248.8 212.2,249.5 213,250.1 213.7,250.8 214.4,251.5 215.1,252.2 215.7,252.9 216.3,253.6 216.9,254.3 217.5,255 218,255.7 218.5,256.4 219,257 219.5,257.7 220,258.4 220.4,259.1 220.9,259.8 221.3,260.4 221.7,261.1 222.1,261.8 222.4,262.4 222.8,263.1 223.1,263.8 223.5,264.4 223.8,265 224.1,265.7 224.4,266.3 224.7,267 225,267.6 225.2,268.2 225.5,268.8 225.7,269.5 226,270.1 226.2,270.7 226.4,271.3 226.6,271.9 226.8,272.6 227,273.2 227.2,273.8 227.4,274.4 227.6,275 227.8,275.6 227.9,276.3 228.1,276.9 228.3,277.5 228.4,278.1 228.6,278.8 228.7,279.4 228.8,280 229,280.7 229.1,281.3 229.2,281.9Z" fill="none" stroke="#000" stroke-width="1.3"/><path d="M227.4,269.4 226.8,267.8 226.1,266.2 225.4,264.7 224.7,263.2 223.9,261.7 223.1,260.3 222.3,258.9 221.5,257.6 220.6,256.2 219.7,255 218.7,253.7 217.8,252.5 216.8,251.4 215.8,250.3 214.8,249.2 213.7,248.2 212.6,247.3 211.6,246.4 210.5,245.6 209.4,244.8 208.3,244.1 207.1,243.4 206,242.8 204.9,242.3 203.7,241.8 202.6,241.4 201.5,241.1 200.3,240.8 199.2,240.6 198.1,240.5 197,240.4 195.9,240.4 194.8,240.4 193.7,240.6 192.6,240.7 191.5,241 190.5,241.3 189.5,241.7 188.5,242.1 187.5,242.6 186.6,243.2 185.6,243.8 184.7,244.5 183.8,245.2 183,246.1 182.2,246.9 181.4,247.8 180.7,248.8 179.9,249.8 179.3,250.9 178.6,252 178,253.2 177.4,254.4 176.9,255.7 176.4,257 176,258.3 175.6,259.7 175.2,261.1 174.9,262.6 174.6,264.1" fill="none" stroke="#333" stroke-width="0.6"/><path d="M210.1,289.1 210.2,289.9 210.4,290.7 210.4,291.5 210.5,292.3 210.6,293.1 210.7,293.9 210.7,294.8 210.8,295.6 210.8,296.5 210.8,297.3 210.8,298.2 210.8,299.1 210.8,299.9 210.8,300.8 210.8,301.8 210.7,302.7 210.6,303.6 210.5,304.6 210.4,305.5 210.3,306.5 210.1,307.4 210,308.4 209.8,309.4 209.5,310.4 209.3,311.4 209,312.4 208.7,313.5 208.4,314.5 208,315.5 207.6,316.5 207.2,317.5 206.7,318.6 206.2,319.6 205.7,320.5 205.1,321.5 204.4,322.5 203.8,323.4 203.1,324.3 202.3,325.2 201.5,326 200.7,326.8 199.8,327.5 198.9,328.2 197.9,328.9 196.9,329.5 195.9,330 194.8,330.4 193.7,330.8 192.6,331.1 191.5,331.3 190.4,331.7 189.3,332 188.2,332.2 187,332.3 185.9,332.4 184.7,332.4 183.6,332.3 182.5,332.2 181.3,332 180.2,331.7 179.1,331.4 178,331 176.9,330.6 175.9,330.1 174.9,329.6 173.9,329.1 172.9,328.5 172,327.9 171,327.2 170.2,326.6 169.3,325.9 168.5,325.2 167.7,324.5 166.9,323.7 166.2,323 165.4,322.2 164.7,321.5 164.1,320.7 163.4,320 162.8,319.2 162.2,318.4 161.6,317.7 161.1,316.9 160.6,316.1 160.1,315.3 159.6,314.6 159.1,313.8 158.6,313.1 158.2,312.3 157.8,311.5 157.4,310.8 157,310 156.6,309.3 156.2,308.5 155.9,307.8 155.5,307 155.2,306.3 154.9,305.5 154.6,304.8 154.3,304.1 154,303.3 153.7,302.6 153.4,301.9 153.2,301.1 152.9,300.4 152.7,299.7 152.5,298.9 152.2,298.2 152,297.4 151.8,296.7 151.6,296 151.5,295.2 151.3,294.5 151.1,293.7 150.9,293 150.8,292.2 150.6,291.4 150.5,290.7 150.4,289.9 150.3,289.1 150.1,288.3 150,287.5 149.9,286.7 149.9,285.9 149.8,285.1 149.7,284.3 149.7,283.4 149.6,282.6 149.6,281.7 149.5,280.9 149.5,280 149.5,279.1 149.6,278.3 149.6,277.4 149.6,276.4 149.7,275.5 149.8,274.6 149.9,273.6 150,272.7 150.1,271.7 150.3,270.8 150.4,269.8 150.6,268.8 150.8,267.8 151.1,266.8 151.4,265.8 151.7,264.7 152,263.7 152.4,262.7 152.8,261.7 153.2,260.7 153.7,259.6 154.2,258.6 154.7,257.7 155.3,256.7 155.9,255.7 156.6,254.8 157.3,253.9 158.1,253 158.9,252.2 159.7,251.4 160.6,250.7 161.5,250 162.5,249.3 163.5,248.7 164.5,248.2 165.6,247.8 166.6,247.4 167.8,247.1 168.9,246.9 170,246.5 171.1,246.2 172.2,246 173.3,245.9 174.5,245.8 175.6,245.8 176.8,245.9 177.9,246 179.1,246.2 180.2,246.5 181.3,246.8 182.4,247.2 183.5,247.6 184.5,248.1 185.5,248.6 186.5,249.1 187.5,249.7 188.4,250.3 189.3,251 190.2,251.6 191.1,252.3 191.9,253 192.7,253.7 193.5,254.5 194.2,255.2 194.9,256 195.6,256.7 196.3,257.5 196.9,258.2 197.6,259 198.2,259.8 198.7,260.5 199.3,261.3 199.8,262.1 200.3,262.9 200.8,263.6 201.3,264.4 201.8,265.1 202.2,265.9 202.6,266.7 203,267.4 203.4,268.2 203.8,268.9 204.2,269.7 204.5,270.4 204.9,271.2 205.2,271.9 205.5,272.7 205.8,273.4 206.1,274.1 206.4,274.9 206.7,275.6 207,276.3 207.2,277.1 207.5,277.8 207.7,278.5 207.9,279.3 208.1,280 208.4,280.8 208.6,281.5 208.8,282.2 208.9,283 209.1,283.7 209.3,284.5 209.4,285.2 209.6,286 209.7,286.8 209.9,287.5 210,288.3Z M203.9,289.1 203.9,289.7 204,290.3 204.1,291 204.2,291.6 204.3,292.3 204.4,292.9 204.9,293.7 205.7,294.5 205.8,295.2 205.8,296 205.8,296.7 205.2,297.2 204.6,297.7 204.6,298.5 204.6,299.2 204.6,300 204.5,300.7 204.5,301.5 205.3,302.8 205.6,303.8 205.5,304.6 205.2,305.4 204.2,305.6 203.9,306.3 203.8,307.2 203.6,308.1 203.4,308.9 203.9,310.5 204.1,311.8 203.8,312.7 202.9,313.1 202.1,313.4 201.7,314.3 201.3,315.2 201,316.2 201.5,318.4 200.9,319.3 199.8,319.3 198.9,319.6 198.3,320.4 197.6,321.2 197.6,323.3 196.8,323.9 195.8,324.2 194.7,324.1 193.9,324.7 193,325.3 192.2,326.1 191.2,326.4 190.2,326.6 189.3,326.9 188.3,327.2 187.2,326.8 186.2,326.8 185.1,326.7 184.2,327.6 183.2,327.6 182.1,326 181.1,325.6 180.2,325.2 179.3,325 178.3,326.1 177.3,325.6 176.5,323.9 175.8,322.8 174.9,322.3 174.2,321.7 173.3,321.6 172.3,322 171.5,321.4 171,320.2 170.6,318.5 170,317.9 169.4,317.2 168.8,316.6 168.1,316.2 167.1,316.5 166.5,315.9 166,315.2 165.8,314.1 165.8,312.6 165.3,312 164.9,311.3 164.5,310.7 164.1,310 163.7,309.5 162.8,309.5 162.2,309.1 161.8,308.5 161.5,307.8 161.4,307 161.7,305.7 161.5,305.1 161.2,304.5 160.9,303.9 160.7,303.3 160.4,302.7 160.2,302.1 159.6,301.7 158.8,301.4 158.4,300.9 158.2,300.3 158,299.7 157.9,299 158.3,298.2 158.5,297.4 158.3,296.8 158.1,296.3 158,295.7 157.8,295.1 157.7,294.5 157.5,293.9 157.1,293.4 156.4,292.9 155.9,292.3 155.8,291.7 155.7,291 155.6,290.4 156,289.7 156.5,289.1 156.4,288.5 156.3,287.9 156.3,287.2 156.2,286.6 156.1,285.9 156,285.3 155.5,284.5 154.7,283.7 154.6,283 154.6,282.2 154.6,281.5 155.2,281 155.8,280.5 155.8,279.7 155.8,279 155.8,278.2 155.8,277.5 155.9,276.7 155,275.4 154.8,274.4 154.9,273.6 155.1,272.8 156.2,272.6 156.5,271.9 156.6,271 156.8,270.1 157,269.3 156.5,267.7 156.3,266.4 156.6,265.5 157.5,265.1 158.3,264.8 158.7,263.9 159.1,263 159.4,262 158.9,259.8 159.4,258.9 160.6,258.9 161.5,258.6 162.1,257.8 162.8,257 162.8,254.9 163.6,254.3 164.6,254 165.7,254.1 166.5,253.5 167.4,252.9 168.2,252.1 169.1,251.8 170.1,251.6 171.1,251.3 172.1,251 173.2,251.4 174.2,251.4 175.2,251.5 176.1,250.6 177.2,250.6 178.3,252.2 179.2,252.6 180.2,253 181.1,253.2 182.1,252.1 183.1,252.6 183.9,254.3 184.6,255.4 185.4,255.9 186.2,256.5 187.1,256.6 188.1,256.2 188.8,256.8 189.4,258 189.8,259.7 190.4,260.3 191,261 191.6,261.6 192.2,262 193.3,261.7 193.8,262.3 194.4,263 194.6,264.1 194.6,265.6 195,266.2 195.5,266.9 195.9,267.5 196.3,268.2 196.7,268.7 197.6,268.7 198.2,269.1 198.6,269.7 198.9,270.4 199,271.2 198.7,272.5 198.9,273.1 199.2,273.7 199.5,274.3 199.7,274.9 200,275.5 200.2,276.1 200.8,276.5 201.6,276.8 202,277.3 202.2,277.9 202.4,278.5 202.5,279.2 202.1,280 201.9,280.8 202.1,281.4 202.2,281.9 202.4,282.5 202.6,283.1 202.7,283.7 202.9,284.3 203.2,284.8 204,285.3 204.5,285.9 204.6,286.5 204.7,287.2 204.8,287.8 204.4,288.5Z" fill="#fff" fill-rule="evenodd" stroke="none"/><path d="M210.1,289.1 210.2,289.9 210.4,290.7 210.4,291.5 210.5,292.3 210.6,293.1 210.7,293.9 210.7,294.8 210.8,295.6 210.8,296.5 210.8,297.3 210.8,298.2 210.8,299.1 210.8,299.9 210.8,300.8 210.8,301.8 210.7,302.7 210.6,303.6 210.5,304.6 210.4,305.5 210.3,306.5 210.1,307.4 210,308.4 209.8,309.4 209.5,310.4 209.3,311.4 209,312.4 208.7,313.5 208.4,314.5 208,315.5 207.6,316.5 207.2,317.5 206.7,318.6 206.2,319.6 205.7,320.5 205.1,321.5 204.4,322.5 203.8,323.4 203.1,324.3 202.3,325.2 201.5,326 200.7,326.8 199.8,327.5 198.9,328.2 197.9,328.9 196.9,329.5 195.9,330 194.8,330.4 193.7,330.8 192.6,331.1 191.5,331.3 190.4,331.7 189.3,332 188.2,332.2 187,332.3 185.9,332.4 184.7,332.4 183.6,332.3 182.5,332.2 181.3,332 180.2,331.7 179.1,331.4 178,331 176.9,330.6 175.9,330.1 174.9,329.6 173.9,329.1 172.9,328.5 172,327.9 171,327.2 170.2,326.6 169.3,325.9 168.5,325.2 167.7,324.5 166.9,323.7 166.2,323 165.4,322.2 164.7,321.5 164.1,320.7 163.4,320 162.8,319.2 162.2,318.4 161.6,317.7 161.1,316.9 160.6,316.1 160.1,315.3 159.6,314.6 159.1,313.8 158.6,313.1 158.2,312.3 157.8,311.5 157.4,310.8 157,310 156.6,309.3 156.2,308.5 155.9,307.8 155.5,307 155.2,306.3 154.9,305.5 154.6,304.8 154.3,304.1 154,303.3 153.7,302.6 153.4,301.9 153.2,301.1 152.9,300.4 152.7,299.7 152.5,298.9 152.2,298.2 152,297.4 151.8,296.7 151.6,296 151.5,295.2 151.3,294.5 151.1,293.7 150.9,293 150.8,292.2 150.6,291.4 150.5,290.7 150.4,289.9 150.3,289.1 150.1,288.3 150,287.5 149.9,286.7 149.9,285.9 149.8,285.1 149.7,284.3 149.7,283.4 149.6,282.6 149.6,281.7 149.5,280.9 149.5,280 149.5,279.1 149.6,278.3 149.6,277.4 149.6,276.4 149.7,275.5 149.8,274.6 149.9,273.6 150,272.7 150.1,271.7 150.3,270.8 150.4,269.8 150.6,268.8 150.8,267.8 151.1,266.8 151.4,265.8 151.7,264.7 152,263.7 152.4,262.7 152.8,261.7 153.2,260.7 153.7,259.6 154.2,258.6 154.7,257.7 155.3,256.7 155.9,255.7 156.6,254.8 157.3,253.9 158.1,253 158.9,252.2 159.7,251.4 160.6,250.7 161.5,250 162.5,249.3 163.5,248.7 164.5,248.2 165.6,247.8 166.6,247.4 167.8,247.1 168.9,246.9 170,246.5 171.1,246.2 172.2,246 173.3,245.9 174.5,245.8 175.6,245.8 176.8,245.9 177.9,246 179.1,246.2 180.2,246.5 181.3,246.8 182.4,247.2 183.5,247.6 184.5,248.1 185.5,248.6 186.5,249.1 187.5,249.7 188.4,250.3 189.3,251 190.2,251.6 191.1,252.3 191.9,253 192.7,253.7 193.5,254.5 194.2,255.2 194.9,256 195.6,256.7 196.3,257.5 196.9,258.2 197.6,259 198.2,259.8 198.7,260.5 199.3,261.3 199.8,262.1 200.3,262.9 200.8,263.6 201.3,264.4 201.8,265.1 202.2,265.9 202.6,266.7 203,267.4 203.4,268.2 203.8,268.9 204.2,269.7 204.5,270.4 204.9,271.2 205.2,271.9 205.5,272.7 205.8,273.4 206.1,274.1 206.4,274.9 206.7,275.6 207,276.3 207.2,277.1 207.5,277.8 207.7,278.5 207.9,279.3 208.1,280 208.4,280.8 208.6,281.5 208.8,282.2 208.9,283 209.1,283.7 209.3,284.5 209.4,285.2 209.6,286 209.7,286.8 209.9,287.5 210,288.3Z" fill="none" stroke="#000" stroke-width="2.0"/><path d="M203.9,289.1 203.9,289.7 204,290.3 204.1,291 204.2,291.6 204.3,292.3 204.4,292.9 204.9,293.7 205.7,294.5 205.8,295.2 205.8,296 205.8,296.7 205.2,297.2 204.6,297.7 204.6,298.5 204.6,299.2 204.6,300 204.5,300.7 204.5,301.5 205.3,302.8 205.6,303.8 205.5,304.6 205.2,305.4 204.2,305.6 203.9,306.3 203.8,307.2 203.6,308.1 203.4,308.9 203.9,310.5 204.1,311.8 203.8,312.7 202.9,313.1 202.1,313.4 201.7,314.3 201.3,315.2 201,316.2 201.5,318.4 200.9,319.3 199.8,319.3 198.9,319.6 198.3,320.4 197.6,321.2 197.6,323.3 196.8,323.9 195.8,324.2 194.7,324.1 193.9,324.7 193,325.3 192.2,326.1 191.2,326.4 190.2,326.6 189.3,326.9 188.3,327.2 187.2,326.8 186.2,326.8 185.1,326.7 184.2,327.6 183.2,327.6 182.1,326 181.1,325.6 180.2,325.2 179.3,325 178.3,326.1 177.3,325.6 176.5,323.9 175.8,322.8 174.9,322.3 174.2,321.7 173.3,321.6 172.3,322 171.5,321.4 171,320.2 170.6,318.5 170,317.9 169.4,317.2 168.8,316.6 168.1,316.2 167.1,316.5 166.5,315.9 166,315.2 165.8,314.1 165.8,312.6 165.3,312 164.9,311.3 164.5,310.7 164.1,310 163.7,309.5 162.8,309.5 162.2,309.1 161.8,308.5 161.5,307.8 161.4,307 161.7,305.7 161.5,305.1 161.2,304.5 160.9,303.9 160.7,303.3 160.4,302.7 160.2,302.1 159.6,301.7 158.8,301.4 158.4,300.9 158.2,300.3 158,299.7 157.9,299 158.3,298.2 158.5,297.4 158.3,296.8 158.1,296.3 158,295.7 157.8,295.1 157.7,294.5 157.5,293.9 157.1,293.4 156.4,292.9 155.9,292.3 155.8,291.7 155.7,291 155.6,290.4 156,289.7 156.5,289.1 156.4,288.5 156.3,287.9 156.3,287.2 156.2,286.6 156.1,285.9 156,285.3 155.5,284.5 154.7,283.7 154.6,283 154.6,282.2 154.6,281.5 155.2,281 155.8,280.5 155.8,279.7 155.8,279 155.8,278.2 155.8,277.5 155.9,276.7 155,275.4 154.8,274.4 154.9,273.6 155.1,272.8 156.2,272.6 156.5,271.9 156.6,271 156.8,270.1 157,269.3 156.5,267.7 156.3,266.4 156.6,265.5 157.5,265.1 158.3,264.8 158.7,263.9 159.1,263 159.4,262 158.9,259.8 159.4,258.9 160.6,258.9 161.5,258.6 162.1,257.8 162.8,257 162.8,254.9 163.6,254.3 164.6,254 165.7,254.1 166.5,253.5 167.4,252.9 168.2,252.1 169.1,251.8 170.1,251.6 171.1,251.3 172.1,251 173.2,251.4 174.2,251.4 175.2,251.5 176.1,250.6 177.2,250.6 178.3,252.2 179.2,252.6 180.2,253 181.1,253.2 182.1,252.1 183.1,252.6 183.9,254.3 184.6,255.4 185.4,255.9 186.2,256.5 187.1,256.6 188.1,256.2 188.8,256.8 189.4,258 189.8,259.7 190.4,260.3 191,261 191.6,261.6 192.2,262 193.3,261.7 193.8,262.3 194.4,263 194.6,264.1 194.6,265.6 195,266.2 195.5,266.9 195.9,267.5 196.3,268.2 196.7,268.7 197.6,268.7 198.2,269.1 198.6,269.7 198.9,270.4 199,271.2 198.7,272.5 198.9,273.1 199.2,273.7 199.5,274.3 199.7,274.9 200,275.5 200.2,276.1 200.8,276.5 201.6,276.8 202,277.3 202.2,277.9 202.4,278.5 202.5,279.2 202.1,280 201.9,280.8 202.1,281.4 202.2,281.9 202.4,282.5 202.6,283.1 202.7,283.7 202.9,284.3 203.2,284.8 204,285.3 204.5,285.9 204.6,286.5 204.7,287.2 204.8,287.8 204.4,288.5Z" fill="none" stroke="#000" stroke-width="0.95" stroke-linejoin="round"/><path d="M197.8,327.5 198.4,327 198.9,326.4 199.5,325.8 200,325.2 200.5,324.6 201,323.9 201.5,323.2 202,322.5 202.4,321.8 202.8,321.1 203.3,320.3 203.7,319.5 204,318.7 204.4,317.8 204.8,317 205.1,316.1 205.4,315.2 205.7,314.3 206,313.4 206.3,312.5 206.5,311.5 206.7,310.5 206.9,309.5 207.1,308.5 207.3,307.5 207.4,306.5 207.5,305.5 207.6,304.4 207.7,303.4 207.8,302.3 207.8,301.2 207.9,300.1 207.9,299 207.8,297.9 207.8,296.8 207.8,295.7 207.7,294.6 207.6,293.5 207.5,292.4 207.3,291.3 207.2,290.1 207,289 206.8,287.9 206.6,286.8 206.4,285.6 206.1,284.5 205.9,283.4 205.6,282.3 205.3,281.2 204.9,280.1 204.6,279 204.2,277.9 203.9,276.8 203.5,275.8 203,274.7 202.6,273.7 202.2,272.6 201.7,271.6 201.2,270.6 200.7,269.6 200.2,268.6 199.7,267.6 199.2,266.7 198.6,265.7 198.1,264.8 197.5,263.9 196.9,263 196.3,262.1 195.7,261.3 195.1,260.4 194.4,259.6 193.8,258.8 193.1,258 192.4,257.3 191.8,256.5 191.1,255.8 190.4,255.2 189.7,254.5 189,253.9 188.3,253.2 187.5,252.7 186.8,252.1 186.1,251.6 185.3,251 184.6,250.6 183.8,250.1 183.1,249.7 182.3,249.3 181.6,248.9 180.8,248.5 180,248.2 179.3,247.9 178.5,247.7 177.7,247.4 177,247.2 176.2,247" fill="none" stroke="#222" stroke-width="0.6"/><path d="M166.9,341.8 167.5,341.7 168.2,341.5 168.8,341.3 169.3,340.8 169.1,338.2 169.6,337.8 170.2,337.6 170.8,337.2 171.3,336.9 171.8,336.6 172.5,336.5 174,338.2 174.6,337.9 175.1,337.4 175.6,336.9 176,336.2 175.3,333.6 175.8,333.1 176.2,332.6 176.7,332 177.1,331.5 177.5,330.9 178.1,330.6 179.8,331.8 180.2,331.2 180.6,330.5 181,329.8 181.2,328.9 180.2,326.5 180.5,325.8 180.8,325.1 181.1,324.4 181.4,323.6 181.7,322.9 182.1,322.3 183.9,322.9 184.1,322.1 184.4,321.2 184.6,320.4 184.6,319.4 183.3,317.3 183.4,316.5 183.6,315.6 183.7,314.7 183.8,313.9 183.9,313 184.2,312.2 185.9,312.2 186.1,311.2 186.1,310.3 186.2,309.3 186,308.2 184.4,306.7 184.4,305.7 184.3,304.8 184.3,303.9 184.3,302.9 184.2,302 184.4,301.1 185.9,300.3 185.8,299.3 185.7,298.3 185.6,297.3 185.2,296.3 183.5,295.3 183.3,294.4 183.1,293.4 182.9,292.4 182.7,291.5 182.5,290.5 182.5,289.6 183.7,288.2 183.5,287.2 183.2,286.2 182.9,285.2 182.4,284.3 180.6,284 180.3,283.1 179.9,282.2 179.6,281.3 179.2,280.4 178.9,279.5 178.6,278.5 179.5,276.6 179.1,275.7 178.7,274.8 178.2,273.9 177.6,273.1 176,273.5 175.5,272.7 175,271.9 174.6,271.1 174.1,270.3 173.6,269.5 173.2,268.6 173.7,266.3 173.1,265.5 172.6,264.8 172,264 171.3,263.5 169.9,264.5 169.3,263.9 168.7,263.2 168.2,262.6 167.6,262 167,261.4 166.5,260.6 166.5,258.1 165.9,257.5 165.2,256.9 164.6,256.4 163.9,256.1 162.7,257.7 162.1,257.3 161.5,256.8 160.8,256.4 160.2,256 159.6,255.6 159,255 158.5,252.4 157.8,252 157.1,251.7 156.5,251.4 155.8,251.4 155.1,253.5 154.4,253.3 153.8,253.1 153.1,252.9 152.5,252.8 151.8,252.6 151.1,252.2 150.3,249.7 149.6,249.6 148.9,249.5 148.2,249.5 147.6,249.7 147.3,252.2 146.7,252.2 146.1,252.3 145.5,252.3 144.8,252.4 144.2,252.5 143.6,252.4 142.3,250.2 141.7,250.3 141,250.5 140.4,250.7 139.9,251.2 140.1,253.8 139.6,254.2 139,254.4 138.4,254.8 137.9,255.1 137.4,255.4 136.7,255.5 135.2,253.8 134.6,254.1 134.1,254.6 133.6,255.1 133.2,255.8 133.9,258.4 133.4,258.9 133,259.4 132.5,260 132.1,260.5 131.7,261.1 131.1,261.4 129.4,260.2 129,260.8 128.6,261.5 128.2,262.2 128,263.1 129,265.5 128.7,266.2 128.4,266.9 128.1,267.6 127.8,268.4 127.5,269.1 127.1,269.7 125.3,269.1 125.1,269.9 124.8,270.8 124.6,271.6 124.6,272.6 125.9,274.7 125.8,275.5 125.6,276.4 125.5,277.3 125.4,278.1 125.3,279 125,279.8 123.3,279.8 123.1,280.8 123.1,281.7 123,282.7 123.2,283.8 124.8,285.3 124.8,286.3 124.9,287.2 124.9,288.1 124.9,289.1 125,290 124.8,290.9 123.3,291.7 123.4,292.7 123.5,293.7 123.6,294.7 124,295.7 125.7,296.7 125.9,297.6 126.1,298.6 126.3,299.6 126.5,300.5 126.7,301.5 126.7,302.4 125.5,303.8 125.7,304.8 126,305.8 126.3,306.8 126.8,307.7 128.6,308 128.9,308.9 129.3,309.8 129.6,310.7 130,311.6 130.3,312.5 130.6,313.5 129.7,315.4 130.1,316.3 130.5,317.2 131,318.1 131.6,318.9 133.2,318.5 133.7,319.3 134.2,320.1 134.6,320.9 135.1,321.7 135.6,322.5 136,323.4 135.5,325.7 136.1,326.5 136.6,327.2 137.2,328 137.9,328.5 139.3,327.5 139.9,328.1 140.5,328.8 141,329.4 141.6,330 142.2,330.6 142.7,331.4 142.7,333.9 143.3,334.5 144,335.1 144.6,335.6 145.3,335.9 146.5,334.3 147.1,334.7 147.7,335.2 148.4,335.6 149,336 149.6,336.4 150.2,337 150.7,339.6 151.4,340 152.1,340.3 152.7,340.6 153.4,340.6 154.1,338.5 154.8,338.7 155.4,338.9 156.1,339.1 156.7,339.2 157.4,339.4 158.1,339.8 158.9,342.3 159.6,342.4 160.3,342.5 161,342.5 161.6,342.3 161.9,339.8 162.5,339.8 163.1,339.7 163.7,339.7 164.4,339.6 165,339.5 165.6,339.6Z M181.1,295.6 181.2,296.3 181.3,296.9 181.4,297.6 181.5,298.3 181.6,299 181.6,299.6 181.7,300.3 181.8,301.1 181.8,301.8 181.8,302.5 181.9,303.2 181.9,304 181.9,304.7 181.9,305.5 181.9,306.3 181.9,307.1 181.8,307.9 181.8,308.7 181.7,309.5 181.7,310.4 181.6,311.2 181.5,312.1 181.3,312.9 181.2,313.8 181,314.7 180.8,315.6 180.6,316.6 180.4,317.5 180.1,318.4 179.8,319.4 179.5,320.3 179.2,321.3 178.8,322.2 178.4,323.2 178,324.1 177.5,325 177,326 176.4,326.9 175.8,327.8 175.2,328.6 174.5,329.5 173.8,330.3 173,331.1 172.2,331.8 171.4,332.5 170.5,333.1 169.6,333.7 168.7,334.3 167.7,334.7 166.7,335.1 165.6,335.3 164.5,335.4 163.5,335.4 162.4,335.3 161.3,335.2 160.2,335 159.2,334.8 158.1,334.5 157.1,334.1 156.1,333.7 155.1,333.3 154.1,332.8 153.2,332.3 152.3,331.8 151.4,331.2 150.5,330.6 149.7,330 148.9,329.4 148.1,328.7 147.4,328.1 146.7,327.4 146,326.7 145.3,326 144.7,325.3 144.1,324.6 143.5,323.9 142.9,323.2 142.4,322.5 141.8,321.8 141.3,321.2 140.9,320.5 140.4,319.8 139.9,319.1 139.5,318.4 139.1,317.8 138.7,317.1 138.3,316.4 137.9,315.8 137.6,315.1 137.2,314.4 136.9,313.8 136.6,313.2 136.3,312.5 136,311.9 135.7,311.2 135.4,310.6 135.2,310 134.9,309.4 134.7,308.7 134.4,308.1 134.2,307.5 134,306.9 133.8,306.3 133.5,305.6 133.3,305 133.1,304.4 133,303.8 132.8,303.2 132.6,302.6 132.4,301.9 132.3,301.3 132.1,300.7 132,300.1 131.8,299.4 131.7,298.8 131.5,298.2 131.4,297.5 131.3,296.9 131.2,296.3 131.1,295.6 131,294.9 130.9,294.3 130.8,293.6 130.7,292.9 130.6,292.2 130.6,291.6 130.5,290.9 130.4,290.1 130.4,289.4 130.3,288.7 130.3,288 130.3,287.2 130.3,286.5 130.3,285.7 130.3,284.9 130.3,284.1 130.4,283.3 130.4,282.5 130.5,281.7 130.5,280.8 130.6,280 130.7,279.1 130.9,278.3 131,277.4 131.2,276.5 131.4,275.6 131.6,274.6 131.8,273.7 132,272.8 132.3,271.8 132.6,270.9 133,269.9 133.4,269 133.8,268 134.2,267.1 134.7,266.2 135.2,265.2 135.8,264.3 136.4,263.4 137,262.6 137.7,261.7 138.4,260.9 139.2,260.1 140,259.4 140.8,258.7 141.7,258.1 142.6,257.5 143.5,256.9 144.5,256.5 145.5,256.1 146.6,255.9 147.6,255.8 148.7,255.8 149.8,255.9 150.9,256 152,256.2 153,256.4 154.1,256.7 155.1,257.1 156.1,257.5 157.1,257.9 158,258.4 159,258.9 159.9,259.4 160.8,260 161.6,260.6 162.5,261.2 163.3,261.8 164,262.5 164.8,263.1 165.5,263.8 166.2,264.5 166.9,265.2 167.5,265.9 168.1,266.6 168.7,267.3 169.3,268 169.8,268.7 170.3,269.4 170.8,270 171.3,270.7 171.8,271.4 172.2,272.1 172.7,272.8 173.1,273.4 173.5,274.1 173.9,274.8 174.2,275.4 174.6,276.1 174.9,276.8 175.3,277.4 175.6,278 175.9,278.7 176.2,279.3 176.5,280 176.8,280.6 177,281.2 177.3,281.8 177.5,282.5 177.8,283.1 178,283.7 178.2,284.3 178.4,284.9 178.6,285.6 178.8,286.2 179,286.8 179.2,287.4 179.4,288 179.6,288.6 179.7,289.3 179.9,289.9 180.1,290.5 180.2,291.1 180.4,291.8 180.5,292.4 180.6,293 180.8,293.7 180.9,294.3 181,294.9Z" fill="#fff" fill-rule="evenodd" stroke="none"/><path d="M166.9,341.8 167.5,341.7 168.2,341.5 168.8,341.3 169.3,340.8 169.1,338.2 169.6,337.8 170.2,337.6 170.8,337.2 171.3,336.9 171.8,336.6 172.5,336.5 174,338.2 174.6,337.9 175.1,337.4 175.6,336.9 176,336.2 175.3,333.6 175.8,333.1 176.2,332.6 176.7,332 177.1,331.5 177.5,330.9 178.1,330.6 179.8,331.8 180.2,331.2 180.6,330.5 181,329.8 181.2,328.9 180.2,326.5 180.5,325.8 180.8,325.1 181.1,324.4 181.4,323.6 181.7,322.9 182.1,322.3 183.9,322.9 184.1,322.1 184.4,321.2 184.6,320.4 184.6,319.4 183.3,317.3 183.4,316.5 183.6,315.6 183.7,314.7 183.8,313.9 183.9,313 184.2,312.2 185.9,312.2 186.1,311.2 186.1,310.3 186.2,309.3 186,308.2 184.4,306.7 184.4,305.7 184.3,304.8 184.3,303.9 184.3,302.9 184.2,302 184.4,301.1 185.9,300.3 185.8,299.3 185.7,298.3 185.6,297.3 185.2,296.3 183.5,295.3 183.3,294.4 183.1,293.4 182.9,292.4 182.7,291.5 182.5,290.5 182.5,289.6 183.7,288.2 183.5,287.2 183.2,286.2 182.9,285.2 182.4,284.3 180.6,284 180.3,283.1 179.9,282.2 179.6,281.3 179.2,280.4 178.9,279.5 178.6,278.5 179.5,276.6 179.1,275.7 178.7,274.8 178.2,273.9 177.6,273.1 176,273.5 175.5,272.7 175,271.9 174.6,271.1 174.1,270.3 173.6,269.5 173.2,268.6 173.7,266.3 173.1,265.5 172.6,264.8 172,264 171.3,263.5 169.9,264.5 169.3,263.9 168.7,263.2 168.2,262.6 167.6,262 167,261.4 166.5,260.6 166.5,258.1 165.9,257.5 165.2,256.9 164.6,256.4 163.9,256.1 162.7,257.7 162.1,257.3 161.5,256.8 160.8,256.4 160.2,256 159.6,255.6 159,255 158.5,252.4 157.8,252 157.1,251.7 156.5,251.4 155.8,251.4 155.1,253.5 154.4,253.3 153.8,253.1 153.1,252.9 152.5,252.8 151.8,252.6 151.1,252.2 150.3,249.7 149.6,249.6 148.9,249.5 148.2,249.5 147.6,249.7 147.3,252.2 146.7,252.2 146.1,252.3 145.5,252.3 144.8,252.4 144.2,252.5 143.6,252.4 142.3,250.2 141.7,250.3 141,250.5 140.4,250.7 139.9,251.2 140.1,253.8 139.6,254.2 139,254.4 138.4,254.8 137.9,255.1 137.4,255.4 136.7,255.5 135.2,253.8 134.6,254.1 134.1,254.6 133.6,255.1 133.2,255.8 133.9,258.4 133.4,258.9 133,259.4 132.5,260 132.1,260.5 131.7,261.1 131.1,261.4 129.4,260.2 129,260.8 128.6,261.5 128.2,262.2 128,263.1 129,265.5 128.7,266.2 128.4,266.9 128.1,267.6 127.8,268.4 127.5,269.1 127.1,269.7 125.3,269.1 125.1,269.9 124.8,270.8 124.6,271.6 124.6,272.6 125.9,274.7 125.8,275.5 125.6,276.4 125.5,277.3 125.4,278.1 125.3,279 125,279.8 123.3,279.8 123.1,280.8 123.1,281.7 123,282.7 123.2,283.8 124.8,285.3 124.8,286.3 124.9,287.2 124.9,288.1 124.9,289.1 125,290 124.8,290.9 123.3,291.7 123.4,292.7 123.5,293.7 123.6,294.7 124,295.7 125.7,296.7 125.9,297.6 126.1,298.6 126.3,299.6 126.5,300.5 126.7,301.5 126.7,302.4 125.5,303.8 125.7,304.8 126,305.8 126.3,306.8 126.8,307.7 128.6,308 128.9,308.9 129.3,309.8 129.6,310.7 130,311.6 130.3,312.5 130.6,313.5 129.7,315.4 130.1,316.3 130.5,317.2 131,318.1 131.6,318.9 133.2,318.5 133.7,319.3 134.2,320.1 134.6,320.9 135.1,321.7 135.6,322.5 136,323.4 135.5,325.7 136.1,326.5 136.6,327.2 137.2,328 137.9,328.5 139.3,327.5 139.9,328.1 140.5,328.8 141,329.4 141.6,330 142.2,330.6 142.7,331.4 142.7,333.9 143.3,334.5 144,335.1 144.6,335.6 145.3,335.9 146.5,334.3 147.1,334.7 147.7,335.2 148.4,335.6 149,336 149.6,336.4 150.2,337 150.7,339.6 151.4,340 152.1,340.3 152.7,340.6 153.4,340.6 154.1,338.5 154.8,338.7 155.4,338.9 156.1,339.1 156.7,339.2 157.4,339.4 158.1,339.8 158.9,342.3 159.6,342.4 160.3,342.5 161,342.5 161.6,342.3 161.9,339.8 162.5,339.8 163.1,339.7 163.7,339.7 164.4,339.6 165,339.5 165.6,339.6Z" fill="none" stroke="#000" stroke-width="1.9" stroke-linejoin="round"/><path d="M181.1,295.6 181.2,296.3 181.3,296.9 181.4,297.6 181.5,298.3 181.6,299 181.6,299.6 181.7,300.3 181.8,301.1 181.8,301.8 181.8,302.5 181.9,303.2 181.9,304 181.9,304.7 181.9,305.5 181.9,306.3 181.9,307.1 181.8,307.9 181.8,308.7 181.7,309.5 181.7,310.4 181.6,311.2 181.5,312.1 181.3,312.9 181.2,313.8 181,314.7 180.8,315.6 180.6,316.6 180.4,317.5 180.1,318.4 179.8,319.4 179.5,320.3 179.2,321.3 178.8,322.2 178.4,323.2 178,324.1 177.5,325 177,326 176.4,326.9 175.8,327.8 175.2,328.6 174.5,329.5 173.8,330.3 173,331.1 172.2,331.8 171.4,332.5 170.5,333.1 169.6,333.7 168.7,334.3 167.7,334.7 166.7,335.1 165.6,335.3 164.5,335.4 163.5,335.4 162.4,335.3 161.3,335.2 160.2,335 159.2,334.8 158.1,334.5 157.1,334.1 156.1,333.7 155.1,333.3 154.1,332.8 153.2,332.3 152.3,331.8 151.4,331.2 150.5,330.6 149.7,330 148.9,329.4 148.1,328.7 147.4,328.1 146.7,327.4 146,326.7 145.3,326 144.7,325.3 144.1,324.6 143.5,323.9 142.9,323.2 142.4,322.5 141.8,321.8 141.3,321.2 140.9,320.5 140.4,319.8 139.9,319.1 139.5,318.4 139.1,317.8 138.7,317.1 138.3,316.4 137.9,315.8 137.6,315.1 137.2,314.4 136.9,313.8 136.6,313.2 136.3,312.5 136,311.9 135.7,311.2 135.4,310.6 135.2,310 134.9,309.4 134.7,308.7 134.4,308.1 134.2,307.5 134,306.9 133.8,306.3 133.5,305.6 133.3,305 133.1,304.4 133,303.8 132.8,303.2 132.6,302.6 132.4,301.9 132.3,301.3 132.1,300.7 132,300.1 131.8,299.4 131.7,298.8 131.5,298.2 131.4,297.5 131.3,296.9 131.2,296.3 131.1,295.6 131,294.9 130.9,294.3 130.8,293.6 130.7,292.9 130.6,292.2 130.6,291.6 130.5,290.9 130.4,290.1 130.4,289.4 130.3,288.7 130.3,288 130.3,287.2 130.3,286.5 130.3,285.7 130.3,284.9 130.3,284.1 130.4,283.3 130.4,282.5 130.5,281.7 130.5,280.8 130.6,280 130.7,279.1 130.9,278.3 131,277.4 131.2,276.5 131.4,275.6 131.6,274.6 131.8,273.7 132,272.8 132.3,271.8 132.6,270.9 133,269.9 133.4,269 133.8,268 134.2,267.1 134.7,266.2 135.2,265.2 135.8,264.3 136.4,263.4 137,262.6 137.7,261.7 138.4,260.9 139.2,260.1 140,259.4 140.8,258.7 141.7,258.1 142.6,257.5 143.5,256.9 144.5,256.5 145.5,256.1 146.6,255.9 147.6,255.8 148.7,255.8 149.8,255.9 150.9,256 152,256.2 153,256.4 154.1,256.7 155.1,257.1 156.1,257.5 157.1,257.9 158,258.4 159,258.9 159.9,259.4 160.8,260 161.6,260.6 162.5,261.2 163.3,261.8 164,262.5 164.8,263.1 165.5,263.8 166.2,264.5 166.9,265.2 167.5,265.9 168.1,266.6 168.7,267.3 169.3,268 169.8,268.7 170.3,269.4 170.8,270 171.3,270.7 171.8,271.4 172.2,272.1 172.7,272.8 173.1,273.4 173.5,274.1 173.9,274.8 174.2,275.4 174.6,276.1 174.9,276.8 175.3,277.4 175.6,278 175.9,278.7 176.2,279.3 176.5,280 176.8,280.6 177,281.2 177.3,281.8 177.5,282.5 177.8,283.1 178,283.7 178.2,284.3 178.4,284.9 178.6,285.6 178.8,286.2 179,286.8 179.2,287.4 179.4,288 179.6,288.6 179.7,289.3 179.9,289.9 180.1,290.5 180.2,291.1 180.4,291.8 180.5,292.4 180.6,293 180.8,293.7 180.9,294.3 181,294.9Z" fill="none" stroke="#000" stroke-width="1.3"/><path d="M179.2,282.4 178.6,280.8 177.9,279.2 177.2,277.7 176.5,276.2 175.7,274.7 174.9,273.3 174.1,271.9 173.3,270.6 172.4,269.2 171.5,268 170.5,266.7 169.6,265.5 168.6,264.4 167.6,263.3 166.6,262.2 165.5,261.2 164.4,260.3 163.4,259.4 162.3,258.6 161.2,257.8 160.1,257.1 158.9,256.4 157.8,255.8 156.7,255.3 155.5,254.8 154.4,254.4 153.3,254.1 152.1,253.8 151,253.6 149.9,253.5 148.8,253.4 147.7,253.4 146.6,253.4 145.5,253.6 144.4,253.7 143.3,254 142.3,254.3 141.3,254.7 140.3,255.1 139.3,255.6 138.4,256.2 137.4,256.8 136.5,257.5 135.6,258.2 134.8,259.1 134,259.9 133.2,260.8 132.5,261.8 131.7,262.8 131.1,263.9 130.4,265 129.8,266.2 129.2,267.4 128.7,268.7 128.2,270 127.8,271.3 127.4,272.7 127,274.1 126.7,275.6 126.4,277.1" fill="none" stroke="#333" stroke-width="0.6"/><path d="M141.5,251 V210.5 L335.5,164.3 V198 M193.5,237.5 V198.5 M240.5,225 V187 M288.5,212.6 V175.5" fill="none" stroke="#000" stroke-width="1.1"/><path d="M191.5,332.8 V367.7 L384.5,322.3 V282 M241.5,320.6 V355.9 M286.5,308.4 V345.3 M333.5,296 V334.3" fill="none" stroke="#000" stroke-width="1.1"/><path d="M338,93.5 H351.8 L414.3,179.3" fill="none" stroke="#000" stroke-width="1.1"/><path d="M187,134.5 H202 L240.5,186.8" fill="none" stroke="#000" stroke-width="1.1"/><path d="M520.8,301.5 H502.2 L473,259.4" fill="none" stroke="#000" stroke-width="1.1"/><path d="M379,375.5 H365.3 L333.8,334" fill="none" stroke="#000" stroke-width="1.1"/><path d="M488,516.5 H506.6 L536.4,632" fill="none" stroke="#000" stroke-width="1.1"/><path d="M344.9,563.5 H363.8 L385.6,650.5" fill="none" stroke="#000" stroke-width="1.1"/><path d="M524,767.5 H506.4 L490.8,711.9" fill="none" stroke="#000" stroke-width="1.1"/><path d="M370.9,820.5 H354.4 L335.8,755.3" fill="none" stroke="#000" stroke-width="1.1"/><path d="M186.6,773 L214.2,877.5 H296.9 M241.6,776.5 L269.2,877.5" fill="none" stroke="#000" stroke-width="1.1"/><path d="M529.7,630 529,630 528.3,630 527.6,630.1 527,630.2 526.3,630.4 525.7,630.6 525,630.9 524.4,631.2 523.8,631.5 523.2,631.9 522.7,632.3 522.1,632.8 521.6,633.3 521.1,633.8 520.6,634.4 520.1,635 519.7,635.6 519.2,636.3 518.8,637 518.5,637.7 518.1,638.5 517.8,639.3 517.5,640.1 517.2,640.9 517,641.8 516.8,642.7 516.6,643.6 516.4,644.5 516.3,645.4 516.2,646.4 516.2,647.4 516.1,648.3 516.1,649.3 516.1,650.3 516.2,651.4 516.3,652.4 516.4,653.4 516.5,654.4 516.7,655.4 516.9,656.4 517.1,657.4 517.4,658.4 517.7,659.4 518,660.4 518.3,661.4 518.7,662.4 519.1,663.3 519.5,664.3 519.9,665.2 520.4,666.1 520.9,667 521.4,667.8 521.9,668.6 522.4,669.4 523,670.2 523.6,671 524.2,671.7 524.8,672.4 525.4,673 526.1,673.7 526.7,674.2 527.4,674.8 528.1,675.3 528.7,675.8 529.4,676.2 530.1,676.6 530.8,677 531.5,677.3 532.2,677.6 532.9,677.9 533.7,678 534.4,678.2 535.1,678.3 535.8,678.4 536.5,678.4 537.2,678.4 537.8,678.4 538.5,678.3 539.2,678.1 539.8,677.9 540.5,677.7 541.1,677.4 541.7,677.1 542.3,676.8 542.9,676.4 543.5,676 544,675.5 544.5,675 545.1,674.5 545.5,673.9 546,673.3 546.4,672.6 546.9,671.9 547.3,671.2 547.6,670.5 548,669.7 548.3,668.9 548.6,668.1 548.8,667.3 549.1,666.4 549.3,665.5 549.4,664.6 549.6,663.7 549.7,662.7 549.8,661.8 549.9,660.8 549.9,659.8 549.9,658.8 549.8,657.8 549.8,656.8 549.7,655.8 549.6,654.8 549.4,653.8 549.3,652.7 549,651.7 548.8,650.7 548.5,649.7 548.3,648.7 547.9,647.7 547.6,646.8 547.2,645.8 546.8,644.8 546.4,643.9 546,643 545.5,642.1 545,641.2 544.5,640.4 544,639.6 543.4,638.8 542.9,638 542.3,637.3 541.7,636.5 541.1,635.9 540.4,635.2 539.8,634.6 539.1,634 538.5,633.5 537.8,633 537.1,632.5 536.4,632.1 535.5,636.9 536,637.2 536.5,637.6 537,638 537.5,638.4 538,638.9 538.4,639.4 538.9,639.9 539.4,640.4 539.8,641 540.2,641.6 540.7,642.2 541.1,642.8 541.5,643.5 541.8,644.1 542.2,644.8 542.6,645.5 542.9,646.2 543.2,647 543.5,647.7 543.8,648.5 544.1,649.2 544.3,650 544.5,650.8 544.7,651.6 544.9,652.3 545.1,653.1 545.2,653.9 545.3,654.7 545.5,655.5 545.5,656.3 545.6,657.1 545.6,657.9 545.6,658.6 545.6,659.4 545.6,660.2 545.6,660.9 545.5,661.6 545.4,662.4 545.3,663.1 545.2,663.7 545,664.4 544.8,665.1 544.6,665.7 544.4,666.3 544.2,666.9 543.9,667.5 543.7,668 543.4,668.5 543.1,669 542.8,669.5 542.4,669.9 542.1,670.3 541.7,670.7 541.3,671.1 540.9,671.4 540.5,671.7 540.1,672 539.6,672.2 539.2,672.4 538.7,672.5 538.2,672.7 537.8,672.8 537.3,672.8 536.8,672.9 536.3,672.9 535.8,672.8 535.3,672.8 534.8,672.7 534.3,672.5 533.7,672.4 533.2,672.2 532.7,671.9 532.2,671.7 531.7,671.4 531.2,671.1 530.7,670.7 530.2,670.3 529.7,669.9 529.2,669.5 528.7,669 528.3,668.5 527.8,668 527.3,667.4 526.9,666.9 526.5,666.3 526,665.7 525.6,665 525.2,664.4 524.9,663.7 524.5,663 524.2,662.3 523.8,661.6 523.5,660.9 523.2,660.1 522.9,659.4 522.7,658.6 522.4,657.8 522.2,657 522,656.3 521.8,655.5 521.7,654.7 521.5,653.9 521.4,653.1 521.3,652.3 521.3,651.5 521.2,650.7 521.2,649.9 521.1,649.2 521.2,648.4 521.2,647.7 521.2,646.9 521.3,646.2 521.4,645.5 521.5,644.8 521.7,644.1 521.8,643.4 522,642.8 522.2,642.1 522.4,641.5 522.7,641 522.9,640.4 523.2,639.9 523.5,639.3 523.8,638.9 524.1,638.4 524.5,638 524.8,637.6 525.2,637.2 525.6,636.8 526,636.5 526.4,636.2 526.8,636 527.3,635.8 527.7,635.6 528.2,635.4 528.7,635.3 529.1,635.2 529.6,635.1 530.1,635.1 530.6,635.1Z" fill="#fff" stroke="#000" stroke-width="1.6" stroke-linejoin="round"/><path d="M525.8,632.9 525,633.3 524.3,633.7 523.6,634.2 522.9,634.8 522.2,635.5 521.6,636.2 521.1,637 520.6,637.9 520.1,638.8 519.7,639.7 519.3,640.8 518.9,641.8 518.6,642.9 518.4,644.1 518.2,645.2 518.1,646.4 518,647.7 518,648.9 518,650.2 518,651.5 518.2,652.8 518.3,654.1 518.6,655.4 518.8,656.7 519.2,658 519.5,659.2 519.9,660.5 520.4,661.7 520.9,663 521.5,664.1 522,665.3 522.7,666.4 523.3,667.5 524,668.5 524.7,669.4 525.5,670.4 526.3,671.2 527.1,672 527.9,672.8" fill="none" stroke="#777" stroke-width="0.5"/><ellipse cx="472.8" cy="670.3" rx="28.8" ry="44.6" transform="rotate(-15 472.8 670.3)" fill="#fff" stroke="#000" stroke-width="1.8"/><ellipse cx="470.3" cy="671.1" rx="26" ry="43.2" transform="rotate(-15 470.3 671.1)" fill="none" stroke="#000" stroke-width="1.4"/><path d="M472.5,709.5 473.8,709.7 475.1,709.8 476.3,709.8 477.6,709.8 478.8,709.6 480,709.3 481.2,708.9 482.3,708.4 483.4,707.8 484.5,707.1 485.5,706.3 486.5,705.4 487.5,704.4 488.4,703.3 489.2,702.2 490,700.9 490.7,699.6 491.4,698.2 492,696.7 492.6,695.2 493.1,693.6 493.5,691.9 493.8,690.2 494.1,688.4 494.4,686.6 494.5,684.7 494.6,682.8 494.7,680.9 494.6,678.9 494.5,676.9 494.3,674.9 494.1,672.9 493.8,670.9 493.4,668.9 493,666.9 492.4,664.9 491.9,662.9 491.2,660.9 490.6,659 489.8,657.1 489,655.3 488.2,653.5 487.3,651.7 486.3,650 485.3,648.3 484.3,646.7 483.2,645.2 482.1,643.8" fill="none" stroke="#333" stroke-width="0.55"/><path d="M490.7,668.1 490.2,665.9 489.6,663.8 488.9,661.7 488.1,659.6 487.3,657.6 486.5,655.7 485.5,653.7 484.5,651.9 483.4,650.1 482.3,648.4 481.2,646.8 480,645.3 478.7,643.8 477.4,642.5 476.1,641.3 474.8,640.1 473.4,639.1 472,638.3 470.7,637.5 469.3,636.8 467.9,636.3 466.5,635.9 465.1,635.7 463.7,635.5 462.4,635.5 461.1,635.6 459.8,635.9 458.5,636.3 457.3,636.8 456.1,637.4 455,638.2 453.9,639.1 452.9,640.1 451.9,641.2 451,642.4 450.2,643.7 449.4,645.1 448.7,646.7 448.1,648.3 447.5,650 447,651.7 446.7,653.6 446.3,655.5 446.1,657.4 446,659.5 445.9,661.5 445.9,663.6 446.1,665.7" fill="none" stroke="#333" stroke-width="0.55"/><path d="M478,649.1 477.3,648.4 476.7,647.6 476.1,646.9 475.4,646.2 474.7,645.6 474,645 473.4,644.4 472.7,643.8 472,643.3 471.3,642.8 470.6,642.4 469.9,642 469.2,641.6 468.4,641.3 467.7,641 467,640.7 466.3,640.5 465.6,640.3 464.9,640.2 464.2,640.1 463.5,640 462.8,640 462.1,640 461.4,640.1 460.8,640.2 460.1,640.3 459.4,640.5 458.8,640.7 458.2,640.9 457.6,641.2 457,641.5 456.4,641.9 455.8,642.3 455.2,642.7 454.7,643.2 454.2,643.7 453.7,644.2 453.2,644.8 452.7,645.4 452.2,646.1 451.8,646.7 451.4,647.4 451,648.2 450.6,648.9 450.3,649.7 450,650.5 449.6,651.4 449.4,652.2" fill="none" stroke="#333" stroke-width="0.55"/><ellipse cx="466" cy="671.5" rx="16.6" ry="27.8" transform="rotate(-15 466 671.5)" fill="none" stroke="#222" stroke-width="0.8"/><ellipse cx="466" cy="671.5" rx="15" ry="25.5" transform="rotate(-15 466 671.5)" fill="none" stroke="#666" stroke-width="0.5"/><path d="M471.5,691.1 471.9,691 472.2,690.9 472.5,690.8 472.8,690.6 473.1,690.5 473.4,690.3 473.7,690.2 474,690 474.3,689.8 474.5,689.6 474.8,689.3 475.1,689.1 475.3,688.9 475.6,688.6 475.8,688.3 476.1,688 476.3,687.7 476.6,687.4 476.8,687.1 477,686.8 477.2,686.4 477.4,686.1 477.6,685.7 477.8,685.4 477.9,685 478.1,684.6 478.3,684.2 478.4,683.8 478.6,683.4 478.7,682.9 478.8,682.5 478.9,682.1 479,681.6 479.1,681.2 479.2,680.7 479.3,680.2 479.4,679.7 479.5,679.3 479.5,678.8 479.5,678.3 479.6,677.8 479.6,677.3 479.6,676.8 479.6,676.3 479.6,675.8 479.6,675.2 479.6,674.7 479.6,674.2 479.5,673.7 479.5,673.2 479.4,672.6 479.4,672.1 479.3,671.6 479.2,671 479.1,670.5 479,670 480.6,669.2 480.5,668.6 480.4,668 480.2,667.4 480.1,666.9 479.9,666.3 479.7,665.7 479.5,665.1 479.3,664.5 479.1,664 478.9,663.4 478.6,662.8 478.4,662.3 476.7,662.9 476.5,662.4 476.3,661.9 476,661.4 475.8,661 475.6,660.5 475.3,660.1 475,659.7 474.8,659.2 474.5,658.8 474.2,658.4 473.9,658 473.6,657.6 473.3,657.2 473,656.8 472.7,656.5 472.4,656.1 472.1,655.8 471.8,655.4 471.5,655.1 471.2,654.8 470.8,654.5 470.5,654.2 470.2,653.9 469.8,653.7 469.5,653.4 469.1,653.2 468.8,652.9 468.4,652.7 468.1,652.5 467.8,652.3 467.4,652.1 467.1,652 466.7,651.8 466.3,651.7 466,651.6 465.6,651.4 465.3,651.3 464.9,651.3 464.6,651.2 464.2,651.1 463.9,651.1 463.5,651 463.2,651 462.9,651 462.5,651 462.2,651.1 461.9,651.1 461.5,651.2 461.2,651.2 460.9,651.3 460.5,651.4 460.2,651.5 459.9,651.6 459.6,651.8 458.4,649.3 458,649.5 457.7,649.7 457.4,649.9 457,650.1 456.7,650.3 456.4,650.6 456.1,650.9 455.8,651.1 455.5,651.4 455.2,651.8 455,652.1 454.7,652.4 455.8,655 455.6,655.3 455.4,655.6 455.2,656 455,656.3 454.8,656.7 454.6,657 454.5,657.4 454.3,657.8 454.1,658.2 454,658.6 453.8,659 453.7,659.5 453.6,659.9 453.5,660.3 453.4,660.8 453.3,661.2 453.2,661.7 453.1,662.2 453,662.7 452.9,663.1 452.9,663.6 452.9,664.1 452.8,664.6 452.8,665.1 452.8,665.6 452.8,666.1 452.8,666.6 452.8,667.2 452.8,667.7 452.8,668.2 452.9,668.7 452.9,669.2 453,669.8 453,670.3 451.3,670.8 451.4,671.4 451.5,672 451.6,672.6 451.8,673.2 451.9,673.8 452,674.4 452.2,675 452.3,675.5 452.5,676.1 452.7,676.7 452.9,677.3 453.1,677.9 454.8,677.6 455,678.1 455.2,678.6 455.4,679.1 455.7,679.5 455.9,680 456.1,680.5 456.4,681 456.6,681.4 456.8,681.9 457.1,682.3 457.4,682.7 457.6,683.2 457.9,683.6 458.2,684 458.5,684.4 458.8,684.8 459.1,685.2 459.4,685.6 459.7,685.9 460,686.3 460.3,686.6 460.6,687 460.9,687.3 461.2,687.6 461.6,687.9 461.9,688.2 462.2,688.5 462.6,688.7 462.9,689 463.3,689.2 463.6,689.5 464,689.7 464.3,689.9 464.6,690.1 465,690.3 465.3,690.4 465.7,690.6 466.1,690.7 466.4,690.8 466.8,693.6 467.2,693.8 467.6,693.9 468,693.9 468.4,694 468.8,694.1 469.2,694.1 469.6,694.1 470,694.1 470.4,694.1 470.8,694.1 471.1,694 471.5,694 471.2,691.2Z" fill="#fff" stroke="#000" stroke-width="1.4" stroke-linejoin="round"/><path d="M458.4,649.3 457.2,645.9 452.6,649.9 454.5,652.7Z" fill="#fff" stroke="#333" stroke-width="0.7"/><path d="M480.7,669.7 483,669.4 480.2,660.7 478.3,662.1Z" fill="#fff" stroke="#333" stroke-width="0.7"/><path d="M466.8,693.6 466.9,697.1 472.7,697.4 471.9,693.9Z" fill="#fff" stroke="#333" stroke-width="0.7"/><path d="M451.3,670.6 449,670.5 451.2,679.3 453.2,678.2Z" fill="#fff" stroke="#333" stroke-width="0.7"/><ellipse cx="403" cy="689.2" rx="22.8" ry="40" transform="rotate(-15 403 689.2)" fill="#fff" stroke="#000" stroke-width="1.8"/><g fill="#d0d0d0" stroke="#111" stroke-width="0.8"><ellipse cx="412.4" cy="690.2" rx="1.1" ry="2.1" transform="rotate(-15 412.4 690.2)"/><ellipse cx="414.4" cy="689.7" rx="1.1" ry="2.1" transform="rotate(-15 414.4 689.7)"/><ellipse cx="416.4" cy="689.1" rx="1.1" ry="2.1" transform="rotate(-15 416.4 689.1)"/><ellipse cx="418.4" cy="688.6" rx="1.1" ry="2.1" transform="rotate(-15 418.4 688.6)"/><ellipse cx="420.5" cy="688" rx="1.1" ry="2.1" transform="rotate(-15 420.5 688)"/><ellipse cx="422.5" cy="687.5" rx="1.1" ry="2.1" transform="rotate(-15 422.5 687.5)"/><ellipse cx="410.6" cy="683.4" rx="1.1" ry="2.1" transform="rotate(-15 410.6 683.4)"/><ellipse cx="412.6" cy="682.8" rx="1.1" ry="2.1" transform="rotate(-15 412.6 682.8)"/><ellipse cx="414.6" cy="682.3" rx="1.1" ry="2.1" transform="rotate(-15 414.6 682.3)"/><ellipse cx="416.6" cy="681.8" rx="1.1" ry="2.1" transform="rotate(-15 416.6 681.8)"/><ellipse cx="418.6" cy="681.2" rx="1.1" ry="2.1" transform="rotate(-15 418.6 681.2)"/><ellipse cx="420.6" cy="680.7" rx="1.1" ry="2.1" transform="rotate(-15 420.6 680.7)"/><ellipse cx="413.5" cy="697.1" rx="1.1" ry="2.1" transform="rotate(-15 413.5 697.1)"/><ellipse cx="415.5" cy="696.5" rx="1.1" ry="2.1" transform="rotate(-15 415.5 696.5)"/><ellipse cx="417.5" cy="696" rx="1.1" ry="2.1" transform="rotate(-15 417.5 696)"/><ellipse cx="419.5" cy="695.5" rx="1.1" ry="2.1" transform="rotate(-15 419.5 695.5)"/><ellipse cx="421.5" cy="694.9" rx="1.1" ry="2.1" transform="rotate(-15 421.5 694.9)"/><ellipse cx="423.5" cy="694.4" rx="1.1" ry="2.1" transform="rotate(-15 423.5 694.4)"/><ellipse cx="408" cy="676.9" rx="1.1" ry="2.1" transform="rotate(-15 408 676.9)"/><ellipse cx="410" cy="676.4" rx="1.1" ry="2.1" transform="rotate(-15 410 676.4)"/><ellipse cx="412" cy="675.8" rx="1.1" ry="2.1" transform="rotate(-15 412 675.8)"/><ellipse cx="414.1" cy="675.3" rx="1.1" ry="2.1" transform="rotate(-15 414.1 675.3)"/><ellipse cx="416.1" cy="674.7" rx="1.1" ry="2.1" transform="rotate(-15 416.1 674.7)"/><ellipse cx="418.1" cy="674.2" rx="1.1" ry="2.1" transform="rotate(-15 418.1 674.2)"/><ellipse cx="413.7" cy="703.8" rx="1.1" ry="2.1" transform="rotate(-15 413.7 703.8)"/><ellipse cx="415.7" cy="703.2" rx="1.1" ry="2.1" transform="rotate(-15 415.7 703.2)"/><ellipse cx="417.7" cy="702.7" rx="1.1" ry="2.1" transform="rotate(-15 417.7 702.7)"/><ellipse cx="419.7" cy="702.2" rx="1.1" ry="2.1" transform="rotate(-15 419.7 702.2)"/><ellipse cx="421.7" cy="701.6" rx="1.1" ry="2.1" transform="rotate(-15 421.7 701.6)"/><ellipse cx="423.8" cy="701.1" rx="1.1" ry="2.1" transform="rotate(-15 423.8 701.1)"/><ellipse cx="404.9" cy="671" rx="1.1" ry="2.1" transform="rotate(-15 404.9 671)"/><ellipse cx="406.9" cy="670.5" rx="1.1" ry="2.1" transform="rotate(-15 406.9 670.5)"/><ellipse cx="408.9" cy="669.9" rx="1.1" ry="2.1" transform="rotate(-15 408.9 669.9)"/><ellipse cx="410.9" cy="669.4" rx="1.1" ry="2.1" transform="rotate(-15 410.9 669.4)"/><ellipse cx="412.9" cy="668.8" rx="1.1" ry="2.1" transform="rotate(-15 412.9 668.8)"/><ellipse cx="414.9" cy="668.3" rx="1.1" ry="2.1" transform="rotate(-15 414.9 668.3)"/><ellipse cx="413.1" cy="710" rx="1.1" ry="2.1" transform="rotate(-15 413.1 710)"/><ellipse cx="415.1" cy="709.5" rx="1.1" ry="2.1" transform="rotate(-15 415.1 709.5)"/><ellipse cx="417.1" cy="708.9" rx="1.1" ry="2.1" transform="rotate(-15 417.1 708.9)"/><ellipse cx="419.1" cy="708.4" rx="1.1" ry="2.1" transform="rotate(-15 419.1 708.4)"/><ellipse cx="421.1" cy="707.9" rx="1.1" ry="2.1" transform="rotate(-15 421.1 707.9)"/><ellipse cx="423.2" cy="707.3" rx="1.1" ry="2.1" transform="rotate(-15 423.2 707.3)"/><ellipse cx="401.2" cy="665.9" rx="1.1" ry="2.1" transform="rotate(-15 401.2 665.9)"/><ellipse cx="403.2" cy="665.4" rx="1.1" ry="2.1" transform="rotate(-15 403.2 665.4)"/><ellipse cx="405.3" cy="664.8" rx="1.1" ry="2.1" transform="rotate(-15 405.3 664.8)"/><ellipse cx="407.3" cy="664.3" rx="1.1" ry="2.1" transform="rotate(-15 407.3 664.3)"/><ellipse cx="409.3" cy="663.8" rx="1.1" ry="2.1" transform="rotate(-15 409.3 663.8)"/><ellipse cx="411.3" cy="663.2" rx="1.1" ry="2.1" transform="rotate(-15 411.3 663.2)"/><ellipse cx="411.7" cy="715.6" rx="1.1" ry="2.1" transform="rotate(-15 411.7 715.6)"/><ellipse cx="413.7" cy="715" rx="1.1" ry="2.1" transform="rotate(-15 413.7 715)"/><ellipse cx="415.7" cy="714.5" rx="1.1" ry="2.1" transform="rotate(-15 415.7 714.5)"/><ellipse cx="417.7" cy="714" rx="1.1" ry="2.1" transform="rotate(-15 417.7 714)"/><ellipse cx="419.7" cy="713.4" rx="1.1" ry="2.1" transform="rotate(-15 419.7 713.4)"/><ellipse cx="421.8" cy="712.9" rx="1.1" ry="2.1" transform="rotate(-15 421.8 712.9)"/><ellipse cx="397.2" cy="661.8" rx="1.1" ry="2.1" transform="rotate(-15 397.2 661.8)"/><ellipse cx="399.2" cy="661.3" rx="1.1" ry="2.1" transform="rotate(-15 399.2 661.3)"/><ellipse cx="401.3" cy="660.7" rx="1.1" ry="2.1" transform="rotate(-15 401.3 660.7)"/><ellipse cx="403.3" cy="660.2" rx="1.1" ry="2.1" transform="rotate(-15 403.3 660.2)"/><ellipse cx="405.3" cy="659.7" rx="1.1" ry="2.1" transform="rotate(-15 405.3 659.7)"/><ellipse cx="407.3" cy="659.1" rx="1.1" ry="2.1" transform="rotate(-15 407.3 659.1)"/><ellipse cx="409.5" cy="720.2" rx="1.1" ry="2.1" transform="rotate(-15 409.5 720.2)"/><ellipse cx="411.6" cy="719.7" rx="1.1" ry="2.1" transform="rotate(-15 411.6 719.7)"/><ellipse cx="413.6" cy="719.1" rx="1.1" ry="2.1" transform="rotate(-15 413.6 719.1)"/><ellipse cx="415.6" cy="718.6" rx="1.1" ry="2.1" transform="rotate(-15 415.6 718.6)"/><ellipse cx="417.6" cy="718.1" rx="1.1" ry="2.1" transform="rotate(-15 417.6 718.1)"/><ellipse cx="419.6" cy="717.5" rx="1.1" ry="2.1" transform="rotate(-15 419.6 717.5)"/><ellipse cx="393" cy="658.9" rx="1.1" ry="2.1" transform="rotate(-15 393 658.9)"/><ellipse cx="395.1" cy="658.4" rx="1.1" ry="2.1" transform="rotate(-15 395.1 658.4)"/><ellipse cx="397.1" cy="657.8" rx="1.1" ry="2.1" transform="rotate(-15 397.1 657.8)"/><ellipse cx="399.1" cy="657.3" rx="1.1" ry="2.1" transform="rotate(-15 399.1 657.3)"/><ellipse cx="401.1" cy="656.7" rx="1.1" ry="2.1" transform="rotate(-15 401.1 656.7)"/><ellipse cx="403.1" cy="656.2" rx="1.1" ry="2.1" transform="rotate(-15 403.1 656.2)"/><ellipse cx="406.7" cy="723.8" rx="1.1" ry="2.1" transform="rotate(-15 406.7 723.8)"/><ellipse cx="408.7" cy="723.2" rx="1.1" ry="2.1" transform="rotate(-15 408.7 723.2)"/><ellipse cx="410.7" cy="722.7" rx="1.1" ry="2.1" transform="rotate(-15 410.7 722.7)"/><ellipse cx="412.8" cy="722.2" rx="1.1" ry="2.1" transform="rotate(-15 412.8 722.2)"/><ellipse cx="414.8" cy="721.6" rx="1.1" ry="2.1" transform="rotate(-15 414.8 721.6)"/><ellipse cx="416.8" cy="721.1" rx="1.1" ry="2.1" transform="rotate(-15 416.8 721.1)"/><ellipse cx="388.8" cy="657.2" rx="1.1" ry="2.1" transform="rotate(-15 388.8 657.2)"/><ellipse cx="390.8" cy="656.7" rx="1.1" ry="2.1" transform="rotate(-15 390.8 656.7)"/><ellipse cx="392.8" cy="656.2" rx="1.1" ry="2.1" transform="rotate(-15 392.8 656.2)"/><ellipse cx="394.9" cy="655.6" rx="1.1" ry="2.1" transform="rotate(-15 394.9 655.6)"/><ellipse cx="396.9" cy="655.1" rx="1.1" ry="2.1" transform="rotate(-15 396.9 655.1)"/><ellipse cx="398.9" cy="654.6" rx="1.1" ry="2.1" transform="rotate(-15 398.9 654.6)"/><ellipse cx="403.3" cy="726.1" rx="1.1" ry="2.1" transform="rotate(-15 403.3 726.1)"/><ellipse cx="405.3" cy="725.6" rx="1.1" ry="2.1" transform="rotate(-15 405.3 725.6)"/><ellipse cx="407.4" cy="725" rx="1.1" ry="2.1" transform="rotate(-15 407.4 725)"/><ellipse cx="409.4" cy="724.5" rx="1.1" ry="2.1" transform="rotate(-15 409.4 724.5)"/><ellipse cx="411.4" cy="724" rx="1.1" ry="2.1" transform="rotate(-15 411.4 724)"/><ellipse cx="413.4" cy="723.4" rx="1.1" ry="2.1" transform="rotate(-15 413.4 723.4)"/><ellipse cx="384.7" cy="656.9" rx="1.1" ry="2.1" transform="rotate(-15 384.7 656.9)"/><ellipse cx="386.7" cy="656.4" rx="1.1" ry="2.1" transform="rotate(-15 386.7 656.4)"/><ellipse cx="388.7" cy="655.9" rx="1.1" ry="2.1" transform="rotate(-15 388.7 655.9)"/><ellipse cx="390.8" cy="655.3" rx="1.1" ry="2.1" transform="rotate(-15 390.8 655.3)"/><ellipse cx="392.8" cy="654.8" rx="1.1" ry="2.1" transform="rotate(-15 392.8 654.8)"/><ellipse cx="394.8" cy="654.2" rx="1.1" ry="2.1" transform="rotate(-15 394.8 654.2)"/><ellipse cx="399.5" cy="727.2" rx="1.1" ry="2.1" transform="rotate(-15 399.5 727.2)"/><ellipse cx="401.5" cy="726.6" rx="1.1" ry="2.1" transform="rotate(-15 401.5 726.6)"/><ellipse cx="403.5" cy="726.1" rx="1.1" ry="2.1" transform="rotate(-15 403.5 726.1)"/><ellipse cx="405.6" cy="725.5" rx="1.1" ry="2.1" transform="rotate(-15 405.6 725.5)"/><ellipse cx="407.6" cy="725" rx="1.1" ry="2.1" transform="rotate(-15 407.6 725)"/><ellipse cx="409.6" cy="724.5" rx="1.1" ry="2.1" transform="rotate(-15 409.6 724.5)"/><ellipse cx="380.9" cy="658" rx="1.1" ry="2.1" transform="rotate(-15 380.9 658)"/><ellipse cx="382.9" cy="657.4" rx="1.1" ry="2.1" transform="rotate(-15 382.9 657.4)"/><ellipse cx="384.9" cy="656.9" rx="1.1" ry="2.1" transform="rotate(-15 384.9 656.9)"/><ellipse cx="386.9" cy="656.4" rx="1.1" ry="2.1" transform="rotate(-15 386.9 656.4)"/><ellipse cx="389" cy="655.8" rx="1.1" ry="2.1" transform="rotate(-15 389 655.8)"/><ellipse cx="391" cy="655.3" rx="1.1" ry="2.1" transform="rotate(-15 391 655.3)"/><ellipse cx="395.4" cy="726.8" rx="1.1" ry="2.1" transform="rotate(-15 395.4 726.8)"/><ellipse cx="397.4" cy="726.3" rx="1.1" ry="2.1" transform="rotate(-15 397.4 726.3)"/><ellipse cx="399.4" cy="725.8" rx="1.1" ry="2.1" transform="rotate(-15 399.4 725.8)"/><ellipse cx="401.5" cy="725.2" rx="1.1" ry="2.1" transform="rotate(-15 401.5 725.2)"/><ellipse cx="403.5" cy="724.7" rx="1.1" ry="2.1" transform="rotate(-15 403.5 724.7)"/><ellipse cx="405.5" cy="724.1" rx="1.1" ry="2.1" transform="rotate(-15 405.5 724.1)"/><ellipse cx="377.5" cy="660.3" rx="1.1" ry="2.1" transform="rotate(-15 377.5 660.3)"/><ellipse cx="379.5" cy="659.8" rx="1.1" ry="2.1" transform="rotate(-15 379.5 659.8)"/><ellipse cx="381.5" cy="659.2" rx="1.1" ry="2.1" transform="rotate(-15 381.5 659.2)"/><ellipse cx="383.6" cy="658.7" rx="1.1" ry="2.1" transform="rotate(-15 383.6 658.7)"/><ellipse cx="385.6" cy="658.2" rx="1.1" ry="2.1" transform="rotate(-15 385.6 658.2)"/><ellipse cx="387.6" cy="657.6" rx="1.1" ry="2.1" transform="rotate(-15 387.6 657.6)"/><ellipse cx="391.2" cy="725.2" rx="1.1" ry="2.1" transform="rotate(-15 391.2 725.2)"/><ellipse cx="393.2" cy="724.7" rx="1.1" ry="2.1" transform="rotate(-15 393.2 724.7)"/><ellipse cx="395.2" cy="724.1" rx="1.1" ry="2.1" transform="rotate(-15 395.2 724.1)"/><ellipse cx="397.2" cy="723.6" rx="1.1" ry="2.1" transform="rotate(-15 397.2 723.6)"/><ellipse cx="399.3" cy="723" rx="1.1" ry="2.1" transform="rotate(-15 399.3 723)"/><ellipse cx="401.3" cy="722.5" rx="1.1" ry="2.1" transform="rotate(-15 401.3 722.5)"/><ellipse cx="374.7" cy="663.9" rx="1.1" ry="2.1" transform="rotate(-15 374.7 663.9)"/><ellipse cx="376.7" cy="663.3" rx="1.1" ry="2.1" transform="rotate(-15 376.7 663.3)"/><ellipse cx="378.7" cy="662.8" rx="1.1" ry="2.1" transform="rotate(-15 378.7 662.8)"/><ellipse cx="380.7" cy="662.3" rx="1.1" ry="2.1" transform="rotate(-15 380.7 662.3)"/><ellipse cx="382.8" cy="661.7" rx="1.1" ry="2.1" transform="rotate(-15 382.8 661.7)"/><ellipse cx="384.8" cy="661.2" rx="1.1" ry="2.1" transform="rotate(-15 384.8 661.2)"/><ellipse cx="387" cy="722.3" rx="1.1" ry="2.1" transform="rotate(-15 387 722.3)"/><ellipse cx="389" cy="721.7" rx="1.1" ry="2.1" transform="rotate(-15 389 721.7)"/><ellipse cx="391" cy="721.2" rx="1.1" ry="2.1" transform="rotate(-15 391 721.2)"/><ellipse cx="393" cy="720.7" rx="1.1" ry="2.1" transform="rotate(-15 393 720.7)"/><ellipse cx="395.1" cy="720.1" rx="1.1" ry="2.1" transform="rotate(-15 395.1 720.1)"/><ellipse cx="397.1" cy="719.6" rx="1.1" ry="2.1" transform="rotate(-15 397.1 719.6)"/><ellipse cx="372.5" cy="668.5" rx="1.1" ry="2.1" transform="rotate(-15 372.5 668.5)"/><ellipse cx="374.6" cy="668" rx="1.1" ry="2.1" transform="rotate(-15 374.6 668)"/><ellipse cx="376.6" cy="667.4" rx="1.1" ry="2.1" transform="rotate(-15 376.6 667.4)"/><ellipse cx="378.6" cy="666.9" rx="1.1" ry="2.1" transform="rotate(-15 378.6 666.9)"/><ellipse cx="380.6" cy="666.4" rx="1.1" ry="2.1" transform="rotate(-15 380.6 666.4)"/><ellipse cx="382.6" cy="665.8" rx="1.1" ry="2.1" transform="rotate(-15 382.6 665.8)"/><ellipse cx="383" cy="718.2" rx="1.1" ry="2.1" transform="rotate(-15 383 718.2)"/><ellipse cx="385" cy="717.6" rx="1.1" ry="2.1" transform="rotate(-15 385 717.6)"/><ellipse cx="387" cy="717.1" rx="1.1" ry="2.1" transform="rotate(-15 387 717.1)"/><ellipse cx="389.1" cy="716.6" rx="1.1" ry="2.1" transform="rotate(-15 389.1 716.6)"/><ellipse cx="391.1" cy="716" rx="1.1" ry="2.1" transform="rotate(-15 391.1 716)"/><ellipse cx="393.1" cy="715.5" rx="1.1" ry="2.1" transform="rotate(-15 393.1 715.5)"/><ellipse cx="371.1" cy="674.1" rx="1.1" ry="2.1" transform="rotate(-15 371.1 674.1)"/><ellipse cx="373.2" cy="673.5" rx="1.1" ry="2.1" transform="rotate(-15 373.2 673.5)"/><ellipse cx="375.2" cy="673" rx="1.1" ry="2.1" transform="rotate(-15 375.2 673)"/><ellipse cx="377.2" cy="672.5" rx="1.1" ry="2.1" transform="rotate(-15 377.2 672.5)"/><ellipse cx="379.2" cy="671.9" rx="1.1" ry="2.1" transform="rotate(-15 379.2 671.9)"/><ellipse cx="381.2" cy="671.4" rx="1.1" ry="2.1" transform="rotate(-15 381.2 671.4)"/><ellipse cx="379.4" cy="713.1" rx="1.1" ry="2.1" transform="rotate(-15 379.4 713.1)"/><ellipse cx="381.4" cy="712.6" rx="1.1" ry="2.1" transform="rotate(-15 381.4 712.6)"/><ellipse cx="383.4" cy="712" rx="1.1" ry="2.1" transform="rotate(-15 383.4 712)"/><ellipse cx="385.4" cy="711.5" rx="1.1" ry="2.1" transform="rotate(-15 385.4 711.5)"/><ellipse cx="387.4" cy="710.9" rx="1.1" ry="2.1" transform="rotate(-15 387.4 710.9)"/><ellipse cx="389.4" cy="710.4" rx="1.1" ry="2.1" transform="rotate(-15 389.4 710.4)"/><ellipse cx="370.5" cy="680.3" rx="1.1" ry="2.1" transform="rotate(-15 370.5 680.3)"/><ellipse cx="372.6" cy="679.8" rx="1.1" ry="2.1" transform="rotate(-15 372.6 679.8)"/><ellipse cx="374.6" cy="679.2" rx="1.1" ry="2.1" transform="rotate(-15 374.6 679.2)"/><ellipse cx="376.6" cy="678.7" rx="1.1" ry="2.1" transform="rotate(-15 376.6 678.7)"/><ellipse cx="378.6" cy="678.2" rx="1.1" ry="2.1" transform="rotate(-15 378.6 678.2)"/><ellipse cx="380.6" cy="677.6" rx="1.1" ry="2.1" transform="rotate(-15 380.6 677.6)"/><ellipse cx="376.2" cy="707.2" rx="1.1" ry="2.1" transform="rotate(-15 376.2 707.2)"/><ellipse cx="378.2" cy="706.7" rx="1.1" ry="2.1" transform="rotate(-15 378.2 706.7)"/><ellipse cx="380.2" cy="706.1" rx="1.1" ry="2.1" transform="rotate(-15 380.2 706.1)"/><ellipse cx="382.3" cy="705.6" rx="1.1" ry="2.1" transform="rotate(-15 382.3 705.6)"/><ellipse cx="384.3" cy="705" rx="1.1" ry="2.1" transform="rotate(-15 384.3 705)"/><ellipse cx="386.3" cy="704.5" rx="1.1" ry="2.1" transform="rotate(-15 386.3 704.5)"/><ellipse cx="370.8" cy="687" rx="1.1" ry="2.1" transform="rotate(-15 370.8 687)"/><ellipse cx="372.8" cy="686.5" rx="1.1" ry="2.1" transform="rotate(-15 372.8 686.5)"/><ellipse cx="374.8" cy="685.9" rx="1.1" ry="2.1" transform="rotate(-15 374.8 685.9)"/><ellipse cx="376.8" cy="685.4" rx="1.1" ry="2.1" transform="rotate(-15 376.8 685.4)"/><ellipse cx="378.8" cy="684.9" rx="1.1" ry="2.1" transform="rotate(-15 378.8 684.9)"/><ellipse cx="380.9" cy="684.3" rx="1.1" ry="2.1" transform="rotate(-15 380.9 684.3)"/><ellipse cx="373.7" cy="700.7" rx="1.1" ry="2.1" transform="rotate(-15 373.7 700.7)"/><ellipse cx="375.7" cy="700.2" rx="1.1" ry="2.1" transform="rotate(-15 375.7 700.2)"/><ellipse cx="377.7" cy="699.6" rx="1.1" ry="2.1" transform="rotate(-15 377.7 699.6)"/><ellipse cx="379.7" cy="699.1" rx="1.1" ry="2.1" transform="rotate(-15 379.7 699.1)"/><ellipse cx="381.7" cy="698.6" rx="1.1" ry="2.1" transform="rotate(-15 381.7 698.6)"/><ellipse cx="383.7" cy="698" rx="1.1" ry="2.1" transform="rotate(-15 383.7 698)"/><ellipse cx="371.8" cy="693.9" rx="1.1" ry="2.1" transform="rotate(-15 371.8 693.9)"/><ellipse cx="373.9" cy="693.4" rx="1.1" ry="2.1" transform="rotate(-15 373.9 693.4)"/><ellipse cx="375.9" cy="692.8" rx="1.1" ry="2.1" transform="rotate(-15 375.9 692.8)"/><ellipse cx="377.9" cy="692.3" rx="1.1" ry="2.1" transform="rotate(-15 377.9 692.3)"/><ellipse cx="379.9" cy="691.7" rx="1.1" ry="2.1" transform="rotate(-15 379.9 691.7)"/><ellipse cx="381.9" cy="691.2" rx="1.1" ry="2.1" transform="rotate(-15 381.9 691.2)"/></g><path d="M395.6,660.3 394.2,660.4 392.9,660.7 391.6,661 390.4,661.6 389.2,662.2 388.1,663 387,664 386,665 385.1,666.2 384.3,667.5 383.5,668.9 382.8,670.5 382.2,672.1 381.7,673.8 381.3,675.6 380.9,677.4 380.7,679.3 380.6,681.3 380.5,683.3 380.6,685.4 380.7,687.5 381,689.5 381.4,691.6 381.8,693.7 382.3,695.8 383,697.8 383.7,699.8 384.5,701.8 385.3,703.7 386.3,705.5 387.3,707.3 388.4,708.9 389.5,710.5 390.7,712 392,713.4 393.3,714.6 394.6,715.8 395.9,716.8 397.3,717.7 398.7,718.4 400.1,719 401.5,719.5 402.9,719.8 404.3,720 405.6,720.1 407,720 408.3,719.7 409.5,719.3" fill="none" stroke="#000" stroke-width="1.8"/><ellipse cx="324.8" cy="710" rx="30.5" ry="48" transform="rotate(-15 324.8 710)" fill="#fff" stroke="#000" stroke-width="1.8"/><path d="M308.3,744.2 309.7,745.7 311.2,747.2 312.6,748.5 314.1,749.7 315.6,750.9 317.2,751.9 318.7,752.8 320.2,753.6 321.8,754.2 323.4,754.8 324.9,755.2 326.5,755.6 328,755.8 329.6,755.8 331.1,755.8 332.5,755.6 334,755.3 335.4,754.9 336.8,754.4 338.2,753.7 339.5,753 340.7,752.1 342,751.1 343.1,750 344.2,748.8 345.3,747.5 346.3,746.1 347.2,744.6 348,743 348.8,741.3 349.5,739.5 350.2,737.7 350.7,735.8 351.2,733.8 351.6,731.7 352,729.6 352.2,727.5 352.4,725.3 352.5,723 352.5,720.8 352.4,718.5 352.3,716.1 352,713.8 351.7,711.5 351.3,709.1 350.8,706.8 350.3,704.4 349.7,702.1" fill="none" stroke="#444" stroke-width="0.6"/><path d="M316,750.7 317.2,751.4 318.4,752.1 319.6,752.7 320.8,753.2 322,753.6 323.2,754 324.4,754.3 325.6,754.5 326.8,754.7 328,754.8 329.2,754.8 330.3,754.7 331.4,754.5 332.6,754.3 333.7,754 334.8,753.6 335.8,753.2 336.9,752.6 337.9,752 338.8,751.4 339.8,750.6 340.7,749.8 341.6,749 342.5,748 343.3,747 344,746 344.8,744.8 345.5,743.6 346.1,742.4 346.7,741.1 347.3,739.8 347.8,738.4 348.3,736.9 348.7,735.4 349.1,733.9 349.5,732.3 349.8,730.7 350,729.1 350.2,727.4 350.3,725.7 350.4,724 350.5,722.3 350.4,720.5 350.4,718.7 350.3,716.9 350.1,715.1 349.9,713.3 349.6,711.5" fill="none" stroke="#444" stroke-width="0.6"/><ellipse cx="316.5" cy="712.6" rx="26.4" ry="42.5" transform="rotate(-15 316.5 712.6)" fill="#fff" stroke="#222" stroke-width="0.8"/><ellipse cx="313.5" cy="713.2" rx="26" ry="42" transform="rotate(-15 313.5 713.2)" fill="#fff" stroke="#000" stroke-width="0.9"/><ellipse cx="309.9" cy="714.1" rx="25.8" ry="41.5" transform="rotate(-15 309.9 714.1)" fill="#fff" stroke="#000" stroke-width="1.8"/><ellipse cx="310.5" cy="712.8" rx="20.5" ry="32.5" transform="rotate(-15 310.5 712.8)" fill="none" stroke="#555" stroke-width="0.6"/><ellipse cx="310.2" cy="712.5" rx="17.9" ry="29.4" transform="rotate(-15 310.2 712.5)" fill="none" stroke="#000" stroke-width="1.2"/><ellipse cx="310.8" cy="713" rx="16" ry="27" transform="rotate(-15 310.8 713)" fill="none" stroke="#444" stroke-width="0.7"/><ellipse cx="311.8" cy="713.8" rx="12.2" ry="22.6" transform="rotate(-15 311.8 713.8)" fill="#fff" stroke="#000" stroke-width="1.6"/><path d="M306.4,692.8 305.9,693.2 305.4,693.7 304.9,694.2 304.5,694.8 304.1,695.5 303.7,696.2 303.3,696.9 303,697.8 302.7,698.7 302.5,699.6 302.3,700.6 302.1,701.6 302,702.7 302,703.8 301.9,704.9 301.9,706.1 302,707.3 302,708.5 302.2,709.7 302.3,711 302.5,712.2 302.8,713.4 303,714.7 303.4,715.9 303.7,717.2 304.1,718.4 304.5,719.6 305,720.8 305.4,721.9 305.9,723.1 306.5,724.2 307,725.2 307.6,726.2 308.2,727.2 308.8,728.1 309.5,729 310.1,729.8 310.8,730.5 311.5,731.2 312.1,731.8 312.8,732.4 313.5,732.9 314.2,733.3 314.9,733.7 315.6,734 316.3,734.2 316.9,734.4 317.6,734.4" fill="none" stroke="#000" stroke-width="1.0"/><rect x="283" y="712.9" width="10" height="3.2" rx="1.6" transform="rotate(75 288 714.5)" fill="none" stroke="#333" stroke-width="0.8"/><rect x="308" y="680.4" width="10" height="3.2" rx="1.6" transform="rotate(25 313 682)" fill="none" stroke="#333" stroke-width="0.8"/><rect x="317.5" y="742.9" width="10" height="3.2" rx="1.6" transform="rotate(-35 322.5 744.5)" fill="none" stroke="#333" stroke-width="0.8"/><ellipse cx="232.4" cy="736.5" rx="25.5" ry="41.6" transform="rotate(-15 232.4 736.5)" fill="none" stroke="#000" stroke-width="1.8"/><ellipse cx="232.4" cy="736.5" rx="23" ry="38.9" transform="rotate(-15 232.4 736.5)" fill="none" stroke="#000" stroke-width="1.2"/><ellipse cx="182.5" cy="749.6" rx="14.9" ry="23.7" transform="rotate(-15 182.5 749.6)" fill="none" stroke="#000" stroke-width="1.8"/><ellipse cx="182.5" cy="749.6" rx="11.8" ry="20.5" transform="rotate(-15 182.5 749.6)" fill="none" stroke="#000" stroke-width="1.2"/><path d="M176.7,773.1 L161.6,781.1 L163.8,782.9 L159.3,792 L165.6,796.3 L171.1,788.7 L175.8,789.8 Z" fill="#000"/><path d="M256,773.8 L272.7,778.5 L269.8,782.2 L276.7,789.4 L270.9,794.5 L263.3,788 L260.7,790.2 Z" fill="#000"/><circle cx="307.2" cy="874.4" r="4.4" fill="#000"/><path d="M317.1,85V91M314.5,86.5L319.7,89.5M314.5,89.5L319.7,86.5M171.9,123V129M169.3,124.5L174.5,127.5M169.3,127.5L174.5,124.5M534.1,293.1V299.1M531.5,294.6L536.7,297.6M531.5,297.6L536.7,294.6M389,366.9V372.9M386.4,368.4L391.6,371.4M386.4,371.4L391.6,368.4M469.3,507.8V513.8M466.7,509.3L471.9,512.3M466.7,512.3L471.9,509.3M324.8,554V560M322.2,555.5L327.4,558.5M322.2,558.5L327.4,555.5M533.1,758.1V764.1M530.5,759.6L535.7,762.6M530.5,762.6L535.7,759.6M379.1,810V816M376.5,811.5L381.7,814.5M376.5,814.5L381.7,811.5M320.5,869.7V875.7M317.9,871.2L323.1,874.2M317.9,874.2L323.1,871.2" fill="none" stroke="#000" stroke-width="0.95"/><g font-family="Liberation Sans, sans-serif" font-size="12.4" fill="#000"><text x="320.6" y="93.8">4</text><text x="175.4" y="131.8">5</text><text x="537.6" y="301.9">6</text><text x="392.5" y="375.7">1</text><text x="472.8" y="516.6">6</text><text x="328.3" y="562.8">3</text><text x="536.6" y="766.9">7</text><text x="382.6" y="818.8">2</text><text x="324" y="878.5">8</text></g><text x="0.6" y="944.8" font-family="Liberation Sans, sans-serif" font-size="11" fill="#000" stroke="#000" stroke-width="0.15">P</text></svg></body></html>
